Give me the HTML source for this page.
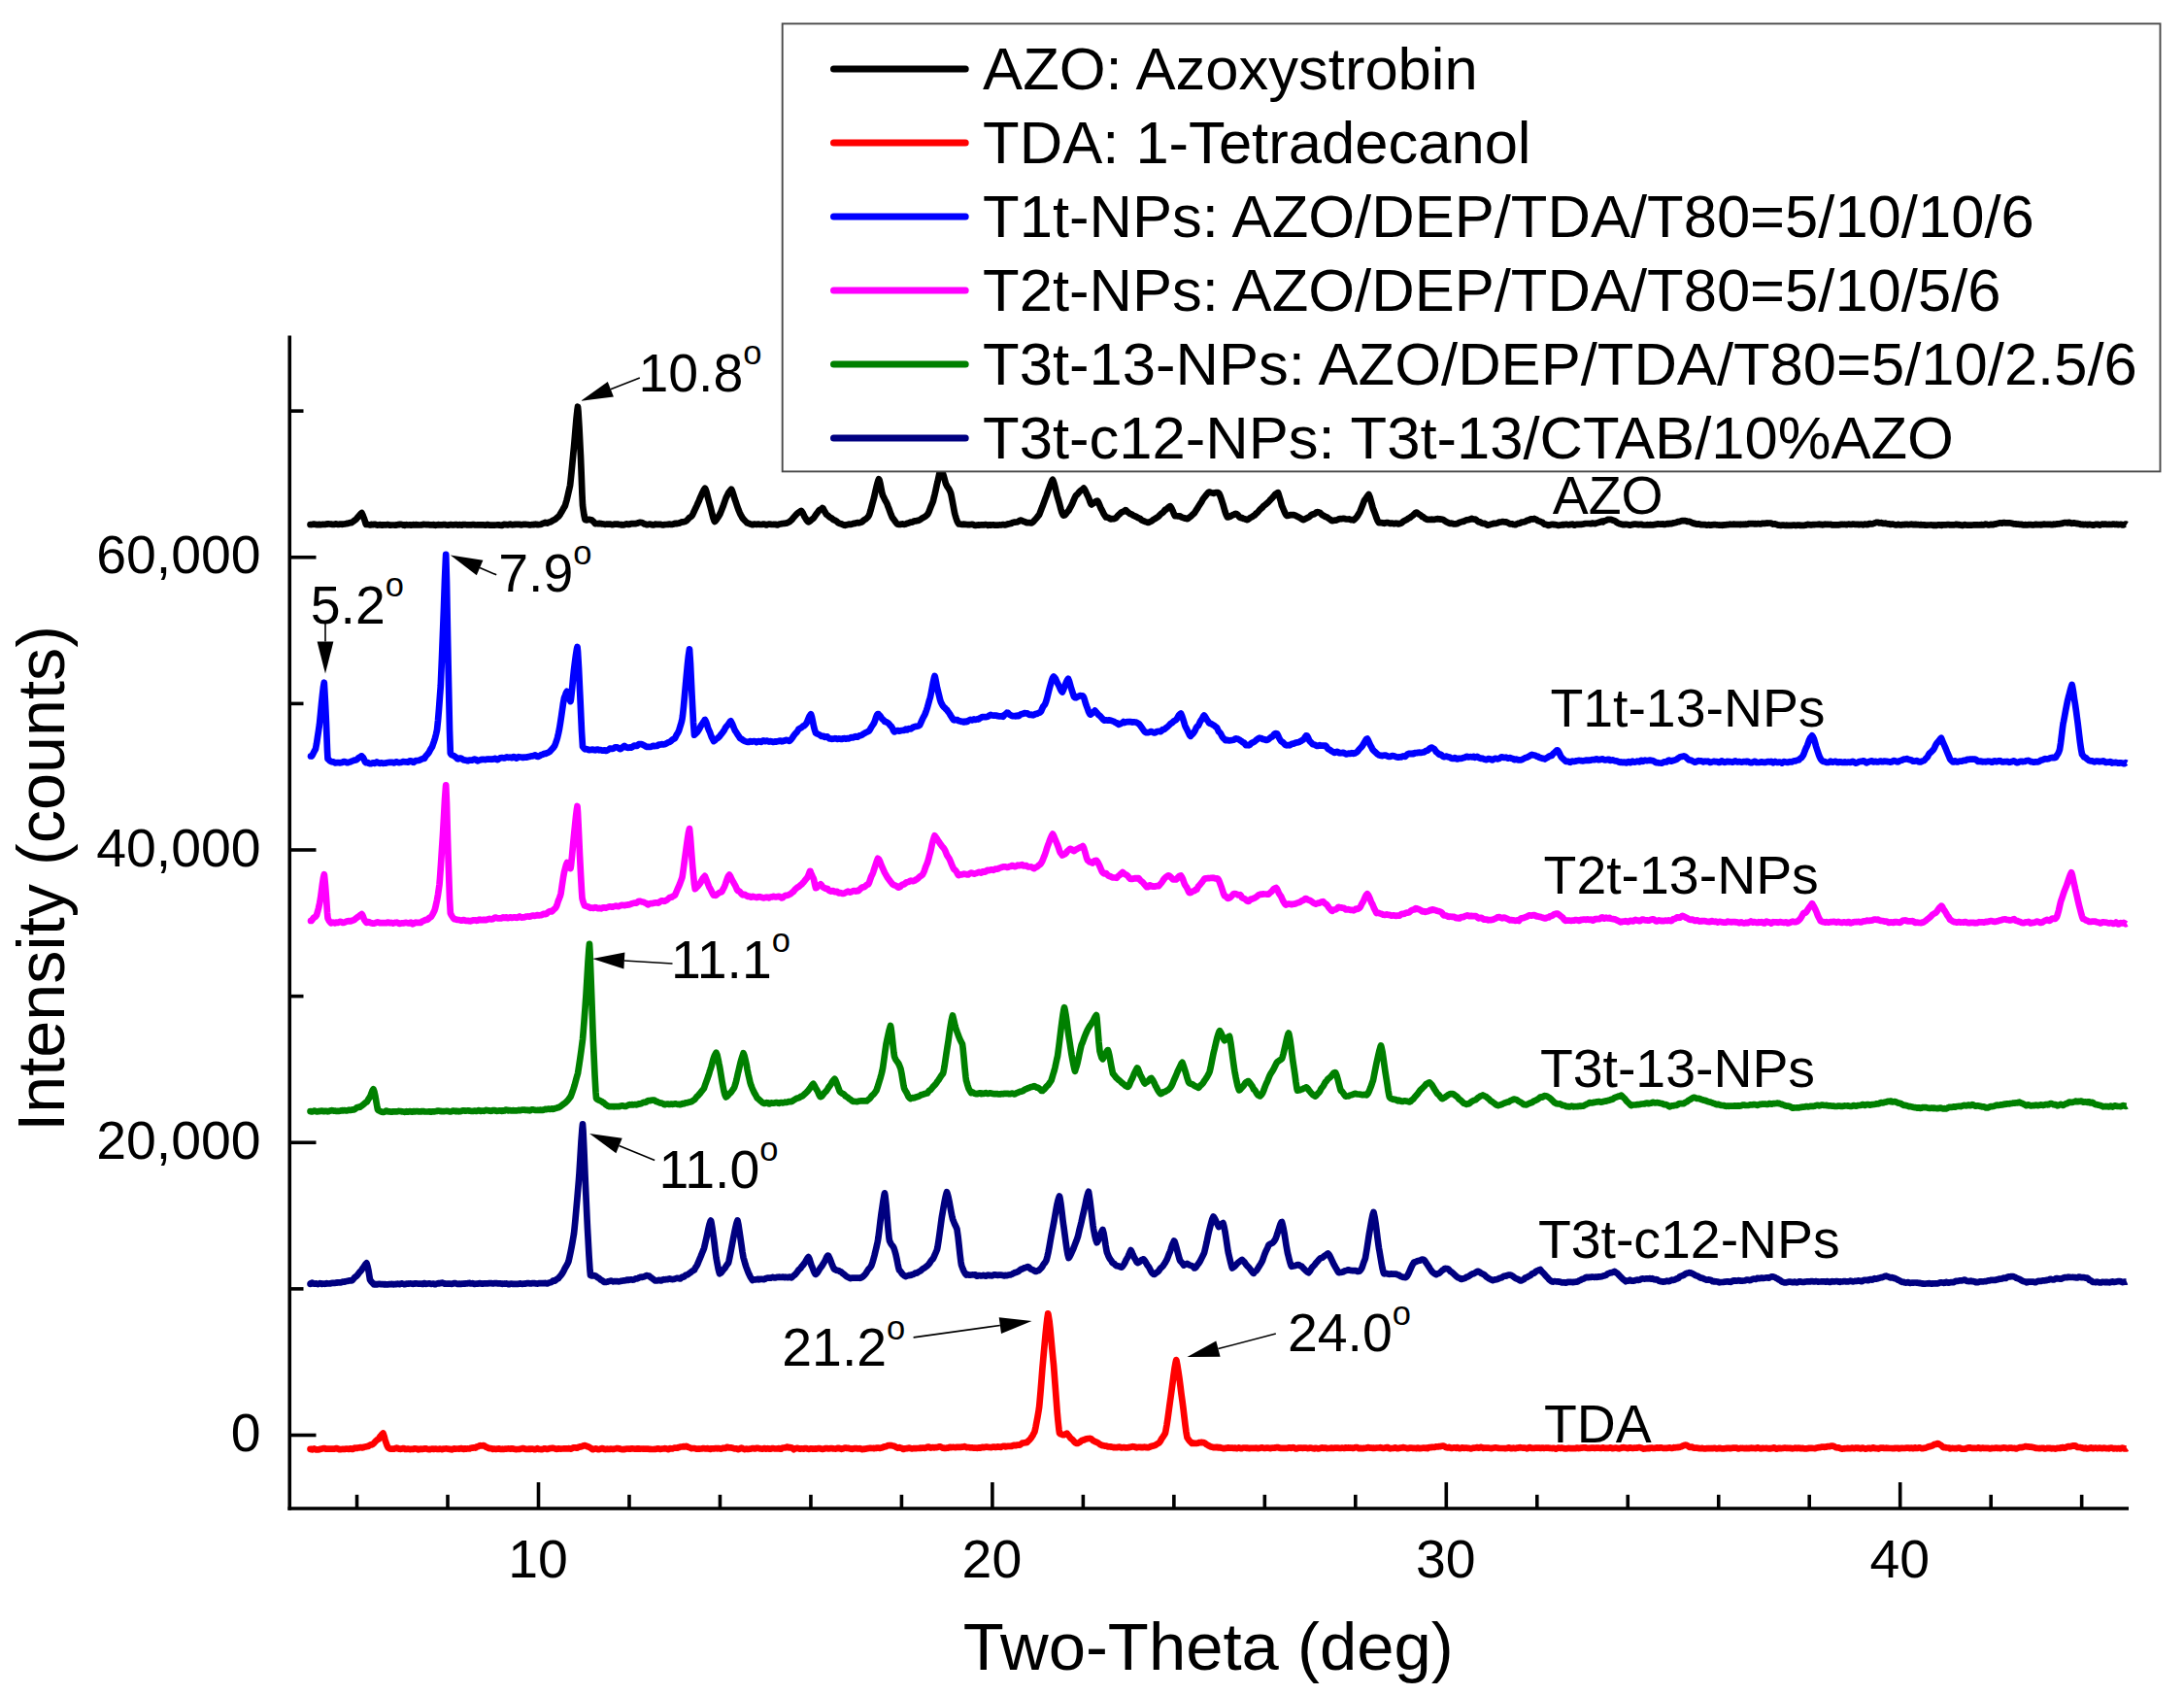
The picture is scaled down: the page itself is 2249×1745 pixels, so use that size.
<!DOCTYPE html>
<html><head><meta charset="utf-8"><title>XRD patterns</title>
<style>html,body{margin:0;padding:0;background:#fff}</style></head>
<body>
<svg width="2249" height="1745" viewBox="0 0 2249 1745" style="display:block">
<rect width="2249" height="1745" fill="#fff"/>
<g fill="none" stroke-width="6.7" stroke-linejoin="round" stroke-linecap="butt">
<path d="M319.5,540.0 L320.5,540.0 L321.5,539.9 L322.5,539.7 L323.5,539.7 L324.5,539.8 L325.5,540.0 L326.5,540.2 L327.5,540.0 L328.5,539.9 L329.5,540.1 L330.5,540.1 L331.5,540.0 L332.5,539.8 L333.5,540.0 L334.5,540.0 L335.5,539.7 L336.5,539.6 L337.5,539.4 L338.5,539.4 L339.5,539.5 L340.5,539.6 L341.5,539.7 L342.5,539.9 L343.5,540.0 L344.5,539.7 L345.5,539.4 L346.5,539.6 L347.5,539.9 L348.5,539.9 L349.5,539.7 L350.0,539.6 L350.5,539.6 L351.5,539.7 L352.5,539.8 L353.5,539.6 L354.5,539.5 L355.5,539.4 L356.5,539.1 L357.5,538.9 L358.5,538.8 L359.5,538.5 L360.5,538.1 L361.5,538.1 L362.0,538.1 L362.5,537.6 L363.5,537.0 L364.5,536.3 L365.5,535.4 L366.5,534.8 L367.5,533.7 L368.0,532.8 L368.5,532.4 L369.5,531.3 L370.5,530.0 L371.5,528.9 L372.5,528.1 L373.5,530.2 L374.5,532.9 L375.0,534.0 L375.5,535.5 L376.5,538.9 L377.0,539.9 L377.5,539.7 L378.5,539.8 L379.5,540.1 L380.5,540.4 L381.5,540.3 L382.5,539.9 L383.5,540.0 L384.5,540.1 L385.5,539.8 L386.5,539.9 L387.5,540.3 L388.5,540.6 L389.5,540.5 L390.5,540.3 L391.5,540.2 L392.5,540.4 L393.5,540.6 L394.5,540.4 L395.5,540.3 L396.5,540.4 L397.5,540.4 L398.5,540.2 L399.5,540.1 L400.0,540.2 L400.5,540.4 L401.5,540.7 L402.5,540.6 L403.5,540.5 L404.5,540.5 L405.5,540.5 L406.5,540.6 L407.5,540.6 L408.5,540.4 L409.5,540.2 L410.5,540.2 L411.5,539.9 L412.5,539.8 L413.5,540.0 L414.5,540.2 L415.5,540.6 L416.5,540.8 L417.5,540.4 L418.5,540.2 L419.5,540.4 L420.5,540.5 L421.5,540.4 L422.5,540.4 L423.5,540.6 L424.5,540.5 L425.5,540.2 L426.5,540.3 L427.5,540.3 L428.5,540.2 L429.5,540.3 L430.5,540.4 L431.5,540.5 L432.5,540.5 L433.5,540.4 L434.5,540.3 L435.5,540.1 L436.5,539.9 L437.5,540.0 L438.5,540.1 L439.5,540.1 L440.5,540.2 L441.5,540.2 L442.5,540.3 L443.5,540.4 L444.5,540.5 L445.5,540.3 L446.5,540.2 L447.5,540.6 L448.5,540.8 L449.5,540.5 L450.5,540.3 L451.5,540.2 L452.5,540.3 L453.5,540.5 L454.5,540.4 L455.5,540.3 L456.5,540.2 L457.5,540.1 L458.5,540.2 L459.5,540.5 L460.5,540.6 L461.5,540.6 L462.5,540.4 L463.5,540.2 L464.5,540.2 L465.5,540.3 L466.5,540.3 L467.5,540.3 L468.5,540.2 L469.5,540.0 L470.5,540.3 L471.5,540.6 L472.5,540.3 L473.5,540.2 L474.5,540.5 L475.5,540.6 L476.5,540.2 L477.5,540.1 L478.5,540.1 L479.5,540.1 L480.5,540.4 L481.5,540.5 L482.5,540.3 L483.5,540.3 L484.5,540.4 L485.5,540.3 L486.5,540.2 L487.5,540.0 L488.5,540.2 L489.5,540.5 L490.5,540.5 L491.5,540.4 L492.5,540.4 L493.5,540.3 L494.5,540.3 L495.5,540.4 L496.5,540.4 L497.5,540.3 L498.5,540.5 L499.5,540.7 L500.0,540.7 L500.5,540.5 L501.5,540.2 L502.5,540.1 L503.5,540.5 L504.5,540.7 L505.5,540.5 L506.5,540.6 L507.5,540.7 L508.5,540.7 L509.5,540.6 L510.5,540.5 L511.5,540.5 L512.5,540.3 L513.5,540.4 L514.5,540.6 L515.5,540.8 L516.5,541.0 L517.5,540.7 L518.5,540.1 L519.5,539.9 L520.5,540.2 L521.5,540.2 L522.5,540.3 L523.5,540.3 L524.5,539.8 L525.5,539.7 L526.5,540.1 L527.5,540.3 L528.5,540.2 L529.5,540.1 L530.5,539.9 L531.5,539.8 L532.5,539.9 L533.5,539.8 L534.5,539.8 L535.5,540.1 L536.5,540.3 L537.5,540.2 L538.5,540.0 L539.5,539.8 L540.5,539.8 L541.5,539.9 L542.5,540.0 L543.5,540.0 L544.5,540.2 L545.5,540.4 L546.5,540.4 L547.5,540.1 L548.5,540.1 L549.5,540.1 L550.5,539.9 L551.5,539.7 L552.5,539.9 L553.5,540.1 L554.5,540.1 L555.0,540.0 L555.5,540.0 L556.5,540.0 L557.5,539.6 L558.5,539.0 L559.5,538.7 L560.5,538.3 L561.5,537.9 L562.5,538.3 L563.5,538.6 L564.5,538.2 L565.0,537.7 L565.5,537.6 L566.5,537.5 L567.5,537.0 L568.5,536.3 L569.5,535.7 L570.5,535.2 L571.5,534.7 L572.5,534.0 L573.5,533.1 L574.5,532.2 L575.0,531.9 L575.5,531.4 L576.5,530.0 L577.5,528.2 L578.5,526.6 L579.5,524.8 L580.5,523.0 L581.5,521.4 L582.0,520.4 L582.5,518.5 L583.5,515.1 L584.5,511.0 L585.5,506.5 L586.5,502.2 L587.0,500.0 L587.5,495.8 L588.5,486.1 L589.5,475.7 L590.5,465.2 L591.0,460.3 L591.5,454.8 L592.5,442.9 L593.5,431.4 L594.5,422.0 L595.0,418.7 L595.5,423.9 L596.5,440.5 L597.5,460.6 L598.0,470.4 L598.5,482.8 L599.5,509.7 L600.0,520.0 L600.5,523.9 L601.5,530.6 L602.5,535.1 L603.5,535.4 L604.5,535.3 L605.5,535.0 L606.5,534.8 L607.5,535.0 L608.5,535.3 L608.8,535.3 L609.5,535.5 L610.5,536.4 L611.5,537.4 L612.5,538.6 L613.0,539.1 L613.5,539.0 L614.5,539.0 L615.5,539.1 L616.5,539.1 L617.5,538.9 L618.5,539.0 L619.5,539.3 L620.5,539.4 L621.5,539.5 L622.5,539.7 L623.5,539.9 L624.5,539.6 L625.5,539.5 L626.5,539.6 L627.5,539.6 L628.5,539.6 L629.5,540.0 L630.5,540.2 L631.5,540.0 L632.5,539.7 L633.5,539.7 L634.5,539.7 L635.5,539.6 L636.5,539.7 L637.5,540.0 L638.5,540.0 L639.5,540.3 L640.0,540.4 L640.5,540.2 L641.5,540.3 L642.5,540.3 L643.5,540.0 L644.5,539.5 L645.5,539.4 L646.5,539.7 L647.5,540.0 L648.5,539.8 L649.5,539.3 L650.5,539.1 L651.5,539.2 L652.5,539.2 L653.5,539.2 L654.5,539.1 L655.0,539.1 L655.5,538.8 L656.5,538.6 L657.5,538.2 L658.5,537.9 L659.5,537.9 L660.0,538.0 L660.5,538.0 L661.5,538.3 L662.5,538.8 L663.5,539.5 L664.0,539.5 L664.5,539.6 L665.5,540.1 L666.5,540.2 L667.5,539.9 L668.5,539.6 L669.5,539.7 L670.5,539.9 L671.5,540.3 L672.5,540.5 L673.5,540.2 L674.5,539.7 L675.5,539.7 L676.5,539.9 L677.5,539.8 L678.5,539.8 L679.5,539.8 L680.5,539.9 L681.5,540.2 L682.5,540.4 L683.5,540.3 L684.5,540.1 L685.5,540.0 L686.5,540.0 L687.5,539.9 L688.5,539.8 L689.5,539.6 L690.0,539.7 L690.5,539.9 L691.5,539.9 L692.5,539.8 L693.5,539.6 L694.5,539.1 L695.5,538.9 L696.5,539.1 L697.5,538.9 L698.5,538.7 L699.5,538.6 L700.5,538.2 L701.5,537.6 L702.5,537.4 L703.5,537.5 L704.5,537.1 L705.0,536.8 L705.5,536.8 L706.5,536.4 L707.5,535.6 L708.5,534.5 L709.5,533.3 L710.5,532.6 L711.5,532.0 L712.5,530.9 L713.0,530.2 L713.5,529.2 L714.5,527.0 L715.5,524.8 L716.5,522.7 L717.5,520.6 L718.5,518.3 L719.5,516.2 L720.0,515.1 L720.5,513.7 L721.5,511.4 L722.5,509.2 L723.5,506.9 L724.5,504.9 L725.5,503.3 L726.0,502.7 L726.5,503.6 L727.5,506.4 L728.5,510.3 L729.5,514.3 L730.5,518.0 L731.0,519.8 L731.5,521.6 L732.5,525.5 L733.5,529.7 L734.5,533.4 L735.5,536.2 L736.0,537.0 L736.5,536.6 L737.5,535.4 L738.5,534.0 L739.5,532.5 L740.5,530.8 L741.5,529.0 L742.0,527.9 L742.5,526.6 L743.5,524.1 L744.5,521.6 L745.5,518.7 L746.5,515.7 L747.5,512.9 L748.0,511.7 L748.5,510.9 L749.5,508.8 L750.5,506.8 L751.5,505.6 L752.5,504.5 L753.0,503.7 L753.5,504.3 L754.5,506.9 L755.5,510.1 L756.5,513.4 L757.0,514.8 L757.5,516.2 L758.5,519.2 L759.5,522.1 L760.5,524.9 L761.5,527.3 L762.5,529.5 L763.5,531.2 L764.5,533.1 L765.5,534.4 L766.5,535.4 L767.0,536.0 L767.5,536.5 L768.5,537.5 L769.5,538.4 L770.5,538.7 L771.5,539.0 L772.5,539.5 L773.5,539.7 L774.5,540.1 L775.5,540.1 L776.5,539.7 L777.5,539.6 L778.5,539.9 L779.5,540.0 L780.5,539.6 L781.5,539.7 L782.5,539.9 L783.5,540.0 L784.5,539.9 L785.5,539.7 L786.5,539.6 L787.5,539.8 L788.5,540.3 L789.5,540.3 L790.5,539.9 L791.5,539.6 L792.5,539.5 L793.5,539.7 L794.5,539.9 L795.5,540.0 L796.5,539.9 L797.5,539.8 L798.5,539.9 L799.5,540.1 L800.0,540.5 L800.5,540.5 L801.5,540.0 L802.5,539.6 L803.5,539.5 L804.5,539.3 L805.5,539.1 L806.5,539.0 L807.5,538.8 L808.5,538.8 L809.5,538.6 L810.5,538.4 L811.5,538.0 L812.0,537.7 L812.5,537.4 L813.5,536.7 L814.5,535.8 L815.5,534.9 L816.5,533.6 L817.5,532.4 L818.5,531.3 L819.5,530.2 L820.0,529.7 L820.5,529.2 L821.5,528.2 L822.5,527.5 L823.5,526.9 L824.5,526.2 L825.0,525.9 L825.5,526.3 L826.5,527.8 L827.5,529.9 L828.5,532.0 L829.0,532.8 L829.5,533.5 L830.5,535.2 L831.5,536.6 L832.5,537.4 L833.5,537.0 L834.5,536.2 L835.5,535.2 L836.5,534.4 L837.5,533.6 L838.0,533.1 L838.5,532.4 L839.5,530.9 L840.5,529.4 L841.5,528.1 L842.5,526.8 L843.0,525.9 L843.5,525.3 L844.5,524.7 L845.5,524.2 L846.5,523.6 L847.0,523.0 L847.5,523.3 L848.5,525.2 L849.5,527.1 L850.5,528.7 L851.0,529.7 L851.5,530.0 L852.5,530.6 L853.5,531.6 L854.5,532.4 L855.5,532.9 L856.5,533.6 L857.5,534.5 L858.5,535.2 L859.5,535.6 L860.5,536.1 L861.5,536.7 L862.5,537.5 L863.0,538.1 L863.5,538.4 L864.5,538.8 L865.5,539.2 L866.5,539.4 L867.5,539.8 L868.5,540.4 L869.5,540.7 L870.0,540.8 L870.5,540.6 L871.5,540.4 L872.5,540.2 L873.5,539.8 L874.5,539.7 L875.5,539.8 L876.5,539.8 L877.5,539.5 L878.5,539.1 L879.5,538.9 L880.5,538.8 L881.5,538.4 L882.5,538.1 L883.5,538.2 L884.5,538.4 L885.5,538.1 L886.5,537.7 L887.5,537.5 L888.5,536.7 L889.5,535.5 L890.5,534.9 L891.5,534.3 L892.5,533.5 L893.5,532.5 L894.5,531.1 L895.0,530.2 L895.5,528.8 L896.5,525.6 L897.5,521.7 L898.5,517.8 L899.5,514.3 L900.0,512.5 L900.5,510.2 L901.5,505.7 L902.5,501.4 L903.5,497.5 L904.5,494.3 L905.0,493.2 L905.5,494.2 L906.5,498.1 L907.5,503.3 L908.5,508.3 L909.0,510.1 L909.5,510.9 L910.5,513.0 L911.5,515.1 L912.5,516.8 L913.5,518.7 L914.0,520.1 L914.5,521.5 L915.5,524.0 L916.5,526.8 L917.5,529.6 L918.5,532.1 L919.0,533.1 L919.5,533.6 L920.5,534.9 L921.5,536.4 L922.5,537.7 L923.5,539.0 L924.5,539.7 L925.0,539.8 L925.5,539.8 L926.5,539.9 L927.5,539.8 L928.5,539.5 L929.5,539.4 L930.5,539.7 L931.5,539.9 L932.5,539.6 L933.5,539.0 L934.5,538.7 L935.5,538.7 L936.5,538.1 L937.5,537.7 L938.5,537.6 L939.5,537.4 L940.5,536.9 L941.5,536.3 L942.5,536.3 L943.5,536.3 L944.5,536.0 L945.0,535.9 L945.5,535.9 L946.5,535.4 L947.5,534.9 L948.5,534.3 L949.5,533.6 L950.5,532.9 L951.5,532.4 L952.5,532.0 L953.5,531.2 L954.5,530.2 L955.0,529.8 L955.5,529.1 L956.5,527.0 L957.5,524.3 L958.5,521.7 L959.5,519.4 L960.5,517.0 L961.0,515.4 L961.5,513.2 L962.5,509.3 L963.5,505.0 L964.5,500.3 L965.0,498.0 L965.5,496.1 L966.5,491.5 L967.5,486.8 L968.5,483.3 L969.0,482.5 L969.5,483.5 L970.5,486.0 L971.5,489.2 L972.5,492.7 L973.5,496.4 L974.0,498.1 L974.5,499.2 L975.5,501.0 L976.5,502.4 L977.5,504.0 L978.5,506.2 L979.0,507.4 L979.5,509.4 L980.5,514.6 L981.5,520.0 L982.5,525.3 L983.0,528.0 L983.5,529.9 L984.5,533.3 L985.5,536.3 L986.5,538.3 L987.5,539.5 L988.5,539.5 L989.5,539.7 L990.5,539.8 L991.5,539.8 L992.5,539.7 L993.5,539.8 L994.5,539.9 L995.5,540.0 L996.5,540.1 L997.5,540.1 L998.5,540.1 L999.5,540.0 L1000.5,539.9 L1001.5,539.8 L1002.5,540.3 L1003.5,540.8 L1004.5,541.0 L1005.5,540.8 L1006.5,540.5 L1007.5,540.4 L1008.5,540.6 L1009.5,540.5 L1010.5,540.3 L1011.5,540.3 L1012.5,540.3 L1013.5,540.3 L1014.5,540.2 L1015.5,540.1 L1016.5,540.4 L1017.5,540.8 L1018.5,540.6 L1019.5,540.4 L1020.5,540.6 L1021.5,540.5 L1022.5,540.3 L1023.5,540.4 L1024.5,540.7 L1025.5,540.6 L1026.5,540.7 L1027.5,540.7 L1028.5,540.5 L1029.5,540.4 L1030.5,540.5 L1031.5,540.5 L1032.0,540.2 L1032.5,540.1 L1033.5,540.2 L1034.5,540.3 L1035.5,540.4 L1036.5,540.1 L1037.5,539.6 L1038.5,539.4 L1039.5,539.2 L1040.5,538.9 L1041.5,538.8 L1042.5,538.2 L1043.5,537.8 L1044.5,537.7 L1045.0,537.6 L1045.5,537.6 L1046.5,537.5 L1047.5,537.4 L1048.5,537.0 L1049.5,536.3 L1050.5,535.7 L1051.0,535.6 L1051.5,535.7 L1052.5,536.1 L1053.5,536.7 L1054.5,536.9 L1055.5,537.2 L1056.5,537.8 L1057.0,538.1 L1057.5,538.1 L1058.5,538.1 L1059.5,538.1 L1060.5,538.2 L1061.5,538.3 L1062.5,538.3 L1063.5,537.6 L1064.5,536.6 L1065.5,535.3 L1066.5,534.3 L1067.5,533.2 L1068.5,531.9 L1069.5,530.6 L1070.0,530.2 L1070.5,529.0 L1071.5,526.3 L1072.5,523.7 L1073.5,521.3 L1074.5,518.6 L1075.5,515.9 L1076.5,513.2 L1077.0,511.9 L1077.5,510.6 L1078.5,507.7 L1079.5,504.8 L1080.5,502.2 L1081.5,499.5 L1082.5,496.6 L1083.5,494.4 L1084.0,493.9 L1084.5,495.0 L1085.5,497.8 L1086.5,501.6 L1087.5,505.9 L1088.5,509.9 L1089.0,511.7 L1089.5,513.3 L1090.5,516.7 L1091.5,520.5 L1092.5,524.4 L1093.5,527.7 L1094.5,529.9 L1095.0,530.6 L1095.5,530.5 L1096.5,530.2 L1097.5,529.3 L1098.5,527.9 L1099.5,526.7 L1100.5,525.6 L1101.0,524.8 L1101.5,523.7 L1102.5,521.9 L1103.5,520.0 L1104.5,517.8 L1105.5,515.3 L1106.5,513.0 L1107.5,511.0 L1108.0,510.0 L1108.5,509.6 L1109.5,508.9 L1110.5,507.7 L1111.5,506.3 L1112.5,505.3 L1113.5,504.7 L1114.5,504.0 L1115.5,503.1 L1116.0,502.6 L1116.5,503.3 L1117.5,505.0 L1118.5,507.1 L1119.5,509.3 L1120.0,510.3 L1120.5,511.2 L1121.5,513.7 L1122.5,516.6 L1123.5,518.9 L1124.0,519.4 L1124.5,519.0 L1125.5,518.5 L1126.5,517.9 L1127.5,516.9 L1128.5,516.1 L1129.5,515.8 L1130.0,515.7 L1130.5,516.1 L1131.5,518.0 L1132.5,520.5 L1133.5,522.9 L1134.0,523.9 L1134.5,524.7 L1135.5,526.8 L1136.5,528.9 L1137.5,530.4 L1138.5,531.9 L1139.0,532.5 L1139.5,532.5 L1140.5,532.7 L1141.5,533.0 L1142.5,533.7 L1143.5,534.3 L1144.5,534.3 L1145.5,534.0 L1146.5,534.0 L1147.5,534.1 L1148.5,533.6 L1149.5,532.8 L1150.5,531.6 L1151.5,530.5 L1152.5,529.6 L1153.5,528.7 L1154.0,528.1 L1154.5,527.6 L1155.5,527.2 L1156.5,526.7 L1157.5,526.2 L1158.5,525.7 L1159.0,525.2 L1159.5,525.3 L1160.5,526.3 L1161.5,527.3 L1162.5,528.0 L1163.5,528.8 L1164.0,529.2 L1164.5,529.2 L1165.5,529.6 L1166.5,530.3 L1167.5,530.9 L1168.5,531.2 L1169.5,531.8 L1170.0,531.9 L1170.5,532.1 L1171.5,532.9 L1172.5,533.3 L1173.5,533.6 L1174.5,534.3 L1175.5,535.3 L1176.5,535.9 L1177.5,536.2 L1178.5,536.7 L1179.5,537.1 L1180.5,537.4 L1181.5,537.7 L1182.5,538.0 L1183.5,537.5 L1184.5,537.0 L1185.5,536.6 L1186.5,536.0 L1187.5,535.1 L1188.5,534.5 L1189.5,534.0 L1190.5,533.3 L1191.5,532.7 L1192.0,532.4 L1192.5,532.1 L1193.5,531.2 L1194.5,530.0 L1195.5,529.0 L1196.5,528.3 L1197.5,527.7 L1198.5,526.6 L1199.5,525.1 L1200.0,524.7 L1200.5,524.7 L1201.5,524.0 L1202.5,522.9 L1203.5,522.0 L1204.5,521.4 L1205.0,521.2 L1205.5,521.8 L1206.5,523.5 L1207.5,525.6 L1208.5,528.1 L1209.5,530.3 L1210.0,531.1 L1210.5,531.1 L1211.5,531.1 L1212.5,531.4 L1213.5,531.4 L1214.5,531.3 L1215.5,531.5 L1216.0,531.9 L1216.5,532.3 L1217.5,532.7 L1218.5,533.0 L1219.5,533.4 L1220.5,533.6 L1221.5,533.8 L1222.5,534.2 L1223.5,533.8 L1224.5,532.9 L1225.5,532.1 L1226.5,531.3 L1227.5,530.3 L1228.5,529.4 L1229.5,528.6 L1230.0,528.1 L1230.5,527.3 L1231.5,525.7 L1232.5,524.2 L1233.5,522.6 L1234.5,520.9 L1235.5,519.4 L1236.5,517.8 L1237.5,516.3 L1238.0,515.3 L1238.5,514.3 L1239.5,512.9 L1240.5,511.7 L1241.5,510.4 L1242.5,509.1 L1243.5,507.9 L1244.5,506.9 L1245.0,506.5 L1245.5,506.6 L1246.5,507.0 L1247.5,507.3 L1248.5,507.5 L1249.5,507.8 L1250.0,507.9 L1250.5,507.5 L1251.5,507.3 L1252.5,507.1 L1253.5,507.0 L1254.5,507.3 L1255.0,507.6 L1255.5,508.3 L1256.5,510.5 L1257.5,513.3 L1258.5,516.5 L1259.0,518.0 L1259.5,519.5 L1260.5,523.1 L1261.5,526.6 L1262.5,529.5 L1263.5,531.6 L1264.0,532.4 L1264.5,532.4 L1265.5,532.2 L1266.5,531.8 L1267.5,531.5 L1268.0,531.1 L1268.5,530.5 L1269.5,530.1 L1270.5,529.9 L1271.5,529.2 L1272.5,528.8 L1273.5,529.2 L1274.5,529.9 L1275.5,531.2 L1276.5,532.6 L1277.5,533.1 L1278.0,532.8 L1278.5,532.8 L1279.5,533.5 L1280.5,534.0 L1281.5,534.1 L1282.5,534.4 L1283.5,534.9 L1284.5,535.2 L1285.0,534.9 L1285.5,534.4 L1286.5,533.8 L1287.5,533.1 L1288.5,532.4 L1289.5,531.9 L1290.5,531.2 L1291.5,530.6 L1292.0,530.6 L1292.5,529.9 L1293.5,528.6 L1294.5,527.9 L1295.5,527.0 L1296.5,525.7 L1297.5,524.6 L1298.5,523.6 L1299.5,522.8 L1300.0,522.4 L1300.5,521.6 L1301.5,520.6 L1302.5,520.0 L1303.5,519.2 L1304.5,518.3 L1305.5,517.4 L1306.5,516.5 L1307.5,515.5 L1308.0,514.7 L1308.5,514.2 L1309.5,513.3 L1310.5,512.2 L1311.5,511.0 L1312.5,509.7 L1313.5,508.7 L1314.5,508.1 L1315.5,507.3 L1316.0,507.1 L1316.5,508.5 L1317.5,511.5 L1318.5,514.7 L1319.5,518.6 L1320.0,520.6 L1320.5,521.7 L1321.5,524.0 L1322.5,526.3 L1323.5,528.5 L1324.5,530.2 L1325.0,530.9 L1325.5,531.0 L1326.5,530.8 L1327.5,530.5 L1328.5,530.2 L1329.5,530.1 L1330.5,530.0 L1331.5,530.1 L1332.5,530.2 L1333.5,530.5 L1334.5,530.9 L1335.5,531.4 L1336.5,531.9 L1337.5,532.4 L1338.5,533.1 L1339.5,533.7 L1340.5,534.3 L1341.5,534.9 L1342.5,535.1 L1343.5,534.5 L1344.5,534.0 L1345.5,533.5 L1346.5,533.0 L1347.5,532.5 L1348.5,532.0 L1349.5,531.0 L1350.0,530.4 L1350.5,530.1 L1351.5,529.6 L1352.5,529.4 L1353.5,529.2 L1354.5,528.4 L1355.5,527.5 L1356.5,527.2 L1357.5,527.3 L1358.5,527.6 L1359.5,528.1 L1360.5,529.1 L1361.5,530.1 L1362.5,530.7 L1363.5,531.1 L1364.5,531.8 L1365.0,532.1 L1365.5,532.1 L1366.5,532.6 L1367.5,533.3 L1368.5,534.0 L1369.5,534.6 L1370.5,535.5 L1371.5,536.1 L1372.5,536.1 L1373.5,535.8 L1374.5,535.7 L1375.5,535.7 L1376.5,535.5 L1377.5,534.9 L1378.5,534.4 L1379.5,534.0 L1380.5,534.0 L1381.5,534.1 L1382.5,534.0 L1383.5,533.8 L1384.5,534.0 L1385.5,534.3 L1386.5,534.5 L1387.5,534.5 L1388.5,534.5 L1389.5,534.4 L1390.5,534.9 L1391.5,535.2 L1392.5,535.1 L1393.5,535.2 L1394.0,535.5 L1394.5,535.0 L1395.5,534.1 L1396.5,533.0 L1397.5,531.7 L1398.5,530.1 L1399.5,528.3 L1400.0,527.7 L1400.5,526.6 L1401.5,524.1 L1402.5,521.6 L1403.5,519.0 L1404.5,516.3 L1405.0,515.1 L1405.5,514.5 L1406.5,513.1 L1407.5,511.6 L1408.5,510.2 L1409.5,509.1 L1410.5,511.3 L1411.5,514.7 L1412.5,518.4 L1413.5,522.2 L1414.0,523.9 L1414.5,525.0 L1415.5,527.6 L1416.5,530.4 L1417.5,533.3 L1418.5,535.9 L1419.5,537.6 L1420.0,538.1 L1420.5,537.9 L1421.5,538.0 L1422.5,538.2 L1423.5,538.3 L1424.5,538.6 L1425.5,538.8 L1426.5,538.5 L1427.5,538.1 L1428.5,538.1 L1429.5,538.1 L1430.5,538.4 L1431.5,538.9 L1432.5,538.8 L1433.5,538.6 L1434.5,539.0 L1435.5,539.2 L1436.5,538.9 L1437.5,538.7 L1438.5,538.9 L1439.5,539.1 L1440.0,539.3 L1440.5,539.3 L1441.5,539.0 L1442.5,538.7 L1443.5,538.2 L1444.5,537.3 L1445.5,536.4 L1446.5,535.9 L1447.5,535.4 L1448.5,534.9 L1449.5,534.4 L1450.0,533.9 L1450.5,533.6 L1451.5,533.2 L1452.5,532.5 L1453.5,531.6 L1454.5,531.0 L1455.5,530.2 L1456.5,529.1 L1457.5,528.1 L1458.5,527.7 L1459.0,527.7 L1459.5,528.0 L1460.5,528.8 L1461.5,529.6 L1462.5,530.0 L1463.5,530.8 L1464.5,531.9 L1465.0,532.0 L1465.5,532.0 L1466.5,533.0 L1467.5,533.8 L1468.5,534.3 L1469.5,534.9 L1470.0,534.9 L1470.5,534.8 L1471.5,534.9 L1472.5,535.0 L1473.5,534.8 L1474.5,534.7 L1475.5,534.9 L1476.5,535.0 L1477.5,534.7 L1478.5,534.5 L1479.5,534.3 L1480.5,534.2 L1481.5,534.3 L1482.5,534.4 L1483.5,534.6 L1484.5,534.7 L1485.5,534.8 L1486.5,535.3 L1487.5,536.0 L1488.5,536.7 L1489.5,537.3 L1490.5,537.7 L1491.5,538.3 L1492.5,538.8 L1493.5,538.8 L1494.5,538.7 L1495.5,538.9 L1496.0,539.2 L1496.5,539.5 L1497.5,539.4 L1498.5,539.3 L1499.5,539.3 L1500.5,539.1 L1501.5,538.7 L1502.5,538.1 L1503.5,537.7 L1504.5,537.4 L1505.5,537.1 L1506.0,536.9 L1506.5,537.0 L1507.5,536.7 L1508.5,536.0 L1509.5,535.6 L1510.5,535.3 L1511.5,535.2 L1512.5,535.0 L1513.5,534.7 L1514.5,534.3 L1515.5,533.9 L1516.0,534.0 L1516.5,534.2 L1517.5,534.5 L1518.5,534.7 L1519.5,534.7 L1520.5,535.4 L1521.5,536.5 L1522.5,537.2 L1523.5,537.5 L1524.0,537.4 L1524.5,537.5 L1525.5,538.3 L1526.5,538.9 L1527.5,538.9 L1528.5,538.8 L1529.5,539.1 L1530.5,539.9 L1531.5,540.6 L1532.5,540.6 L1533.5,540.3 L1534.5,539.9 L1535.5,539.6 L1536.5,539.5 L1537.5,539.1 L1538.5,538.9 L1539.5,539.0 L1540.5,538.9 L1541.5,538.6 L1542.5,538.3 L1543.5,537.8 L1544.5,537.5 L1545.5,537.5 L1546.5,537.3 L1547.5,537.0 L1548.5,537.2 L1549.5,537.4 L1550.5,537.4 L1551.5,537.6 L1552.5,538.0 L1553.5,538.6 L1554.5,539.2 L1555.5,539.5 L1556.5,539.3 L1557.5,539.4 L1558.5,539.9 L1559.5,540.0 L1560.0,540.1 L1560.5,540.2 L1561.5,539.7 L1562.5,539.1 L1563.5,538.8 L1564.5,538.8 L1565.5,538.5 L1566.5,537.8 L1567.5,537.5 L1568.5,537.5 L1569.5,537.3 L1570.0,537.0 L1570.5,537.0 L1571.5,536.5 L1572.5,535.8 L1573.5,535.6 L1574.5,535.5 L1575.5,534.8 L1576.5,534.3 L1577.5,534.3 L1578.5,534.6 L1579.5,534.3 L1580.0,534.0 L1580.5,534.3 L1581.5,534.6 L1582.5,535.2 L1583.5,535.9 L1584.5,536.4 L1585.5,536.7 L1586.5,537.1 L1587.5,537.7 L1588.0,537.7 L1588.5,537.9 L1589.5,539.0 L1590.5,539.7 L1591.5,539.8 L1592.5,540.0 L1593.5,540.5 L1594.5,541.0 L1595.0,541.0 L1595.5,540.5 L1596.5,540.2 L1597.5,540.1 L1598.5,539.8 L1599.5,539.9 L1600.5,540.2 L1601.5,540.2 L1602.5,540.3 L1603.5,540.5 L1604.5,540.9 L1605.5,540.8 L1606.5,540.6 L1607.5,540.5 L1608.5,540.2 L1609.5,540.2 L1610.5,540.3 L1611.5,540.0 L1612.5,539.9 L1613.5,539.9 L1614.5,540.2 L1615.5,540.4 L1616.5,540.1 L1617.5,539.9 L1618.5,539.8 L1619.5,539.6 L1620.0,539.8 L1620.5,540.4 L1621.5,540.6 L1622.5,540.2 L1623.5,539.8 L1624.5,539.9 L1625.5,539.9 L1626.5,539.9 L1627.5,539.9 L1628.5,539.8 L1629.5,539.7 L1630.5,539.5 L1631.5,539.2 L1632.5,539.0 L1633.5,539.0 L1634.5,539.0 L1635.5,539.0 L1636.5,539.0 L1637.5,539.1 L1638.5,539.1 L1639.5,538.7 L1640.0,538.6 L1640.5,538.7 L1641.5,539.0 L1642.5,539.1 L1643.5,538.7 L1644.5,538.4 L1645.5,538.1 L1646.5,537.8 L1647.5,537.6 L1648.5,537.1 L1649.5,536.7 L1650.0,537.4 L1650.5,537.4 L1651.5,536.5 L1652.5,536.2 L1653.5,535.9 L1654.5,535.5 L1655.5,534.9 L1656.5,534.8 L1657.5,534.8 L1658.5,534.8 L1659.0,534.8 L1659.5,535.0 L1660.5,535.5 L1661.5,535.8 L1662.5,536.2 L1663.5,536.6 L1664.5,537.4 L1665.0,538.0 L1665.5,538.2 L1666.5,538.7 L1667.5,539.1 L1668.5,539.3 L1669.5,539.7 L1670.0,539.8 L1670.5,539.9 L1671.5,540.2 L1672.5,540.2 L1673.5,539.9 L1674.5,539.8 L1675.5,540.0 L1676.5,540.1 L1677.5,540.5 L1678.5,540.7 L1679.5,540.4 L1680.5,540.1 L1681.5,539.9 L1682.5,539.7 L1683.5,539.6 L1684.5,539.7 L1685.5,539.8 L1686.5,539.9 L1687.5,540.1 L1688.5,540.0 L1689.5,539.8 L1690.5,539.9 L1691.5,540.3 L1692.5,540.5 L1693.5,540.5 L1694.5,540.5 L1695.5,540.4 L1696.5,540.2 L1697.5,540.4 L1698.5,540.5 L1699.5,540.1 L1700.0,540.3 L1700.5,540.5 L1701.5,540.3 L1702.5,540.3 L1703.5,540.2 L1704.5,539.9 L1705.5,539.8 L1706.5,539.6 L1707.5,539.4 L1708.5,539.5 L1709.5,539.6 L1710.5,539.7 L1711.5,539.5 L1712.5,539.4 L1713.5,539.8 L1714.5,539.9 L1715.5,539.5 L1716.5,539.2 L1717.5,539.2 L1718.5,539.3 L1719.5,539.0 L1720.0,538.8 L1720.5,539.2 L1721.5,539.2 L1722.5,538.6 L1723.5,538.4 L1724.5,538.2 L1725.5,538.0 L1726.5,537.7 L1727.5,537.2 L1728.5,537.1 L1729.5,537.1 L1730.5,536.6 L1731.5,536.3 L1732.5,536.1 L1733.5,536.1 L1734.0,536.2 L1734.5,536.1 L1735.5,536.2 L1736.5,536.4 L1737.5,536.8 L1738.5,536.8 L1739.5,536.8 L1740.5,537.3 L1741.5,537.8 L1742.5,538.3 L1743.5,538.8 L1744.5,538.7 L1745.0,538.8 L1745.5,539.3 L1746.5,539.5 L1747.5,539.7 L1748.5,539.6 L1749.5,539.4 L1750.5,539.7 L1751.5,540.1 L1752.5,540.2 L1753.5,540.1 L1754.5,540.1 L1755.5,540.1 L1756.5,540.3 L1757.5,540.7 L1758.5,540.5 L1759.5,540.2 L1760.0,540.4 L1760.5,540.7 L1761.5,540.7 L1762.5,540.4 L1763.5,540.3 L1764.5,540.2 L1765.5,540.0 L1766.5,540.1 L1767.5,540.4 L1768.5,540.4 L1769.5,540.5 L1770.5,540.7 L1771.5,540.6 L1772.5,540.6 L1773.5,540.8 L1774.5,540.6 L1775.5,540.4 L1776.5,540.4 L1777.5,540.3 L1778.5,540.1 L1779.5,540.1 L1780.5,540.0 L1781.5,539.7 L1782.5,539.9 L1783.5,540.0 L1784.5,539.8 L1785.5,539.7 L1786.5,539.8 L1787.5,540.0 L1788.5,539.9 L1789.5,539.8 L1790.0,539.9 L1790.5,539.8 L1791.5,539.9 L1792.5,540.1 L1793.5,539.8 L1794.5,539.8 L1795.5,540.0 L1796.5,539.8 L1797.5,539.7 L1798.5,539.8 L1799.5,539.7 L1800.5,539.2 L1801.5,539.1 L1802.5,539.2 L1803.5,539.1 L1804.5,539.1 L1805.5,539.2 L1806.5,539.3 L1807.5,539.2 L1808.5,539.3 L1809.5,539.3 L1810.5,539.1 L1811.5,539.3 L1812.5,539.5 L1813.5,539.2 L1814.5,538.9 L1815.0,538.8 L1815.5,538.8 L1816.5,538.9 L1817.5,538.9 L1818.5,538.5 L1819.5,538.5 L1820.0,538.7 L1820.5,538.6 L1821.5,538.5 L1822.5,538.5 L1823.5,538.6 L1824.5,539.1 L1825.5,539.6 L1826.5,539.5 L1827.5,539.4 L1828.5,539.6 L1829.5,539.9 L1830.0,540.1 L1830.5,540.4 L1831.5,540.6 L1832.5,540.7 L1833.5,540.8 L1834.5,540.8 L1835.5,540.6 L1836.5,540.5 L1837.5,540.7 L1838.5,540.9 L1839.5,540.7 L1840.0,540.6 L1840.5,540.9 L1841.5,540.9 L1842.5,540.8 L1843.5,540.8 L1844.5,540.9 L1845.5,540.9 L1846.5,540.6 L1847.5,540.6 L1848.5,540.8 L1849.5,540.9 L1850.5,540.7 L1851.5,540.6 L1852.5,540.5 L1853.5,540.8 L1854.5,540.9 L1855.5,540.8 L1856.5,541.0 L1857.5,540.9 L1858.5,540.7 L1859.5,540.6 L1860.5,540.2 L1861.5,539.9 L1862.5,540.0 L1863.5,540.2 L1864.5,540.3 L1865.5,540.3 L1866.5,540.2 L1867.5,540.0 L1868.5,540.1 L1869.5,540.0 L1870.5,540.0 L1871.5,540.0 L1872.5,539.8 L1873.5,539.7 L1874.5,539.9 L1875.5,540.1 L1876.5,540.3 L1877.5,540.2 L1878.5,539.9 L1879.5,539.7 L1880.5,539.9 L1881.5,539.8 L1882.5,539.8 L1883.5,540.0 L1884.5,540.0 L1885.5,539.8 L1886.0,540.1 L1886.5,540.3 L1887.5,540.3 L1888.5,540.3 L1889.5,540.3 L1890.5,540.4 L1891.5,540.4 L1892.5,540.3 L1893.5,540.3 L1894.5,540.2 L1895.5,539.9 L1896.5,539.8 L1897.5,539.9 L1898.5,540.0 L1899.5,539.9 L1900.5,540.0 L1901.5,540.2 L1902.5,539.9 L1903.5,539.6 L1904.5,539.8 L1905.5,540.0 L1906.5,539.9 L1907.5,539.7 L1908.5,539.6 L1909.5,539.8 L1910.5,540.0 L1911.5,539.9 L1912.5,539.8 L1913.5,539.9 L1914.5,540.1 L1915.5,540.0 L1916.5,539.8 L1917.5,540.0 L1918.5,540.3 L1919.5,540.0 L1920.0,539.7 L1920.5,539.7 L1921.5,539.8 L1922.5,540.1 L1923.5,540.0 L1924.5,539.3 L1925.5,539.0 L1926.5,539.3 L1927.5,539.4 L1928.5,539.2 L1929.5,538.9 L1930.5,538.4 L1931.5,538.1 L1932.5,537.8 L1933.5,537.8 L1934.5,538.0 L1934.7,538.2 L1935.5,538.5 L1936.5,538.3 L1937.5,538.2 L1938.5,538.7 L1939.5,539.0 L1940.5,538.8 L1941.5,538.7 L1942.5,539.1 L1943.5,539.4 L1944.5,539.3 L1945.5,539.4 L1946.5,539.8 L1947.5,539.8 L1948.5,539.6 L1949.5,539.7 L1950.0,539.8 L1950.5,540.0 L1951.5,540.2 L1952.5,540.4 L1953.5,540.2 L1954.5,539.9 L1955.5,540.1 L1956.5,540.4 L1957.5,540.4 L1958.5,540.3 L1959.5,540.0 L1960.5,540.0 L1961.5,540.2 L1962.5,539.8 L1963.5,539.8 L1964.5,540.1 L1965.5,540.1 L1966.5,540.0 L1967.5,539.8 L1968.5,539.7 L1969.5,539.9 L1970.5,540.1 L1971.5,540.1 L1972.5,539.9 L1973.5,540.1 L1974.5,540.0 L1975.5,540.1 L1976.5,540.4 L1977.5,540.2 L1978.5,540.2 L1979.5,540.5 L1980.5,540.4 L1981.5,540.4 L1982.5,540.6 L1983.5,540.7 L1984.5,540.6 L1985.5,540.5 L1986.5,540.5 L1987.5,540.5 L1988.5,540.4 L1989.5,540.5 L1990.5,540.8 L1991.5,540.7 L1992.5,540.7 L1993.5,541.0 L1994.5,540.7 L1995.5,540.4 L1996.5,540.4 L1997.5,540.4 L1998.5,540.7 L1999.5,540.8 L2000.0,540.4 L2000.5,540.3 L2001.5,540.5 L2002.5,540.4 L2003.5,540.3 L2004.5,540.3 L2005.5,540.1 L2006.5,540.1 L2007.5,540.3 L2008.5,540.4 L2009.5,540.4 L2010.5,540.3 L2011.5,540.4 L2012.5,540.4 L2013.5,540.1 L2014.5,539.9 L2015.5,540.1 L2016.5,540.3 L2017.5,540.2 L2018.5,540.4 L2019.5,540.7 L2020.5,540.8 L2021.5,540.8 L2022.5,540.3 L2023.5,540.2 L2024.5,540.5 L2025.5,540.6 L2026.5,540.6 L2027.5,540.5 L2028.5,540.6 L2029.5,540.6 L2030.5,540.6 L2031.5,540.5 L2032.5,540.4 L2033.5,540.3 L2034.5,540.4 L2035.5,540.4 L2036.5,540.4 L2037.5,540.5 L2038.5,540.4 L2039.5,540.3 L2040.5,540.2 L2041.5,540.3 L2042.5,540.5 L2043.5,540.1 L2044.5,539.7 L2045.5,539.8 L2046.5,540.1 L2047.5,540.5 L2048.5,540.4 L2049.5,540.1 L2050.0,539.9 L2050.5,540.0 L2051.5,540.2 L2052.5,540.1 L2053.5,539.7 L2054.5,539.6 L2055.5,539.4 L2056.5,539.0 L2057.5,538.9 L2058.5,538.6 L2059.5,538.3 L2060.5,538.5 L2061.5,538.6 L2062.5,538.2 L2063.5,538.0 L2064.5,538.3 L2065.5,538.3 L2066.0,538.4 L2066.5,538.4 L2067.5,538.3 L2068.5,538.3 L2069.5,538.4 L2070.5,538.5 L2071.5,538.7 L2072.5,539.0 L2073.5,539.3 L2074.5,539.4 L2075.5,539.4 L2076.5,539.6 L2077.5,539.7 L2078.5,539.7 L2079.5,539.8 L2080.0,539.9 L2080.5,539.9 L2081.5,539.9 L2082.5,540.1 L2083.5,540.5 L2084.5,540.5 L2085.5,540.2 L2086.5,540.3 L2087.5,540.5 L2088.5,540.3 L2089.5,540.0 L2090.5,540.1 L2091.5,540.2 L2092.5,540.3 L2093.5,540.4 L2094.5,540.3 L2095.5,540.1 L2096.5,539.9 L2097.5,540.1 L2098.5,540.2 L2099.5,540.1 L2100.5,540.0 L2101.5,540.3 L2102.5,540.2 L2103.5,539.9 L2104.5,539.7 L2105.5,539.7 L2106.5,539.9 L2107.5,540.0 L2108.5,539.8 L2109.5,539.8 L2110.5,539.8 L2111.5,539.9 L2112.5,540.2 L2113.5,540.2 L2114.5,539.7 L2115.0,539.7 L2115.5,539.9 L2116.5,539.8 L2117.5,539.6 L2118.5,539.4 L2119.5,539.3 L2120.5,539.3 L2121.5,539.2 L2122.5,538.9 L2123.5,538.8 L2124.5,538.4 L2125.5,538.1 L2126.5,538.2 L2127.5,538.2 L2128.5,538.1 L2129.0,538.3 L2129.5,538.3 L2130.5,537.9 L2131.5,538.1 L2132.5,538.7 L2133.5,538.8 L2134.5,538.5 L2135.5,538.4 L2136.5,538.6 L2137.5,538.8 L2138.5,538.9 L2139.5,539.1 L2140.5,539.2 L2141.5,539.4 L2142.5,539.8 L2143.5,539.8 L2144.5,539.9 L2145.0,540.2 L2145.5,540.2 L2146.5,540.0 L2147.5,539.9 L2148.5,540.0 L2149.5,540.3 L2150.5,540.2 L2151.5,539.8 L2152.5,540.0 L2153.5,540.2 L2154.5,540.4 L2155.5,540.6 L2156.5,540.4 L2157.5,540.0 L2158.5,539.8 L2159.5,539.8 L2160.5,539.9 L2161.5,540.3 L2162.5,540.6 L2163.5,540.1 L2164.5,539.5 L2165.5,539.7 L2166.5,539.8 L2167.5,539.7 L2168.5,539.7 L2169.5,539.9 L2170.5,540.0 L2171.5,539.9 L2172.5,539.9 L2173.5,540.0 L2174.5,539.9 L2175.5,539.7 L2176.5,539.6 L2177.5,539.8 L2178.5,539.9 L2179.5,539.7 L2180.5,539.9 L2181.5,540.1 L2182.5,540.0 L2183.5,539.9 L2184.5,539.9 L2185.5,540.3 L2186.5,540.4 L2187.5,540.0 L2188.5,539.6 L2189.5,539.7 L2190.0,540.0" stroke="#000"/>
<circle cx="319.5" cy="540.0" r="3.35" fill="#000" stroke="none"/>
<path d="M320.0,778.5 L321.0,778.3 L322.0,776.8 L323.0,774.8 L324.0,772.8 L325.0,771.0 L326.0,765.7 L327.0,759.0 L328.0,752.5 L329.0,745.5 L330.0,735.5 L331.0,725.0 L332.0,715.5 L333.0,707.0 L333.8,702.7 L334.0,706.0 L335.0,723.7 L336.0,745.2 L337.0,772.2 L337.5,781.3 L338.0,781.5 L339.0,782.7 L340.0,783.4 L341.0,784.1 L342.0,784.4 L343.0,784.3 L344.0,784.6 L345.0,785.3 L346.0,785.4 L347.0,785.1 L348.0,785.0 L349.0,785.2 L350.0,785.3 L351.0,785.2 L352.0,785.2 L353.0,784.6 L354.0,784.1 L355.0,784.1 L356.0,784.4 L357.0,785.1 L358.0,785.2 L359.0,784.7 L360.0,784.5 L361.0,784.2 L362.0,783.7 L363.0,783.4 L364.0,783.1 L365.0,782.6 L366.0,782.6 L367.0,782.3 L368.0,781.6 L369.0,780.4 L370.0,779.8 L371.0,779.3 L372.0,778.4 L372.5,778.4 L373.0,779.0 L374.0,780.1 L375.0,782.1 L376.0,784.5 L377.0,785.2 L378.0,784.8 L379.0,785.2 L380.0,785.9 L381.0,786.2 L382.0,786.2 L383.0,785.7 L384.0,785.3 L385.0,785.4 L386.0,785.8 L387.0,785.1 L388.0,784.4 L389.0,784.9 L390.0,785.6 L391.0,785.9 L392.0,785.5 L393.0,785.3 L394.0,785.7 L395.0,785.9 L396.0,785.6 L397.0,785.6 L398.0,785.4 L399.0,785.1 L400.0,785.0 L401.0,784.9 L402.0,784.9 L403.0,785.0 L404.0,784.8 L405.0,785.2 L406.0,785.4 L407.0,784.8 L408.0,784.4 L409.0,784.6 L410.0,785.0 L411.0,785.1 L412.0,785.0 L413.0,784.9 L414.0,784.6 L415.0,784.2 L416.0,784.1 L417.0,784.4 L418.0,784.5 L419.0,784.4 L420.0,784.7 L421.0,784.2 L422.0,783.3 L423.0,783.3 L424.0,783.7 L425.0,784.6 L426.0,784.8 L427.0,783.9 L428.0,783.2 L429.0,783.1 L430.0,783.0 L431.0,783.0 L432.0,782.6 L433.0,782.0 L434.0,781.7 L435.0,781.1 L436.0,780.8 L437.0,780.8 L437.5,780.3 L438.0,779.1 L439.0,777.8 L440.0,776.7 L441.0,775.6 L442.0,774.1 L443.0,772.0 L444.0,770.4 L445.0,768.9 L446.0,766.0 L447.0,763.1 L448.0,759.9 L449.0,756.0 L450.0,751.5 L451.0,742.1 L452.0,730.1 L453.0,716.4 L453.8,706.1 L454.0,701.0 L455.0,677.3 L456.0,651.7 L456.5,639.1 L457.0,625.9 L458.0,597.1 L459.0,574.2 L459.2,570.8 L460.0,599.0 L461.0,654.3 L461.5,679.8 L462.0,703.3 L463.0,751.2 L463.8,775.3 L464.0,775.9 L465.0,777.1 L466.0,777.6 L467.0,777.9 L468.0,778.5 L469.0,779.2 L470.0,780.2 L471.0,781.2 L472.0,781.3 L473.0,780.8 L474.0,780.5 L475.0,780.7 L476.0,781.4 L477.0,782.2 L478.0,782.5 L479.0,782.6 L480.0,782.8 L481.0,783.1 L482.0,783.3 L483.0,782.8 L484.0,782.5 L485.0,782.6 L486.0,782.7 L487.0,782.3 L488.0,781.8 L489.0,781.6 L490.0,781.9 L491.0,782.9 L492.0,783.3 L493.0,782.7 L494.0,782.5 L495.0,782.3 L496.0,781.8 L497.0,781.8 L498.0,781.8 L499.0,782.0 L500.0,782.1 L501.0,781.5 L502.0,781.6 L503.0,781.7 L504.0,781.5 L505.0,781.6 L506.0,781.8 L507.0,781.6 L508.0,781.6 L509.0,781.1 L510.0,780.8 L511.0,781.6 L512.0,782.2 L513.0,781.8 L514.0,781.1 L515.0,780.4 L516.0,780.2 L517.0,780.1 L518.0,780.3 L519.0,780.5 L520.0,780.2 L521.0,779.7 L522.0,779.4 L523.0,779.7 L524.0,779.9 L525.0,779.6 L526.0,779.9 L527.0,780.2 L528.0,779.5 L529.0,779.0 L530.0,779.4 L531.0,780.3 L532.0,780.7 L533.0,779.9 L534.0,779.2 L535.0,779.4 L536.0,779.5 L537.0,779.5 L538.0,779.9 L539.0,780.0 L540.0,779.6 L541.0,779.5 L542.0,779.7 L543.0,779.5 L544.0,779.0 L545.0,779.0 L546.0,778.7 L547.0,778.4 L548.0,778.5 L549.0,778.3 L550.0,777.8 L551.0,777.4 L552.0,777.8 L553.0,778.8 L554.0,779.0 L555.0,778.5 L556.0,778.0 L557.0,777.3 L558.0,777.0 L559.0,776.8 L560.0,776.1 L561.0,775.9 L562.0,775.9 L562.5,775.7 L563.0,775.3 L564.0,775.0 L565.0,774.5 L566.0,773.9 L567.0,772.8 L568.0,771.7 L569.0,770.7 L570.0,769.5 L571.0,768.1 L572.0,765.7 L573.0,762.9 L574.0,759.6 L575.0,755.3 L576.0,750.5 L577.0,744.4 L578.0,737.7 L579.0,730.7 L580.0,723.8 L581.0,718.4 L582.0,715.9 L583.0,713.2 L583.8,711.8 L584.0,712.8 L585.0,715.4 L586.0,718.4 L587.0,721.2 L587.5,722.1 L588.0,719.5 L589.0,710.5 L590.0,699.4 L591.0,689.6 L592.0,681.8 L593.0,674.2 L594.0,668.1 L594.5,665.9 L595.0,670.7 L596.0,687.7 L597.0,709.2 L597.5,719.4 L598.0,730.3 L599.0,752.9 L600.0,768.7 L601.0,769.9 L602.0,771.0 L602.5,771.3 L603.0,771.2 L604.0,771.1 L605.0,771.4 L606.0,771.9 L607.0,772.1 L608.0,772.0 L609.0,771.8 L610.0,771.7 L611.0,771.8 L612.0,772.1 L613.0,772.3 L614.0,772.0 L615.0,771.5 L616.0,771.8 L617.0,772.3 L618.0,772.1 L619.0,772.0 L620.0,772.6 L621.0,772.7 L622.0,772.3 L623.0,772.4 L624.0,772.9 L625.0,772.7 L626.0,772.1 L627.0,771.5 L628.0,770.7 L629.0,770.6 L630.0,771.0 L631.0,771.0 L632.0,770.4 L633.0,769.6 L634.0,769.4 L635.0,769.3 L636.0,769.5 L637.0,770.1 L638.0,770.9 L639.0,771.1 L640.0,770.4 L641.0,769.4 L642.0,768.5 L643.0,767.9 L644.0,768.5 L645.0,769.4 L646.0,769.7 L647.0,769.8 L648.0,769.5 L649.0,769.4 L650.0,769.6 L651.0,769.2 L652.0,768.3 L653.0,767.5 L654.0,767.5 L655.0,768.0 L656.0,768.0 L657.0,767.0 L658.0,766.1 L659.0,766.0 L660.0,766.0 L661.0,766.2 L662.0,766.7 L663.0,767.2 L664.0,767.7 L665.0,768.4 L666.0,768.8 L667.0,768.8 L667.5,768.8 L668.0,768.9 L669.0,769.0 L670.0,768.9 L671.0,768.6 L672.0,768.1 L673.0,767.9 L674.0,768.1 L675.0,768.0 L676.0,768.0 L677.0,767.7 L678.0,766.8 L679.0,766.6 L680.0,766.6 L681.0,766.3 L682.0,766.2 L683.0,766.5 L684.0,766.3 L685.0,766.0 L686.0,765.5 L687.0,765.0 L688.0,764.4 L689.0,764.0 L690.0,763.7 L691.0,762.9 L692.0,761.9 L693.0,761.1 L694.0,760.7 L695.0,760.1 L696.0,758.0 L697.0,756.0 L698.0,754.6 L699.0,752.6 L700.0,749.3 L701.0,746.1 L702.0,742.5 L702.5,740.1 L703.0,736.5 L704.0,727.1 L705.0,716.1 L706.0,705.0 L707.0,694.4 L708.0,683.9 L709.0,674.7 L710.0,668.3 L711.0,683.2 L712.0,704.5 L712.5,714.8 L713.0,724.7 L714.0,744.0 L715.0,756.7 L716.0,755.7 L717.0,754.8 L718.0,753.7 L719.0,752.3 L720.0,750.7 L721.0,748.7 L722.0,746.9 L723.0,745.3 L724.0,743.8 L725.0,742.4 L725.8,741.1 L726.0,741.0 L727.0,743.0 L728.0,745.7 L729.0,749.1 L730.0,751.7 L731.0,753.8 L732.0,756.7 L733.0,759.3 L734.0,761.2 L735.0,763.0 L736.0,762.4 L737.0,761.1 L738.0,760.6 L739.0,760.0 L740.0,759.1 L741.0,758.1 L742.0,756.7 L743.0,755.5 L744.0,754.2 L745.0,752.8 L746.0,751.3 L747.0,749.3 L748.0,747.9 L749.0,746.9 L750.0,745.7 L751.0,744.1 L752.0,742.6 L752.5,742.3 L753.0,743.2 L754.0,745.1 L755.0,747.5 L756.0,750.1 L757.0,752.2 L758.0,753.6 L759.0,755.3 L760.0,756.9 L761.0,758.3 L762.0,759.9 L762.5,760.4 L763.0,760.5 L764.0,761.0 L765.0,761.9 L766.0,762.6 L767.0,763.1 L768.0,763.4 L769.0,763.7 L770.0,763.9 L771.0,764.0 L772.0,763.3 L773.0,763.0 L774.0,763.6 L775.0,763.5 L776.0,763.0 L777.0,763.0 L778.0,763.5 L779.0,764.1 L780.0,763.7 L781.0,763.0 L782.0,763.2 L783.0,763.7 L784.0,763.8 L785.0,762.9 L786.0,762.3 L787.0,762.9 L788.0,763.1 L789.0,762.7 L790.0,762.5 L791.0,763.3 L792.0,763.6 L793.0,763.0 L794.0,763.2 L795.0,763.6 L796.0,764.0 L797.0,763.7 L798.0,763.3 L799.0,763.6 L800.0,763.4 L801.0,763.1 L802.0,763.1 L803.0,762.6 L804.0,762.6 L805.0,763.3 L806.0,763.1 L807.0,762.7 L808.0,762.6 L809.0,762.1 L810.0,761.9 L811.0,762.3 L812.0,762.5 L812.5,762.9 L813.0,762.8 L814.0,761.8 L815.0,760.8 L816.0,759.5 L817.0,757.9 L818.0,756.5 L819.0,755.2 L820.0,754.3 L821.0,753.1 L822.0,751.4 L822.5,750.5 L823.0,750.3 L824.0,749.8 L825.0,749.3 L826.0,748.4 L827.0,747.5 L828.0,747.2 L829.0,746.3 L830.0,745.1 L831.0,743.5 L832.0,741.0 L833.0,738.6 L834.0,736.6 L835.0,735.2 L836.0,738.1 L837.0,742.9 L838.0,747.8 L839.0,751.7 L840.0,754.5 L841.0,755.2 L842.0,755.6 L843.0,756.0 L844.0,756.6 L845.0,757.3 L846.0,758.0 L847.0,757.8 L848.0,757.9 L849.0,758.8 L850.0,759.0 L851.0,758.4 L852.0,758.4 L853.0,759.5 L854.0,760.3 L855.0,760.4 L856.0,760.7 L857.0,760.8 L858.0,760.6 L859.0,760.5 L860.0,760.2 L861.0,760.4 L862.0,761.0 L863.0,760.8 L864.0,760.4 L865.0,760.7 L866.0,760.8 L867.0,760.7 L867.5,760.9 L868.0,760.6 L869.0,760.0 L870.0,760.3 L871.0,760.7 L872.0,760.2 L873.0,760.2 L874.0,760.4 L875.0,760.0 L876.0,759.3 L877.0,759.1 L878.0,759.4 L879.0,759.2 L880.0,758.4 L881.0,758.1 L882.0,758.6 L883.0,758.7 L884.0,758.0 L885.0,757.4 L886.0,757.2 L887.0,757.0 L888.0,756.4 L889.0,755.5 L890.0,755.1 L891.0,754.6 L892.0,753.9 L893.0,753.6 L894.0,753.1 L895.0,752.4 L896.0,750.9 L897.0,749.0 L898.0,747.5 L899.0,746.0 L900.0,744.4 L901.0,742.0 L902.0,738.8 L903.0,736.2 L904.0,735.0 L904.5,735.1 L905.0,735.9 L906.0,736.7 L907.0,737.9 L908.0,739.6 L909.0,740.6 L910.0,741.4 L911.0,742.8 L912.0,743.2 L913.0,743.4 L914.0,744.1 L915.0,744.8 L916.0,745.9 L917.0,747.2 L918.0,748.1 L919.0,749.8 L920.0,752.1 L921.0,753.4 L922.0,752.9 L923.0,752.6 L924.0,752.2 L925.0,752.2 L926.0,752.6 L927.0,752.5 L928.0,752.1 L929.0,752.0 L930.0,751.9 L931.0,751.8 L932.0,751.2 L932.5,750.8 L933.0,751.3 L934.0,751.5 L935.0,750.6 L936.0,750.2 L937.0,750.5 L938.0,750.4 L939.0,749.6 L940.0,748.8 L941.0,748.6 L942.0,748.1 L943.0,747.8 L944.0,747.9 L945.0,747.6 L946.0,747.3 L947.0,746.6 L948.0,744.7 L949.0,742.4 L950.0,740.2 L951.0,738.1 L952.0,736.3 L952.5,735.4 L953.0,734.0 L954.0,731.3 L955.0,728.2 L956.0,724.6 L957.0,720.8 L957.5,719.3 L958.0,717.6 L959.0,712.7 L960.0,707.3 L961.0,701.9 L962.0,697.5 L962.5,695.9 L963.0,697.4 L964.0,702.5 L965.0,707.8 L966.0,711.9 L967.0,715.9 L968.0,720.1 L969.0,723.2 L970.0,725.0 L971.0,726.8 L972.0,727.9 L973.0,728.8 L974.0,729.9 L975.0,730.8 L976.0,732.2 L977.0,733.5 L978.0,735.0 L979.0,736.7 L980.0,738.3 L981.0,739.9 L982.0,741.1 L982.5,741.4 L983.0,741.2 L984.0,741.2 L985.0,741.1 L986.0,741.2 L987.0,742.1 L988.0,742.4 L989.0,742.4 L990.0,742.8 L991.0,742.8 L992.0,742.9 L992.5,743.3 L993.0,742.9 L994.0,742.6 L995.0,743.1 L996.0,743.0 L997.0,742.1 L998.0,741.4 L999.0,740.9 L1000.0,741.0 L1001.0,741.4 L1002.0,741.0 L1003.0,740.4 L1004.0,740.7 L1005.0,741.0 L1006.0,740.4 L1007.0,740.1 L1007.5,740.5 L1008.0,740.3 L1009.0,739.6 L1010.0,738.9 L1011.0,738.2 L1012.0,738.0 L1013.0,738.1 L1014.0,738.1 L1015.0,738.2 L1016.0,738.0 L1017.0,737.7 L1018.0,737.2 L1019.0,736.4 L1020.0,735.9 L1021.0,736.3 L1022.0,736.5 L1023.0,736.6 L1024.0,736.7 L1025.0,736.5 L1026.0,736.6 L1027.0,737.1 L1028.0,737.2 L1029.0,737.3 L1030.0,737.4 L1031.0,737.3 L1032.0,737.1 L1032.5,737.7 L1033.0,737.8 L1034.0,736.5 L1035.0,735.5 L1036.0,734.8 L1037.0,733.7 L1038.0,733.9 L1039.0,735.1 L1040.0,735.9 L1041.0,736.3 L1042.0,737.0 L1043.0,737.2 L1044.0,737.1 L1045.0,737.2 L1046.0,737.3 L1047.0,736.8 L1047.5,736.6 L1048.0,737.1 L1049.0,737.1 L1050.0,736.3 L1051.0,735.4 L1052.0,735.1 L1053.0,735.0 L1054.0,734.5 L1055.0,734.1 L1056.0,734.3 L1057.0,734.5 L1058.0,734.4 L1059.0,735.2 L1060.0,736.0 L1061.0,735.9 L1062.0,735.7 L1063.0,736.1 L1064.0,736.3 L1065.0,735.8 L1066.0,735.0 L1067.0,734.9 L1068.0,734.9 L1069.0,734.1 L1070.0,733.8 L1071.0,733.5 L1072.0,732.5 L1073.0,730.0 L1074.0,727.8 L1075.0,726.4 L1076.0,725.3 L1077.0,722.8 L1078.0,719.5 L1079.0,715.5 L1080.0,711.4 L1081.0,707.7 L1082.0,704.2 L1083.0,700.5 L1084.0,697.9 L1085.0,696.5 L1086.0,697.6 L1087.0,698.9 L1088.0,701.1 L1089.0,703.3 L1090.0,705.1 L1091.0,707.2 L1092.0,709.6 L1093.0,711.5 L1094.0,712.4 L1095.0,710.3 L1096.0,707.5 L1097.0,704.8 L1098.0,702.3 L1099.0,700.2 L1100.0,698.8 L1101.0,701.1 L1102.0,704.7 L1103.0,708.3 L1104.0,711.4 L1105.0,714.5 L1106.0,717.3 L1107.0,718.1 L1108.0,718.3 L1109.0,717.7 L1110.0,717.2 L1111.0,716.7 L1112.0,716.2 L1113.0,716.2 L1114.0,716.4 L1115.0,716.3 L1116.0,717.8 L1117.0,720.8 L1118.0,724.3 L1119.0,727.1 L1120.0,729.7 L1121.0,732.8 L1122.0,734.7 L1122.5,735.3 L1123.0,735.6 L1124.0,735.0 L1125.0,734.0 L1126.0,733.1 L1127.0,732.2 L1127.5,731.6 L1128.0,732.1 L1129.0,733.3 L1130.0,734.4 L1131.0,735.7 L1132.0,736.6 L1133.0,737.3 L1134.0,738.4 L1135.0,739.6 L1136.0,740.7 L1137.0,741.6 L1137.5,741.6 L1138.0,741.4 L1139.0,741.3 L1140.0,741.6 L1141.0,741.6 L1142.0,741.4 L1143.0,741.6 L1144.0,741.8 L1145.0,742.1 L1146.0,742.5 L1147.0,742.7 L1148.0,743.4 L1149.0,744.1 L1150.0,744.3 L1151.0,745.2 L1152.0,745.8 L1152.5,745.2 L1153.0,745.2 L1154.0,745.1 L1155.0,744.5 L1156.0,743.9 L1157.0,743.0 L1157.5,743.3 L1158.0,744.0 L1159.0,743.6 L1160.0,743.3 L1161.0,743.1 L1162.0,743.1 L1163.0,743.2 L1164.0,743.0 L1165.0,743.3 L1166.0,743.6 L1167.0,743.3 L1168.0,743.4 L1169.0,743.5 L1170.0,743.6 L1171.0,744.2 L1172.0,744.8 L1173.0,745.3 L1174.0,746.6 L1175.0,748.0 L1176.0,749.4 L1177.0,750.9 L1178.0,752.3 L1179.0,753.4 L1180.0,754.1 L1181.0,754.2 L1182.0,754.2 L1183.0,754.0 L1184.0,753.6 L1185.0,753.2 L1186.0,753.2 L1187.0,753.7 L1188.0,754.2 L1189.0,754.5 L1190.0,754.1 L1191.0,753.3 L1192.0,753.0 L1193.0,752.9 L1194.0,753.0 L1195.0,753.2 L1196.0,752.5 L1197.0,751.3 L1198.0,750.8 L1199.0,750.8 L1200.0,750.0 L1201.0,749.1 L1202.0,748.5 L1203.0,747.5 L1204.0,746.5 L1205.0,745.4 L1206.0,744.6 L1207.0,744.2 L1208.0,743.2 L1209.0,742.2 L1210.0,741.7 L1211.0,741.1 L1212.0,739.9 L1213.0,738.0 L1214.0,736.3 L1215.0,735.2 L1216.0,734.5 L1217.0,736.6 L1218.0,739.5 L1219.0,742.7 L1220.0,746.2 L1221.0,748.7 L1222.0,750.5 L1223.0,752.5 L1224.0,754.7 L1225.0,756.8 L1226.0,757.8 L1227.0,756.6 L1228.0,755.8 L1229.0,754.7 L1230.0,753.2 L1231.0,751.2 L1232.0,748.9 L1233.0,747.7 L1234.0,747.0 L1235.0,745.0 L1236.0,742.7 L1237.0,741.3 L1238.0,739.7 L1239.0,737.7 L1240.0,736.5 L1241.0,737.8 L1242.0,739.6 L1243.0,741.2 L1244.0,742.5 L1245.0,744.1 L1246.0,744.9 L1247.0,744.9 L1248.0,745.6 L1249.0,746.2 L1250.0,746.7 L1251.0,747.5 L1252.0,748.4 L1252.5,748.6 L1253.0,749.0 L1254.0,751.1 L1255.0,753.2 L1256.0,754.1 L1257.0,755.2 L1258.0,757.2 L1259.0,759.1 L1260.0,760.2 L1261.0,761.1 L1262.0,762.2 L1262.5,762.2 L1263.0,761.8 L1264.0,761.9 L1265.0,762.2 L1266.0,762.5 L1267.0,762.3 L1268.0,762.1 L1269.0,762.0 L1270.0,761.8 L1271.0,761.4 L1272.0,760.5 L1273.0,760.4 L1274.0,760.7 L1275.0,760.9 L1276.0,761.4 L1277.0,762.2 L1278.0,762.7 L1279.0,763.7 L1280.0,764.3 L1281.0,764.5 L1282.0,765.9 L1283.0,767.2 L1284.0,767.1 L1285.0,767.1 L1286.0,767.3 L1287.0,766.8 L1288.0,765.6 L1289.0,764.8 L1290.0,764.4 L1291.0,763.9 L1292.0,763.3 L1293.0,762.5 L1294.0,761.6 L1295.0,760.8 L1296.0,760.2 L1297.0,759.7 L1297.5,759.8 L1298.0,759.8 L1299.0,760.2 L1300.0,761.0 L1301.0,761.1 L1302.0,761.1 L1303.0,761.8 L1304.0,762.0 L1305.0,761.7 L1306.0,761.2 L1307.0,760.5 L1308.0,759.7 L1309.0,758.8 L1310.0,758.5 L1311.0,757.6 L1312.0,755.9 L1313.0,755.2 L1314.0,755.0 L1315.0,755.4 L1316.0,757.0 L1317.0,759.4 L1318.0,761.2 L1319.0,762.8 L1320.0,763.6 L1321.0,764.2 L1322.0,765.2 L1323.0,766.3 L1324.0,767.1 L1325.0,767.4 L1326.0,767.1 L1327.0,767.1 L1328.0,767.3 L1329.0,766.8 L1330.0,765.9 L1331.0,765.6 L1332.0,765.7 L1333.0,765.3 L1334.0,764.8 L1335.0,764.5 L1336.0,764.3 L1337.0,764.2 L1338.0,763.8 L1339.0,763.2 L1340.0,762.8 L1341.0,762.1 L1342.0,761.6 L1343.0,760.4 L1344.0,758.8 L1345.0,757.4 L1346.0,757.6 L1347.0,759.4 L1348.0,761.8 L1349.0,763.3 L1350.0,764.2 L1351.0,765.3 L1352.0,766.3 L1353.0,766.5 L1354.0,766.7 L1355.0,767.5 L1356.0,767.9 L1357.0,768.0 L1358.0,767.6 L1359.0,767.2 L1360.0,767.6 L1361.0,767.7 L1362.0,767.6 L1362.5,767.7 L1363.0,767.8 L1364.0,767.6 L1365.0,767.6 L1366.0,768.6 L1367.0,770.3 L1368.0,771.3 L1369.0,771.8 L1370.0,772.3 L1371.0,773.1 L1372.0,773.7 L1372.5,773.8 L1373.0,774.1 L1374.0,774.9 L1375.0,774.7 L1376.0,774.0 L1377.0,773.9 L1378.0,774.3 L1379.0,775.1 L1380.0,775.3 L1381.0,775.1 L1382.0,775.1 L1383.0,774.9 L1384.0,775.1 L1385.0,775.8 L1386.0,776.3 L1387.0,776.4 L1388.0,775.8 L1389.0,775.7 L1390.0,776.0 L1391.0,775.7 L1392.0,775.2 L1393.0,775.4 L1394.0,775.9 L1395.0,775.6 L1396.0,775.0 L1397.0,774.5 L1398.0,773.6 L1399.0,772.3 L1400.0,771.0 L1401.0,770.0 L1402.0,769.1 L1403.0,767.7 L1404.0,766.0 L1405.0,764.4 L1406.0,762.6 L1407.0,761.0 L1408.0,760.5 L1409.0,762.4 L1410.0,764.6 L1411.0,766.8 L1412.0,768.6 L1413.0,770.6 L1414.0,772.2 L1415.0,773.2 L1416.0,773.9 L1417.0,775.0 L1418.0,776.1 L1419.0,776.7 L1420.0,777.3 L1421.0,777.7 L1422.0,777.8 L1423.0,778.1 L1424.0,777.9 L1425.0,777.6 L1426.0,777.6 L1427.0,777.7 L1428.0,778.1 L1429.0,778.6 L1430.0,779.0 L1431.0,779.0 L1432.0,778.7 L1433.0,778.2 L1434.0,778.0 L1435.0,778.2 L1436.0,778.5 L1437.0,778.9 L1438.0,779.3 L1439.0,779.6 L1440.0,779.6 L1441.0,779.4 L1442.0,779.3 L1442.5,779.2 L1443.0,779.4 L1444.0,779.0 L1445.0,778.4 L1446.0,778.7 L1447.0,778.8 L1448.0,777.8 L1449.0,776.8 L1450.0,776.1 L1451.0,775.8 L1452.0,776.1 L1453.0,775.9 L1454.0,775.7 L1455.0,776.2 L1456.0,776.0 L1457.0,775.1 L1458.0,775.0 L1459.0,775.1 L1460.0,774.9 L1461.0,774.7 L1462.0,774.7 L1463.0,774.9 L1464.0,774.7 L1465.0,774.5 L1466.0,774.4 L1467.0,773.9 L1468.0,773.2 L1469.0,772.8 L1470.0,772.6 L1471.0,771.8 L1472.0,770.7 L1473.0,770.0 L1474.0,769.6 L1474.5,769.6 L1475.0,770.1 L1476.0,770.6 L1477.0,771.0 L1478.0,772.5 L1479.0,774.1 L1480.0,774.8 L1481.0,775.7 L1482.0,776.8 L1482.5,776.8 L1483.0,776.4 L1484.0,776.9 L1485.0,777.9 L1486.0,778.8 L1487.0,779.2 L1488.0,778.9 L1489.0,778.6 L1490.0,778.8 L1491.0,779.2 L1492.0,779.4 L1493.0,779.5 L1494.0,780.3 L1495.0,780.9 L1496.0,780.9 L1497.0,780.9 L1497.5,780.5 L1498.0,780.1 L1499.0,780.6 L1500.0,781.3 L1501.0,781.3 L1502.0,780.9 L1503.0,780.8 L1504.0,780.8 L1505.0,780.9 L1506.0,780.6 L1507.0,780.1 L1508.0,780.0 L1509.0,779.5 L1510.0,778.9 L1511.0,778.9 L1512.0,779.3 L1513.0,779.4 L1514.0,779.1 L1515.0,779.3 L1516.0,779.5 L1517.0,779.0 L1517.5,778.9 L1518.0,779.6 L1519.0,780.0 L1520.0,779.4 L1521.0,778.9 L1522.0,779.3 L1523.0,780.1 L1524.0,780.7 L1525.0,780.8 L1526.0,780.7 L1527.0,780.9 L1528.0,781.4 L1529.0,781.8 L1530.0,782.1 L1531.0,782.1 L1532.0,781.6 L1532.5,781.2 L1533.0,781.2 L1534.0,781.3 L1535.0,781.5 L1536.0,782.2 L1537.0,782.4 L1538.0,781.6 L1539.0,781.0 L1540.0,780.8 L1541.0,781.0 L1542.0,781.4 L1543.0,781.2 L1544.0,780.8 L1545.0,780.0 L1546.0,779.4 L1547.0,779.4 L1548.0,779.7 L1549.0,780.0 L1550.0,780.0 L1551.0,779.7 L1552.0,780.2 L1553.0,780.7 L1554.0,780.3 L1555.0,780.2 L1556.0,780.6 L1557.0,780.8 L1558.0,781.2 L1559.0,782.0 L1560.0,782.2 L1561.0,781.6 L1562.0,781.8 L1563.0,782.3 L1564.0,782.3 L1565.0,782.4 L1566.0,782.3 L1567.0,782.2 L1568.0,781.6 L1569.0,781.0 L1570.0,780.6 L1571.0,780.1 L1572.0,779.8 L1573.0,779.5 L1574.0,778.9 L1575.0,778.3 L1576.0,777.7 L1577.0,777.1 L1577.5,776.8 L1578.0,777.1 L1579.0,777.5 L1580.0,777.5 L1581.0,777.7 L1582.0,778.5 L1583.0,778.8 L1584.0,778.9 L1585.0,779.8 L1586.0,780.1 L1587.0,780.3 L1588.0,780.8 L1589.0,780.8 L1590.0,781.0 L1591.0,781.5 L1592.0,780.7 L1593.0,780.1 L1594.0,779.7 L1595.0,778.7 L1596.0,778.2 L1597.0,778.2 L1598.0,777.8 L1599.0,776.3 L1600.0,775.3 L1601.0,774.7 L1602.0,773.6 L1603.0,772.6 L1604.0,772.4 L1605.0,773.9 L1606.0,775.8 L1607.0,778.0 L1608.0,779.7 L1609.0,780.7 L1610.0,781.6 L1611.0,782.4 L1612.0,783.5 L1612.5,784.0 L1613.0,783.9 L1614.0,783.8 L1615.0,783.9 L1616.0,784.6 L1617.0,784.8 L1618.0,784.0 L1619.0,783.7 L1620.0,783.8 L1621.0,784.0 L1622.0,783.8 L1623.0,783.4 L1624.0,783.2 L1625.0,783.0 L1626.0,782.9 L1627.0,783.0 L1627.5,783.0 L1628.0,783.1 L1629.0,783.3 L1630.0,783.3 L1631.0,783.2 L1632.0,783.0 L1633.0,782.7 L1634.0,782.7 L1635.0,782.8 L1636.0,782.7 L1637.0,782.8 L1638.0,782.6 L1639.0,782.0 L1640.0,782.0 L1641.0,782.2 L1642.0,782.2 L1643.0,781.7 L1644.0,781.3 L1645.0,781.8 L1646.0,782.3 L1647.0,782.1 L1648.0,781.9 L1649.0,781.7 L1650.0,781.3 L1651.0,781.8 L1652.0,782.3 L1653.0,782.3 L1654.0,782.3 L1655.0,782.1 L1656.0,781.9 L1657.0,781.9 L1657.5,782.4 L1658.0,782.9 L1659.0,782.7 L1660.0,782.5 L1661.0,782.4 L1662.0,782.9 L1663.0,783.5 L1664.0,783.3 L1665.0,783.3 L1666.0,783.9 L1667.0,784.6 L1668.0,784.9 L1669.0,784.4 L1670.0,784.8 L1671.0,785.1 L1672.0,784.5 L1673.0,784.5 L1674.0,785.2 L1675.0,785.3 L1676.0,784.4 L1677.0,784.1 L1678.0,784.9 L1679.0,785.2 L1680.0,784.2 L1681.0,783.7 L1682.0,784.3 L1683.0,784.6 L1684.0,784.5 L1685.0,784.1 L1686.0,783.7 L1687.0,783.9 L1688.0,784.5 L1689.0,784.1 L1690.0,782.9 L1691.0,783.1 L1692.0,783.8 L1693.0,783.3 L1694.0,782.7 L1695.0,783.0 L1696.0,783.1 L1697.0,783.0 L1698.0,782.8 L1699.0,782.7 L1700.0,782.8 L1701.0,783.1 L1702.0,783.1 L1703.0,783.5 L1704.0,784.2 L1705.0,784.9 L1706.0,785.1 L1707.0,785.1 L1707.5,785.3 L1708.0,785.4 L1709.0,785.5 L1710.0,785.5 L1711.0,785.7 L1712.0,785.4 L1713.0,784.6 L1714.0,784.3 L1715.0,784.5 L1716.0,784.4 L1717.0,783.7 L1718.0,782.8 L1719.0,782.7 L1720.0,783.4 L1721.0,783.7 L1722.0,783.3 L1722.5,782.9 L1723.0,782.9 L1724.0,782.7 L1725.0,782.4 L1726.0,782.1 L1727.0,781.4 L1728.0,780.6 L1729.0,780.0 L1730.0,779.4 L1731.0,779.0 L1732.0,778.9 L1733.0,778.7 L1734.0,778.4 L1735.0,778.7 L1736.0,779.3 L1737.0,780.3 L1738.0,781.3 L1739.0,782.2 L1740.0,782.5 L1741.0,782.5 L1742.0,783.0 L1743.0,783.5 L1744.0,783.9 L1745.0,784.6 L1746.0,784.7 L1747.0,784.1 L1748.0,783.4 L1749.0,783.1 L1750.0,783.5 L1751.0,783.5 L1752.0,783.3 L1753.0,783.9 L1754.0,784.3 L1755.0,783.9 L1756.0,783.7 L1757.0,783.9 L1758.0,784.0 L1759.0,783.7 L1760.0,784.2 L1761.0,784.9 L1762.0,784.7 L1763.0,784.4 L1764.0,784.1 L1765.0,783.8 L1766.0,784.1 L1767.0,784.2 L1768.0,784.1 L1769.0,784.5 L1770.0,785.0 L1771.0,784.7 L1772.0,783.8 L1773.0,783.4 L1774.0,783.8 L1775.0,784.6 L1776.0,784.9 L1777.0,784.6 L1778.0,784.0 L1779.0,783.8 L1780.0,784.2 L1781.0,784.3 L1782.0,784.1 L1783.0,784.4 L1784.0,784.7 L1785.0,784.4 L1786.0,783.7 L1787.0,783.4 L1788.0,784.0 L1789.0,784.4 L1790.0,784.3 L1791.0,784.1 L1792.0,784.3 L1793.0,784.6 L1794.0,784.6 L1795.0,784.3 L1796.0,784.0 L1797.0,784.1 L1798.0,784.3 L1799.0,783.9 L1800.0,783.8 L1801.0,784.4 L1802.0,784.9 L1803.0,785.1 L1804.0,785.1 L1805.0,784.7 L1806.0,784.1 L1807.0,783.8 L1808.0,784.3 L1809.0,785.0 L1810.0,785.0 L1811.0,785.0 L1812.0,784.9 L1813.0,784.6 L1814.0,784.4 L1815.0,784.6 L1816.0,784.9 L1817.0,784.9 L1818.0,784.8 L1819.0,784.5 L1820.0,784.2 L1821.0,784.1 L1822.0,784.3 L1823.0,784.3 L1824.0,783.9 L1825.0,784.5 L1826.0,785.3 L1827.0,784.6 L1828.0,784.0 L1829.0,784.5 L1830.0,784.9 L1831.0,784.8 L1832.0,784.7 L1833.0,784.6 L1834.0,785.0 L1835.0,785.6 L1836.0,785.0 L1837.0,784.2 L1838.0,784.3 L1839.0,784.6 L1840.0,784.9 L1841.0,784.9 L1842.0,784.4 L1843.0,784.1 L1844.0,784.4 L1845.0,784.4 L1846.0,783.9 L1847.0,783.5 L1848.0,783.3 L1849.0,783.3 L1850.0,782.9 L1851.0,782.5 L1852.0,782.5 L1852.5,782.3 L1853.0,781.6 L1854.0,780.7 L1855.0,780.1 L1856.0,778.9 L1857.0,777.2 L1858.0,774.7 L1859.0,772.0 L1860.0,769.7 L1861.0,767.6 L1862.0,764.8 L1863.0,762.0 L1864.0,759.9 L1865.0,758.6 L1866.0,757.4 L1867.0,758.8 L1868.0,761.0 L1869.0,764.4 L1870.0,768.2 L1871.0,771.2 L1872.0,774.3 L1873.0,777.3 L1874.0,779.7 L1875.0,781.5 L1876.0,782.9 L1877.0,783.7 L1877.5,783.9 L1878.0,784.0 L1879.0,784.1 L1880.0,784.6 L1881.0,785.0 L1882.0,785.0 L1883.0,784.9 L1884.0,784.3 L1885.0,783.7 L1886.0,784.3 L1887.0,784.6 L1888.0,784.4 L1889.0,784.1 L1890.0,783.8 L1891.0,784.1 L1892.0,784.9 L1893.0,785.0 L1894.0,784.3 L1895.0,784.3 L1896.0,784.7 L1897.0,784.8 L1898.0,785.0 L1899.0,784.7 L1900.0,784.3 L1901.0,784.9 L1902.0,785.0 L1903.0,784.5 L1904.0,784.7 L1905.0,784.8 L1906.0,784.8 L1907.0,784.2 L1908.0,783.8 L1909.0,784.4 L1910.0,785.2 L1911.0,785.6 L1912.0,785.5 L1913.0,784.9 L1914.0,784.3 L1915.0,784.0 L1916.0,783.9 L1917.0,783.9 L1918.0,783.5 L1919.0,783.3 L1920.0,783.8 L1921.0,784.7 L1922.0,785.3 L1923.0,784.9 L1924.0,784.3 L1925.0,784.1 L1926.0,783.7 L1927.0,783.4 L1928.0,783.6 L1929.0,784.4 L1930.0,784.4 L1931.0,783.8 L1932.0,784.0 L1933.0,784.5 L1934.0,784.5 L1935.0,784.1 L1936.0,783.7 L1937.0,783.7 L1938.0,784.1 L1939.0,784.2 L1940.0,783.7 L1941.0,783.6 L1942.0,784.0 L1943.0,783.9 L1944.0,784.1 L1945.0,784.2 L1946.0,784.4 L1947.0,784.6 L1948.0,784.3 L1949.0,783.7 L1950.0,783.1 L1951.0,783.0 L1952.0,783.6 L1953.0,784.1 L1954.0,784.3 L1955.0,784.2 L1956.0,783.4 L1957.0,783.0 L1958.0,782.8 L1959.0,782.4 L1960.0,781.8 L1961.0,781.6 L1962.0,781.6 L1963.0,781.3 L1963.6,781.1 L1964.0,781.2 L1965.0,781.7 L1966.0,782.0 L1967.0,782.3 L1968.0,782.3 L1969.0,783.0 L1970.0,783.7 L1971.0,783.6 L1972.0,783.6 L1973.0,783.3 L1974.0,783.2 L1975.0,784.0 L1976.0,784.3 L1977.0,784.2 L1978.0,784.3 L1978.6,784.1 L1979.0,783.8 L1980.0,783.4 L1981.0,783.1 L1982.0,782.5 L1983.0,781.0 L1984.0,780.2 L1985.0,779.1 L1986.0,776.9 L1987.0,775.5 L1988.0,774.8 L1989.0,773.7 L1990.0,772.8 L1991.0,771.7 L1992.0,769.9 L1993.0,767.6 L1994.0,765.7 L1995.0,764.6 L1996.0,763.3 L1997.0,762.1 L1998.0,760.7 L1999.0,759.8 L2000.0,762.1 L2001.0,764.8 L2002.0,766.9 L2003.0,769.1 L2004.0,771.5 L2005.0,774.0 L2006.0,776.3 L2007.0,778.7 L2008.0,781.1 L2008.5,782.2 L2009.0,782.5 L2010.0,783.4 L2011.0,784.4 L2012.0,784.3 L2013.0,783.3 L2014.0,783.6 L2015.0,784.3 L2016.0,784.4 L2017.0,784.0 L2018.0,783.6 L2019.0,783.6 L2020.0,783.7 L2021.0,783.3 L2022.0,782.9 L2023.0,782.9 L2024.0,783.0 L2025.0,782.3 L2026.0,781.8 L2027.0,781.9 L2028.0,781.7 L2029.0,781.5 L2030.0,781.6 L2031.0,781.7 L2032.0,781.7 L2033.0,781.5 L2034.0,781.5 L2035.0,782.1 L2036.0,783.2 L2037.0,783.9 L2038.0,784.0 L2039.0,783.6 L2040.0,783.5 L2041.0,784.2 L2042.0,784.3 L2043.0,784.1 L2044.0,784.2 L2045.0,784.3 L2046.0,784.0 L2047.0,783.7 L2048.0,784.0 L2049.0,783.9 L2050.0,784.0 L2051.0,784.7 L2052.0,784.6 L2053.0,783.7 L2054.0,783.3 L2055.0,783.8 L2056.0,784.2 L2057.0,783.8 L2058.0,783.4 L2059.0,783.2 L2060.0,783.4 L2061.0,784.0 L2062.0,784.5 L2063.0,784.4 L2064.0,784.0 L2065.0,784.1 L2066.0,784.2 L2067.0,783.9 L2068.0,784.2 L2069.0,784.8 L2070.0,784.6 L2071.0,784.3 L2072.0,784.0 L2073.0,783.6 L2074.0,783.4 L2075.0,783.9 L2076.0,784.8 L2077.0,785.2 L2078.0,785.0 L2079.0,784.5 L2080.0,784.0 L2081.0,783.8 L2082.0,783.9 L2083.0,784.1 L2084.0,784.0 L2085.0,784.0 L2086.0,783.5 L2087.0,783.0 L2088.0,783.0 L2089.0,782.9 L2090.0,783.4 L2091.0,784.1 L2092.0,784.2 L2093.0,784.3 L2094.0,784.7 L2095.0,784.6 L2096.0,784.3 L2097.0,784.5 L2098.0,784.4 L2099.0,784.2 L2100.0,783.9 L2101.0,783.1 L2102.0,782.6 L2103.0,782.5 L2104.0,782.1 L2105.0,781.4 L2106.0,781.1 L2107.0,781.4 L2108.0,781.5 L2109.0,781.3 L2110.0,781.0 L2111.0,780.4 L2112.0,780.1 L2113.0,780.1 L2114.0,779.9 L2115.0,779.9 L2116.0,780.2 L2117.0,779.6 L2118.0,777.8 L2119.0,776.4 L2120.0,774.5 L2121.0,771.6 L2122.0,765.2 L2123.0,757.1 L2124.0,748.9 L2124.6,744.6 L2125.0,742.9 L2126.0,737.6 L2127.0,732.1 L2128.0,727.0 L2129.0,721.9 L2130.0,717.7 L2131.0,714.0 L2132.0,710.2 L2133.0,706.6 L2133.6,705.0 L2134.0,706.4 L2135.0,712.0 L2136.0,719.1 L2137.0,725.4 L2138.0,732.3 L2139.0,739.9 L2139.6,744.4 L2140.0,747.6 L2141.0,756.2 L2142.0,764.4 L2143.0,771.4 L2144.0,776.5 L2145.0,777.9 L2146.0,779.3 L2147.0,779.7 L2148.0,780.2 L2149.0,781.4 L2150.0,782.0 L2151.0,782.8 L2152.0,783.2 L2153.0,783.3 L2154.0,783.4 L2155.0,783.6 L2156.0,784.2 L2157.0,784.3 L2158.0,783.7 L2159.0,783.5 L2160.0,783.5 L2161.0,784.0 L2162.0,784.2 L2163.0,783.9 L2164.0,783.9 L2165.0,783.7 L2166.0,783.3 L2167.0,783.9 L2168.0,784.8 L2169.0,784.9 L2170.0,784.5 L2171.0,784.6 L2172.0,784.5 L2173.0,784.1 L2174.0,784.8 L2175.0,785.6 L2176.0,785.1 L2177.0,785.0 L2178.0,785.1 L2179.0,784.9 L2180.0,785.2 L2181.0,785.6 L2182.0,785.6 L2183.0,785.4 L2184.0,785.4 L2185.0,785.5 L2186.0,785.8 L2187.0,786.2 L2188.0,786.1 L2189.0,785.2 L2190.0,785.7" stroke="#0000ff"/>
<circle cx="320.0" cy="778.5" r="3.35" fill="#0000ff" stroke="none"/>
<path d="M320.0,948.0 L321.0,947.7 L322.0,946.2 L323.0,944.8 L324.0,944.3 L325.0,943.7 L326.0,942.2 L327.0,938.8 L328.0,935.0 L329.0,930.4 L330.0,925.2 L331.0,917.8 L332.0,910.0 L333.0,903.6 L333.8,900.2 L334.0,901.0 L335.0,911.3 L336.0,924.6 L337.0,939.5 L337.5,945.0 L338.0,946.3 L339.0,948.2 L340.0,949.4 L341.0,950.4 L342.0,950.1 L343.0,949.6 L344.0,950.0 L345.0,950.4 L346.0,949.6 L347.0,949.5 L348.0,949.9 L349.0,949.5 L350.0,948.9 L351.0,948.8 L352.0,949.4 L353.0,949.9 L354.0,949.8 L355.0,949.5 L356.0,949.0 L357.0,948.5 L358.0,948.3 L359.0,948.2 L360.0,948.2 L361.0,948.5 L362.0,948.1 L363.0,947.6 L364.0,947.5 L365.0,946.9 L366.0,945.9 L367.0,945.1 L368.0,944.3 L369.0,943.8 L370.0,943.1 L371.0,942.1 L372.0,941.4 L372.5,941.0 L373.0,941.5 L374.0,943.9 L375.0,946.6 L376.0,948.1 L377.0,949.3 L377.5,949.9 L378.0,949.8 L379.0,949.2 L380.0,949.1 L381.0,949.7 L382.0,950.2 L383.0,950.4 L384.0,950.6 L385.0,950.7 L386.0,950.4 L387.0,949.9 L388.0,949.5 L389.0,949.4 L390.0,949.7 L391.0,950.1 L392.0,950.1 L393.0,950.0 L394.0,950.1 L395.0,950.2 L396.0,950.2 L397.0,950.2 L398.0,950.1 L399.0,949.7 L400.0,949.6 L401.0,950.1 L402.0,950.2 L403.0,949.9 L404.0,950.2 L405.0,950.6 L406.0,950.1 L407.0,949.8 L408.0,949.8 L409.0,949.7 L410.0,950.2 L411.0,950.8 L412.0,950.8 L413.0,950.5 L414.0,950.3 L415.0,950.3 L416.0,950.3 L417.0,950.0 L418.0,949.8 L419.0,950.1 L420.0,950.4 L421.0,950.4 L422.0,949.9 L423.0,949.6 L424.0,950.5 L425.0,951.3 L426.0,950.8 L427.0,950.0 L428.0,949.7 L429.0,949.8 L430.0,949.8 L431.0,949.8 L432.0,949.8 L433.0,949.9 L434.0,949.4 L435.0,948.4 L436.0,948.1 L437.0,947.7 L438.0,947.1 L439.0,946.9 L440.0,947.0 L441.0,946.2 L442.0,944.9 L443.0,944.5 L444.0,943.8 L445.0,942.1 L446.0,940.3 L447.0,938.2 L447.5,937.2 L448.0,935.6 L449.0,931.4 L450.0,926.6 L451.0,921.1 L452.0,914.2 L452.5,910.6 L453.0,904.5 L454.0,890.0 L455.0,874.5 L456.0,859.5 L457.0,842.0 L458.0,823.7 L459.0,810.0 L459.2,808.3 L460.0,827.0 L461.0,863.3 L461.5,880.1 L462.0,895.2 L463.0,924.9 L463.8,939.8 L464.0,940.5 L465.0,942.5 L466.0,944.0 L467.0,945.5 L468.0,946.2 L469.0,946.3 L470.0,946.7 L471.0,946.9 L472.0,947.0 L473.0,947.1 L474.0,947.4 L475.0,947.7 L476.0,947.6 L477.0,947.1 L478.0,947.1 L479.0,947.7 L480.0,947.9 L481.0,947.9 L482.0,947.9 L483.0,948.1 L484.0,948.3 L485.0,948.2 L486.0,947.8 L487.0,947.4 L487.5,947.5 L488.0,947.5 L489.0,947.4 L490.0,947.4 L491.0,947.8 L492.0,947.6 L493.0,946.9 L494.0,946.7 L495.0,947.1 L496.0,947.2 L497.0,947.1 L498.0,946.9 L499.0,946.9 L500.0,947.1 L501.0,947.1 L502.0,946.6 L503.0,946.2 L504.0,945.9 L505.0,946.3 L506.0,946.5 L507.0,946.3 L508.0,945.9 L509.0,945.0 L510.0,944.5 L511.0,944.8 L512.0,945.2 L513.0,945.4 L514.0,945.4 L515.0,945.4 L516.0,945.4 L517.0,944.9 L518.0,944.3 L519.0,944.7 L520.0,945.0 L521.0,944.3 L522.0,944.5 L523.0,945.2 L524.0,944.9 L525.0,944.3 L526.0,944.4 L527.0,944.9 L528.0,944.7 L529.0,944.3 L530.0,944.4 L531.0,944.6 L532.0,944.8 L533.0,944.7 L534.0,943.9 L535.0,943.4 L536.0,944.1 L537.0,944.7 L538.0,944.4 L539.0,944.4 L540.0,944.4 L541.0,943.8 L542.0,943.6 L543.0,943.5 L544.0,943.4 L545.0,943.7 L546.0,943.7 L547.0,943.1 L548.0,942.5 L549.0,942.5 L550.0,942.8 L551.0,942.9 L552.0,942.6 L553.0,942.2 L554.0,942.2 L555.0,942.5 L556.0,942.3 L557.0,942.1 L558.0,941.9 L559.0,941.1 L560.0,940.8 L561.0,941.1 L562.0,941.2 L563.0,940.6 L564.0,939.4 L565.0,938.7 L566.0,938.2 L567.0,938.3 L568.0,938.4 L569.0,937.7 L570.0,936.6 L571.0,935.7 L572.0,934.8 L572.5,934.1 L573.0,933.1 L574.0,930.3 L575.0,927.1 L576.0,924.7 L577.0,922.0 L577.5,920.1 L578.0,917.0 L579.0,910.1 L580.0,903.4 L581.0,897.8 L582.0,894.2 L583.0,890.4 L584.0,888.1 L585.0,889.5 L586.0,891.0 L587.0,892.7 L587.5,894.1 L588.0,891.1 L589.0,881.5 L590.0,870.6 L591.0,860.2 L592.0,850.5 L593.0,840.9 L594.0,832.8 L594.5,830.0 L595.0,836.5 L596.0,857.5 L597.0,879.9 L598.0,899.4 L599.0,917.5 L599.5,924.5 L600.0,926.7 L601.0,930.0 L602.0,932.3 L602.5,932.7 L603.0,932.5 L604.0,933.0 L605.0,933.4 L606.0,933.6 L607.0,934.3 L608.0,934.8 L609.0,934.5 L610.0,934.6 L611.0,935.0 L612.0,934.6 L613.0,934.2 L614.0,934.4 L615.0,935.0 L616.0,935.2 L617.0,934.9 L618.0,935.1 L619.0,935.4 L620.0,935.0 L621.0,934.3 L622.0,934.3 L623.0,934.6 L624.0,934.6 L625.0,934.2 L626.0,933.9 L627.0,933.5 L628.0,933.3 L629.0,933.5 L630.0,933.7 L631.0,933.6 L632.0,933.2 L633.0,933.0 L634.0,932.7 L635.0,932.8 L636.0,933.1 L637.0,933.1 L637.5,932.9 L638.0,932.6 L639.0,932.3 L640.0,931.9 L641.0,931.8 L642.0,932.0 L643.0,932.1 L644.0,931.9 L645.0,931.7 L646.0,931.6 L647.0,931.4 L648.0,931.3 L649.0,931.0 L650.0,930.5 L651.0,930.2 L652.0,929.9 L653.0,929.6 L654.0,929.6 L655.0,929.7 L656.0,929.2 L657.0,928.3 L658.0,927.8 L659.0,927.8 L660.0,928.1 L661.0,928.5 L662.0,928.5 L663.0,928.9 L664.0,929.5 L665.0,929.7 L666.0,930.3 L667.0,931.2 L667.5,931.4 L668.0,931.0 L669.0,930.4 L670.0,930.0 L671.0,930.1 L672.0,930.1 L673.0,929.8 L674.0,929.5 L675.0,929.4 L676.0,929.3 L677.0,929.5 L678.0,929.6 L679.0,928.9 L680.0,927.9 L681.0,927.4 L682.0,927.3 L683.0,927.5 L684.0,927.8 L685.0,927.6 L686.0,926.9 L687.0,926.3 L688.0,925.5 L689.0,924.5 L690.0,923.8 L691.0,923.8 L692.0,923.5 L693.0,922.6 L694.0,922.3 L695.0,921.6 L696.0,919.3 L697.0,917.0 L698.0,914.7 L699.0,912.5 L700.0,910.2 L701.0,907.4 L702.0,904.6 L702.5,903.1 L703.0,900.0 L704.0,892.9 L705.0,885.3 L706.0,877.9 L707.0,870.7 L708.0,863.6 L709.0,857.2 L710.0,853.1 L711.0,862.9 L712.0,876.4 L713.0,889.5 L714.0,900.5 L715.0,910.3 L715.8,915.1 L716.0,914.9 L717.0,914.0 L718.0,913.0 L719.0,911.8 L720.0,910.6 L721.0,909.2 L722.0,907.5 L723.0,905.5 L724.0,903.9 L725.0,902.8 L725.8,901.9 L726.0,902.2 L727.0,904.7 L728.0,907.3 L729.0,909.8 L730.0,912.4 L731.0,914.4 L732.0,916.2 L733.0,918.3 L734.0,920.3 L735.0,921.7 L736.0,921.7 L737.0,921.8 L738.0,921.2 L739.0,920.2 L740.0,919.5 L741.0,918.9 L742.0,918.5 L743.0,918.2 L743.8,917.3 L744.0,916.4 L745.0,914.7 L746.0,912.7 L747.0,910.1 L748.0,907.2 L749.0,904.2 L750.0,902.0 L751.0,900.6 L752.0,902.0 L753.0,904.1 L754.0,906.2 L755.0,907.9 L756.0,909.7 L757.0,911.4 L758.0,913.5 L759.0,915.9 L760.0,917.2 L761.0,917.4 L762.0,918.2 L763.0,919.5 L764.0,920.7 L765.0,921.3 L766.0,921.1 L767.0,920.9 L768.0,921.5 L769.0,922.4 L770.0,922.8 L771.0,922.7 L772.0,922.9 L773.0,923.6 L774.0,923.6 L775.0,922.9 L776.0,923.0 L777.0,923.5 L778.0,923.5 L779.0,923.9 L780.0,924.0 L781.0,923.4 L782.0,923.2 L783.0,923.4 L784.0,923.7 L785.0,924.1 L786.0,924.4 L787.0,924.2 L788.0,923.9 L789.0,924.0 L790.0,923.7 L791.0,923.9 L792.0,924.3 L793.0,923.7 L794.0,923.4 L795.0,923.4 L796.0,922.9 L797.0,922.9 L798.0,923.5 L799.0,923.4 L800.0,923.2 L801.0,923.1 L802.0,922.9 L803.0,923.0 L804.0,923.8 L805.0,924.5 L806.0,924.1 L807.0,923.1 L808.0,922.3 L809.0,921.9 L810.0,921.8 L811.0,921.7 L812.0,921.3 L813.0,920.8 L814.0,920.3 L815.0,919.5 L816.0,918.6 L817.0,917.9 L818.0,916.6 L819.0,915.4 L820.0,914.6 L821.0,913.7 L822.0,913.1 L822.5,912.9 L823.0,912.4 L824.0,911.5 L825.0,910.8 L826.0,909.9 L827.0,908.7 L827.5,908.3 L828.0,907.6 L829.0,906.2 L830.0,905.1 L831.0,903.9 L832.0,902.2 L833.0,899.6 L834.0,896.9 L834.5,896.9 L835.0,898.5 L836.0,900.8 L837.0,903.3 L837.5,904.0 L838.0,905.3 L839.0,910.1 L840.0,914.2 L841.0,913.9 L842.0,912.7 L843.0,911.9 L844.0,911.1 L845.0,910.3 L846.0,911.2 L847.0,912.9 L848.0,913.7 L849.0,914.1 L850.0,914.8 L851.0,915.0 L852.0,914.9 L852.5,915.2 L853.0,916.0 L854.0,916.9 L855.0,917.5 L856.0,917.6 L857.0,917.1 L858.0,917.2 L859.0,918.0 L860.0,918.2 L861.0,917.8 L862.0,917.9 L863.0,918.9 L864.0,919.4 L865.0,919.1 L866.0,919.3 L867.0,919.7 L867.5,919.9 L868.0,919.9 L869.0,919.9 L870.0,919.3 L871.0,918.8 L872.0,918.2 L873.0,917.7 L874.0,918.1 L875.0,918.7 L876.0,918.4 L877.0,917.9 L878.0,917.5 L879.0,917.0 L880.0,917.1 L881.0,917.6 L882.0,917.3 L882.5,917.0 L883.0,917.3 L884.0,917.1 L885.0,916.1 L886.0,915.2 L887.0,914.0 L888.0,913.4 L889.0,913.5 L890.0,913.1 L891.0,912.3 L892.0,911.3 L893.0,910.7 L894.0,910.5 L895.0,908.8 L896.0,905.7 L897.0,902.8 L898.0,900.8 L899.0,898.5 L900.0,895.4 L901.0,892.3 L902.0,889.4 L903.0,886.3 L904.0,883.8 L905.0,884.6 L906.0,886.5 L907.0,889.1 L908.0,891.7 L909.0,893.9 L910.0,896.1 L911.0,898.4 L912.0,900.1 L913.0,901.9 L914.0,903.7 L915.0,904.8 L916.0,906.3 L917.0,907.6 L918.0,908.8 L919.0,910.1 L920.0,910.9 L921.0,911.3 L922.0,911.6 L923.0,912.0 L924.0,912.9 L925.0,913.7 L926.0,913.5 L927.0,912.9 L928.0,911.6 L929.0,910.8 L930.0,910.6 L931.0,910.5 L932.0,909.7 L933.0,908.6 L934.0,908.2 L935.0,908.0 L936.0,907.7 L937.0,907.0 L938.0,906.7 L939.0,907.0 L940.0,907.1 L941.0,906.9 L942.0,906.6 L942.5,906.1 L943.0,905.7 L944.0,905.3 L945.0,904.6 L946.0,903.6 L947.0,902.7 L948.0,901.9 L949.0,901.3 L950.0,900.4 L951.0,898.5 L952.0,896.1 L953.0,892.9 L954.0,890.5 L955.0,888.2 L956.0,884.8 L957.0,880.9 L958.0,877.4 L959.0,872.9 L960.0,868.3 L961.0,864.7 L962.0,861.5 L962.5,860.3 L963.0,861.0 L964.0,862.3 L965.0,863.9 L966.0,865.5 L967.0,866.8 L968.0,868.3 L969.0,869.8 L970.0,871.1 L971.0,872.3 L972.0,873.4 L973.0,875.1 L974.0,877.6 L975.0,880.1 L976.0,881.7 L977.0,883.1 L977.5,884.0 L978.0,885.0 L979.0,887.4 L980.0,889.9 L981.0,892.3 L982.0,894.4 L982.5,895.0 L983.0,895.4 L984.0,896.2 L985.0,897.5 L986.0,899.6 L987.0,901.1 L988.0,901.0 L989.0,900.4 L990.0,900.3 L991.0,900.3 L992.0,899.8 L993.0,899.7 L994.0,899.9 L995.0,900.0 L996.0,900.5 L997.0,900.4 L998.0,899.7 L999.0,899.1 L1000.0,898.7 L1001.0,898.8 L1002.0,899.3 L1003.0,899.6 L1004.0,899.4 L1005.0,899.0 L1006.0,898.7 L1007.0,898.3 L1008.0,897.9 L1009.0,898.1 L1010.0,898.7 L1011.0,898.3 L1012.0,897.4 L1013.0,897.2 L1014.0,897.7 L1015.0,897.3 L1016.0,896.1 L1017.0,895.8 L1018.0,896.1 L1019.0,896.0 L1020.0,895.5 L1021.0,895.3 L1022.0,895.5 L1023.0,895.8 L1024.0,895.3 L1025.0,894.6 L1026.0,894.5 L1027.0,894.7 L1028.0,894.3 L1029.0,893.7 L1030.0,893.4 L1031.0,893.0 L1032.0,892.7 L1033.0,892.4 L1034.0,892.3 L1035.0,892.3 L1036.0,892.5 L1037.0,892.9 L1038.0,892.9 L1039.0,892.3 L1040.0,892.0 L1041.0,891.9 L1042.0,891.1 L1043.0,891.0 L1044.0,891.8 L1045.0,892.2 L1046.0,892.0 L1047.0,891.3 L1048.0,890.7 L1049.0,890.9 L1050.0,891.1 L1051.0,890.8 L1052.0,890.4 L1052.5,890.1 L1053.0,890.5 L1054.0,891.4 L1055.0,891.5 L1056.0,891.1 L1057.0,891.2 L1058.0,891.9 L1059.0,892.4 L1060.0,892.5 L1061.0,892.5 L1062.0,892.4 L1063.0,892.9 L1064.0,893.9 L1065.0,894.2 L1066.0,893.2 L1067.0,892.7 L1068.0,892.5 L1069.0,891.5 L1070.0,890.6 L1071.0,890.1 L1072.0,888.7 L1073.0,887.0 L1074.0,884.8 L1075.0,882.1 L1076.0,879.8 L1077.0,876.8 L1078.0,873.4 L1079.0,870.5 L1080.0,867.9 L1081.0,865.0 L1082.0,862.6 L1083.0,860.3 L1084.0,858.6 L1085.0,860.2 L1086.0,862.7 L1087.0,865.2 L1088.0,867.5 L1089.0,869.8 L1090.0,872.6 L1091.0,875.8 L1092.0,878.0 L1093.0,879.3 L1094.0,880.6 L1095.0,880.1 L1096.0,879.5 L1097.0,879.1 L1098.0,878.0 L1099.0,876.3 L1100.0,875.5 L1101.0,874.7 L1102.0,873.8 L1103.0,874.1 L1104.0,874.8 L1105.0,875.7 L1106.0,876.1 L1107.0,875.3 L1108.0,874.7 L1109.0,874.1 L1110.0,873.5 L1111.0,873.1 L1112.0,872.6 L1113.0,872.2 L1114.0,871.7 L1115.0,871.0 L1116.0,872.8 L1117.0,876.1 L1118.0,879.7 L1119.0,883.3 L1120.0,885.6 L1121.0,886.4 L1122.0,887.4 L1123.0,887.4 L1124.0,888.0 L1125.0,888.5 L1126.0,887.6 L1127.0,886.3 L1128.0,886.0 L1129.0,885.8 L1130.0,886.9 L1131.0,888.7 L1132.0,890.8 L1133.0,893.0 L1134.0,895.5 L1135.0,897.7 L1136.0,898.7 L1137.0,899.5 L1138.0,899.3 L1139.0,899.1 L1140.0,900.2 L1141.0,901.3 L1142.0,901.9 L1143.0,902.1 L1144.0,902.6 L1145.0,903.2 L1146.0,903.4 L1147.0,903.5 L1148.0,903.5 L1149.0,903.6 L1150.0,903.8 L1151.0,902.5 L1152.0,901.5 L1153.0,900.9 L1154.0,899.8 L1155.0,898.9 L1156.0,898.0 L1157.0,898.7 L1158.0,899.8 L1159.0,900.3 L1160.0,900.7 L1161.0,901.4 L1162.0,902.6 L1163.0,904.0 L1164.0,904.8 L1165.0,905.0 L1166.0,904.8 L1167.0,904.7 L1168.0,904.3 L1169.0,904.2 L1170.0,904.3 L1171.0,904.2 L1172.0,904.3 L1172.5,904.1 L1173.0,904.6 L1174.0,906.0 L1175.0,907.0 L1176.0,907.7 L1177.0,908.6 L1178.0,909.8 L1179.0,911.0 L1180.0,912.3 L1181.0,913.2 L1182.0,913.2 L1182.5,913.0 L1183.0,912.4 L1184.0,911.3 L1185.0,911.6 L1186.0,912.5 L1187.0,912.6 L1188.0,912.4 L1189.0,912.7 L1190.0,912.5 L1191.0,912.1 L1192.0,912.2 L1193.0,912.2 L1194.0,911.3 L1195.0,910.0 L1196.0,909.0 L1197.0,907.5 L1198.0,905.9 L1199.0,904.6 L1200.0,903.5 L1201.0,902.7 L1202.0,902.0 L1202.5,901.7 L1203.0,901.4 L1204.0,901.5 L1205.0,902.3 L1206.0,903.3 L1207.0,904.4 L1208.0,905.5 L1209.0,905.4 L1210.0,905.5 L1211.0,905.4 L1212.0,904.7 L1213.0,903.3 L1214.0,902.3 L1215.0,901.8 L1216.0,901.5 L1217.0,902.9 L1218.0,905.0 L1219.0,907.8 L1220.0,910.5 L1221.0,912.1 L1222.0,913.5 L1223.0,915.7 L1224.0,918.0 L1224.5,918.8 L1225.0,919.1 L1226.0,919.0 L1227.0,918.5 L1228.0,917.7 L1229.0,917.4 L1230.0,917.1 L1231.0,916.1 L1232.0,915.6 L1232.5,915.7 L1233.0,914.5 L1234.0,912.6 L1235.0,911.5 L1236.0,910.3 L1237.0,909.1 L1238.0,908.0 L1239.0,906.5 L1240.0,905.0 L1241.0,904.3 L1242.0,904.4 L1243.0,904.2 L1244.0,904.2 L1245.0,904.2 L1246.0,904.0 L1247.0,903.9 L1248.0,903.9 L1249.0,903.7 L1250.0,903.9 L1251.0,904.5 L1252.0,904.5 L1253.0,904.4 L1254.0,904.5 L1255.0,906.1 L1256.0,908.6 L1257.0,911.2 L1258.0,913.9 L1259.0,917.1 L1260.0,920.2 L1261.0,922.4 L1262.0,922.6 L1263.0,923.5 L1264.0,924.8 L1265.0,925.0 L1266.0,924.4 L1267.0,923.7 L1268.0,922.8 L1269.0,921.7 L1270.0,920.6 L1271.0,920.1 L1272.0,920.0 L1272.5,920.2 L1273.0,920.4 L1274.0,920.7 L1275.0,921.4 L1276.0,921.4 L1277.0,921.2 L1278.0,922.2 L1279.0,924.1 L1280.0,924.8 L1281.0,925.0 L1282.0,925.5 L1283.0,926.4 L1284.0,927.4 L1285.0,928.0 L1286.0,927.8 L1287.0,926.7 L1288.0,925.7 L1289.0,925.7 L1290.0,925.3 L1291.0,924.8 L1292.0,924.5 L1293.0,923.8 L1294.0,923.2 L1295.0,922.3 L1296.0,921.4 L1297.0,921.0 L1298.0,920.7 L1299.0,920.8 L1300.0,920.6 L1301.0,920.4 L1302.0,920.5 L1303.0,920.5 L1304.0,920.5 L1305.0,920.7 L1306.0,920.7 L1307.0,920.0 L1308.0,919.0 L1309.0,918.2 L1310.0,917.3 L1311.0,915.9 L1312.0,914.9 L1313.0,914.4 L1314.0,914.0 L1315.0,915.1 L1316.0,917.2 L1317.0,919.7 L1318.0,921.2 L1319.0,922.5 L1320.0,924.7 L1321.0,927.0 L1322.0,928.7 L1323.0,930.4 L1324.0,931.5 L1325.0,931.2 L1326.0,930.8 L1327.0,930.6 L1328.0,930.7 L1329.0,930.9 L1330.0,931.1 L1331.0,930.9 L1332.0,930.7 L1333.0,930.7 L1334.0,930.4 L1335.0,929.9 L1336.0,929.5 L1337.0,929.3 L1338.0,928.9 L1339.0,928.4 L1340.0,927.7 L1341.0,927.1 L1342.0,926.9 L1343.0,926.2 L1344.0,925.3 L1345.0,925.0 L1346.0,925.7 L1347.0,926.5 L1348.0,926.7 L1349.0,927.0 L1350.0,927.7 L1351.0,928.3 L1352.0,929.1 L1353.0,929.9 L1354.0,930.2 L1355.0,930.6 L1356.0,930.2 L1357.0,929.7 L1358.0,929.8 L1359.0,929.6 L1360.0,928.9 L1361.0,928.3 L1362.0,928.3 L1362.5,928.2 L1363.0,928.6 L1364.0,929.8 L1365.0,930.5 L1366.0,931.0 L1367.0,932.3 L1368.0,933.9 L1369.0,935.2 L1370.0,936.3 L1371.0,937.4 L1372.0,937.8 L1372.5,937.2 L1373.0,936.8 L1374.0,936.5 L1375.0,936.4 L1376.0,936.2 L1377.0,935.2 L1378.0,934.1 L1379.0,933.9 L1380.0,934.4 L1381.0,934.4 L1382.0,934.6 L1383.0,934.8 L1384.0,934.9 L1385.0,935.7 L1386.0,936.4 L1387.0,936.4 L1388.0,936.2 L1389.0,936.3 L1390.0,936.7 L1391.0,936.9 L1392.0,936.8 L1393.0,937.0 L1394.0,937.3 L1395.0,936.8 L1396.0,935.8 L1397.0,935.6 L1398.0,935.8 L1399.0,935.5 L1400.0,934.7 L1401.0,933.4 L1402.0,931.2 L1403.0,929.4 L1404.0,927.8 L1405.0,925.4 L1406.0,923.0 L1407.0,921.3 L1408.0,920.2 L1409.0,921.5 L1410.0,923.5 L1411.0,925.9 L1412.0,928.6 L1412.5,929.9 L1413.0,930.3 L1414.0,932.6 L1415.0,935.2 L1416.0,937.0 L1417.0,939.1 L1417.5,939.9 L1418.0,939.6 L1419.0,939.6 L1420.0,939.9 L1421.0,940.4 L1422.0,940.7 L1423.0,941.1 L1424.0,941.6 L1425.0,941.8 L1426.0,942.0 L1427.0,941.8 L1428.0,941.4 L1429.0,941.8 L1430.0,942.0 L1431.0,941.9 L1432.0,942.5 L1433.0,942.7 L1434.0,942.5 L1435.0,942.3 L1436.0,942.6 L1437.0,942.8 L1438.0,942.8 L1439.0,942.5 L1440.0,942.5 L1441.0,942.7 L1442.0,942.0 L1443.0,941.0 L1444.0,940.9 L1445.0,941.0 L1446.0,940.8 L1447.0,940.2 L1448.0,939.7 L1449.0,939.5 L1450.0,939.6 L1451.0,939.3 L1452.0,938.5 L1453.0,937.6 L1454.0,936.9 L1455.0,936.6 L1456.0,936.5 L1457.0,936.2 L1457.5,935.4 L1458.0,935.2 L1459.0,935.4 L1460.0,935.7 L1461.0,936.2 L1462.0,936.6 L1463.0,937.0 L1464.0,937.9 L1465.0,938.4 L1466.0,938.2 L1467.0,938.5 L1467.5,938.9 L1468.0,938.7 L1469.0,938.4 L1470.0,938.4 L1471.0,938.1 L1472.0,937.3 L1473.0,936.9 L1474.0,937.1 L1474.5,936.9 L1475.0,936.3 L1476.0,936.5 L1477.0,936.9 L1478.0,937.0 L1479.0,937.4 L1480.0,937.8 L1481.0,938.0 L1482.0,938.3 L1483.0,938.6 L1484.0,939.0 L1485.0,939.9 L1486.0,941.5 L1487.0,942.4 L1488.0,942.5 L1489.0,942.6 L1490.0,943.1 L1491.0,943.6 L1492.0,943.8 L1493.0,943.7 L1494.0,943.6 L1495.0,943.9 L1496.0,943.9 L1497.0,943.8 L1498.0,944.1 L1499.0,945.0 L1500.0,945.2 L1501.0,944.9 L1502.0,945.4 L1503.0,945.4 L1504.0,944.5 L1505.0,944.0 L1506.0,944.1 L1507.0,944.1 L1508.0,943.5 L1509.0,943.0 L1510.0,942.8 L1511.0,942.4 L1512.0,942.8 L1513.0,943.2 L1514.0,943.0 L1515.0,942.9 L1516.0,943.1 L1517.0,943.2 L1518.0,943.1 L1519.0,943.0 L1520.0,943.3 L1521.0,944.0 L1522.0,944.9 L1523.0,945.4 L1524.0,945.1 L1525.0,944.8 L1526.0,945.0 L1527.0,945.8 L1528.0,946.6 L1529.0,946.7 L1530.0,946.5 L1531.0,946.6 L1532.0,947.2 L1532.5,947.3 L1533.0,947.0 L1534.0,947.1 L1535.0,947.2 L1536.0,946.9 L1537.0,946.9 L1538.0,946.6 L1539.0,945.9 L1540.0,945.6 L1541.0,945.0 L1542.0,944.4 L1543.0,944.2 L1544.0,944.2 L1545.0,944.6 L1546.0,945.0 L1547.0,945.3 L1548.0,945.0 L1549.0,944.5 L1550.0,944.9 L1551.0,945.4 L1552.0,945.8 L1553.0,946.3 L1554.0,946.9 L1555.0,947.3 L1556.0,947.0 L1557.0,947.3 L1558.0,947.4 L1559.0,947.3 L1560.0,947.9 L1561.0,947.9 L1562.0,947.3 L1563.0,947.6 L1564.0,948.0 L1565.0,946.8 L1566.0,945.5 L1567.0,945.3 L1568.0,945.2 L1569.0,945.0 L1570.0,944.5 L1571.0,944.1 L1572.0,943.9 L1573.0,943.3 L1574.0,942.6 L1575.0,942.3 L1576.0,942.5 L1577.0,942.7 L1578.0,942.4 L1579.0,942.0 L1580.0,942.1 L1581.0,942.8 L1582.0,943.3 L1583.0,943.2 L1584.0,943.5 L1585.0,943.8 L1586.0,943.8 L1587.0,944.3 L1588.0,944.6 L1589.0,944.8 L1590.0,945.3 L1591.0,945.5 L1592.0,945.2 L1593.0,944.5 L1594.0,944.5 L1595.0,944.4 L1596.0,943.4 L1597.0,943.0 L1598.0,942.9 L1599.0,942.3 L1600.0,941.6 L1601.0,941.1 L1602.0,940.8 L1603.0,940.6 L1604.0,940.7 L1605.0,941.3 L1606.0,942.2 L1607.0,943.0 L1608.0,943.7 L1609.0,944.4 L1610.0,945.7 L1611.0,947.1 L1612.0,947.8 L1613.0,947.7 L1614.0,947.7 L1615.0,947.7 L1616.0,947.5 L1617.0,947.7 L1618.0,947.9 L1619.0,947.5 L1620.0,947.6 L1621.0,947.6 L1622.0,947.2 L1623.0,947.1 L1624.0,947.3 L1625.0,947.4 L1626.0,947.8 L1627.0,947.7 L1628.0,946.9 L1629.0,946.8 L1630.0,946.8 L1631.0,946.5 L1632.0,946.6 L1633.0,947.0 L1634.0,946.8 L1635.0,946.4 L1636.0,946.7 L1637.0,947.0 L1638.0,946.6 L1639.0,946.8 L1640.0,947.6 L1641.0,947.4 L1642.0,946.2 L1643.0,946.0 L1644.0,946.3 L1645.0,946.1 L1646.0,946.0 L1647.0,946.1 L1648.0,945.7 L1649.0,944.7 L1650.0,944.3 L1651.0,945.0 L1652.0,945.6 L1653.0,945.2 L1654.0,944.7 L1655.0,945.2 L1656.0,945.4 L1657.0,945.0 L1657.5,944.9 L1658.0,945.4 L1659.0,945.8 L1660.0,946.0 L1661.0,946.1 L1662.0,946.3 L1663.0,946.4 L1664.0,946.8 L1665.0,947.4 L1666.0,947.8 L1667.0,948.3 L1668.0,948.9 L1669.0,949.3 L1670.0,949.1 L1671.0,948.7 L1672.0,948.7 L1673.0,948.6 L1674.0,948.2 L1675.0,948.5 L1676.0,949.1 L1677.0,948.9 L1678.0,948.1 L1679.0,947.8 L1680.0,948.0 L1681.0,948.3 L1682.0,948.3 L1683.0,947.4 L1684.0,946.9 L1685.0,947.3 L1686.0,947.6 L1687.0,947.7 L1688.0,948.1 L1689.0,948.2 L1690.0,947.4 L1691.0,946.6 L1692.0,946.5 L1693.0,947.0 L1694.0,947.3 L1695.0,947.3 L1696.0,947.4 L1697.0,947.6 L1698.0,947.7 L1699.0,947.3 L1700.0,946.8 L1701.0,946.6 L1702.0,946.3 L1703.0,946.5 L1704.0,947.4 L1705.0,948.2 L1706.0,948.4 L1707.0,947.9 L1708.0,947.4 L1709.0,947.5 L1710.0,948.0 L1711.0,948.1 L1712.0,947.9 L1713.0,948.2 L1714.0,948.0 L1715.0,947.6 L1716.0,947.8 L1717.0,947.9 L1718.0,947.4 L1719.0,947.5 L1720.0,948.0 L1721.0,948.1 L1722.0,947.4 L1723.0,946.3 L1724.0,946.0 L1725.0,946.0 L1726.0,945.2 L1727.0,944.4 L1728.0,944.3 L1729.0,944.8 L1730.0,944.6 L1731.0,943.8 L1732.0,943.2 L1732.5,942.8 L1733.0,943.0 L1734.0,943.5 L1735.0,944.0 L1736.0,944.7 L1737.0,944.9 L1738.0,945.4 L1739.0,946.3 L1740.0,946.7 L1741.0,946.8 L1742.0,946.7 L1743.0,946.7 L1744.0,947.3 L1745.0,947.8 L1746.0,947.9 L1747.0,947.4 L1748.0,947.3 L1749.0,948.1 L1750.0,948.6 L1751.0,948.3 L1752.0,948.2 L1753.0,948.3 L1754.0,948.1 L1755.0,948.0 L1756.0,948.2 L1757.0,948.6 L1758.0,948.9 L1759.0,948.8 L1760.0,949.1 L1761.0,949.0 L1762.0,948.3 L1763.0,948.2 L1764.0,948.6 L1765.0,948.8 L1766.0,948.8 L1767.0,948.6 L1768.0,949.2 L1769.0,949.6 L1770.0,949.1 L1771.0,948.8 L1772.0,949.0 L1773.0,949.2 L1774.0,949.5 L1775.0,949.6 L1776.0,949.6 L1777.0,949.7 L1778.0,949.5 L1779.0,948.7 L1780.0,948.8 L1781.0,949.2 L1782.0,949.2 L1783.0,949.3 L1784.0,949.2 L1785.0,949.2 L1786.0,949.1 L1787.0,949.2 L1788.0,949.5 L1789.0,949.4 L1790.0,949.7 L1791.0,950.2 L1792.0,949.7 L1793.0,949.3 L1794.0,949.8 L1795.0,950.2 L1796.0,950.4 L1797.0,950.2 L1798.0,949.7 L1799.0,949.9 L1800.0,950.1 L1801.0,949.7 L1802.0,949.1 L1803.0,948.4 L1804.0,949.1 L1805.0,949.7 L1806.0,949.1 L1807.0,949.0 L1808.0,949.6 L1809.0,950.0 L1810.0,949.9 L1811.0,949.2 L1812.0,949.4 L1813.0,949.6 L1814.0,949.2 L1815.0,949.6 L1816.0,950.4 L1817.0,950.4 L1818.0,949.5 L1819.0,948.6 L1820.0,949.1 L1821.0,949.6 L1822.0,949.4 L1823.0,950.0 L1824.0,950.6 L1825.0,949.8 L1826.0,949.2 L1827.0,949.4 L1828.0,949.4 L1829.0,949.3 L1830.0,949.6 L1831.0,949.8 L1832.0,949.5 L1833.0,949.1 L1834.0,949.3 L1835.0,949.6 L1836.0,949.6 L1837.0,950.0 L1838.0,949.8 L1839.0,949.3 L1840.0,949.8 L1841.0,950.5 L1842.0,950.3 L1843.0,949.8 L1844.0,949.5 L1845.0,948.9 L1846.0,948.6 L1847.0,949.0 L1848.0,949.2 L1849.0,949.1 L1850.0,948.9 L1851.0,948.6 L1852.0,947.7 L1853.0,946.8 L1854.0,945.6 L1855.0,944.0 L1856.0,942.3 L1857.0,940.4 L1858.0,939.6 L1859.0,939.7 L1860.0,939.0 L1861.0,937.4 L1862.0,935.8 L1863.0,934.2 L1864.0,933.1 L1865.0,931.7 L1866.0,930.2 L1866.2,930.4 L1867.0,931.8 L1868.0,933.5 L1869.0,935.5 L1870.0,937.7 L1871.0,940.0 L1872.0,942.8 L1873.0,944.9 L1874.0,946.6 L1874.6,948.1 L1875.0,948.3 L1876.0,948.6 L1877.0,949.2 L1878.0,949.1 L1879.0,949.4 L1880.0,949.6 L1881.0,949.1 L1882.0,949.4 L1883.0,949.7 L1884.0,949.3 L1885.0,949.2 L1886.0,949.2 L1887.0,949.0 L1888.0,948.9 L1889.0,948.9 L1890.0,949.3 L1891.0,949.6 L1892.0,949.2 L1893.0,948.9 L1894.0,949.3 L1895.0,949.6 L1896.0,949.9 L1897.0,949.9 L1898.0,949.5 L1899.0,949.3 L1900.0,949.6 L1901.0,949.9 L1902.0,949.8 L1903.0,949.1 L1904.0,949.1 L1905.0,950.1 L1906.0,950.3 L1907.0,949.8 L1908.0,949.6 L1909.0,949.2 L1910.0,949.0 L1911.0,949.2 L1912.0,949.2 L1913.0,949.0 L1914.0,948.8 L1915.0,949.2 L1916.0,949.5 L1917.0,949.2 L1918.0,948.7 L1919.0,948.3 L1920.0,948.4 L1921.0,948.4 L1922.0,947.8 L1923.0,947.6 L1924.0,947.9 L1925.0,947.8 L1926.0,947.7 L1927.0,947.6 L1928.0,947.5 L1929.0,947.0 L1930.0,946.5 L1931.0,946.6 L1932.0,946.8 L1933.0,946.8 L1933.6,946.6 L1934.0,946.7 L1935.0,947.3 L1936.0,947.7 L1937.0,947.9 L1938.0,948.0 L1939.0,948.1 L1940.0,948.4 L1941.0,948.6 L1942.0,948.7 L1943.0,948.7 L1944.0,949.3 L1945.0,950.0 L1946.0,949.7 L1947.0,949.3 L1948.0,949.5 L1949.0,949.8 L1950.0,949.8 L1950.5,949.3 L1951.0,949.1 L1952.0,949.3 L1953.0,949.2 L1954.0,949.3 L1955.0,949.6 L1956.0,949.8 L1957.0,949.7 L1958.0,948.9 L1959.0,948.0 L1960.0,947.5 L1961.0,947.6 L1961.7,947.5 L1962.0,947.3 L1963.0,947.7 L1964.0,948.3 L1965.0,948.5 L1966.0,948.4 L1967.0,948.4 L1968.0,948.4 L1969.0,948.2 L1970.0,948.3 L1971.0,949.1 L1972.0,949.9 L1973.0,949.8 L1974.0,949.5 L1975.0,949.7 L1976.0,950.0 L1977.0,950.0 L1978.0,950.1 L1978.6,950.0 L1979.0,949.7 L1980.0,949.7 L1981.0,949.2 L1982.0,948.5 L1983.0,947.9 L1984.0,947.0 L1985.0,946.2 L1986.0,945.5 L1987.0,944.7 L1988.0,943.8 L1989.0,942.7 L1990.0,941.6 L1991.0,941.0 L1992.0,940.4 L1993.0,940.0 L1994.0,939.1 L1995.0,937.6 L1996.0,936.1 L1997.0,934.7 L1998.0,933.8 L1999.0,933.1 L1999.2,932.6 L2000.0,933.4 L2001.0,935.3 L2002.0,937.1 L2003.0,938.4 L2004.0,940.1 L2005.0,942.1 L2006.0,943.3 L2007.0,944.7 L2008.0,946.7 L2008.5,947.2 L2009.0,947.2 L2010.0,948.0 L2011.0,948.6 L2012.0,949.1 L2013.0,949.2 L2014.0,949.3 L2015.0,949.7 L2016.0,949.5 L2017.0,949.0 L2018.0,949.2 L2019.0,949.6 L2020.0,949.5 L2021.0,949.5 L2022.0,949.7 L2023.0,949.3 L2024.0,949.0 L2025.0,949.5 L2026.0,950.0 L2027.0,950.1 L2028.0,950.1 L2029.0,949.9 L2030.0,949.9 L2031.0,949.9 L2032.0,949.8 L2033.0,950.1 L2034.0,950.3 L2035.0,950.1 L2036.0,950.1 L2037.0,949.7 L2038.0,949.2 L2039.0,949.4 L2040.0,949.5 L2041.0,949.3 L2042.0,949.4 L2043.0,949.7 L2044.0,949.3 L2045.0,948.9 L2046.0,949.1 L2047.0,949.0 L2048.0,948.5 L2049.0,948.3 L2050.0,948.2 L2051.0,948.1 L2052.0,948.4 L2053.0,948.8 L2054.0,949.0 L2055.0,948.7 L2056.0,948.4 L2057.0,948.3 L2058.0,948.0 L2059.0,947.5 L2060.0,947.4 L2061.0,947.2 L2062.0,946.8 L2063.0,946.5 L2064.0,946.4 L2064.7,946.3 L2065.0,946.3 L2066.0,946.7 L2067.0,947.0 L2068.0,947.0 L2069.0,947.3 L2070.0,947.4 L2071.0,947.2 L2072.0,947.0 L2073.0,946.5 L2074.0,946.2 L2075.0,947.0 L2076.0,947.8 L2077.0,947.8 L2078.0,948.3 L2079.0,948.9 L2080.0,948.9 L2081.0,949.5 L2082.0,950.0 L2083.0,950.1 L2084.0,950.2 L2085.0,949.8 L2086.0,949.3 L2087.0,949.5 L2088.0,949.3 L2089.0,948.9 L2090.0,949.5 L2091.0,950.4 L2092.0,950.2 L2092.8,949.8 L2093.0,949.8 L2094.0,949.8 L2095.0,949.7 L2096.0,949.3 L2097.0,948.8 L2098.0,948.6 L2099.0,948.9 L2100.0,949.5 L2101.0,950.0 L2102.0,949.9 L2103.0,949.6 L2104.0,949.0 L2105.0,948.2 L2106.0,947.7 L2107.0,947.3 L2108.0,946.9 L2109.0,947.3 L2110.0,947.9 L2111.0,947.7 L2111.5,947.4 L2112.0,946.7 L2113.0,945.8 L2114.0,945.6 L2115.0,945.7 L2116.0,945.9 L2117.0,945.4 L2118.0,944.0 L2119.0,940.9 L2120.0,937.3 L2121.0,932.8 L2122.0,928.5 L2122.8,925.9 L2123.0,925.6 L2124.0,922.6 L2125.0,919.5 L2126.0,916.7 L2127.0,914.2 L2128.0,911.9 L2129.0,908.9 L2130.0,905.8 L2131.0,902.9 L2132.0,900.2 L2133.0,898.2 L2134.0,901.1 L2135.0,905.9 L2136.0,910.4 L2136.5,912.5 L2137.0,915.0 L2138.0,919.2 L2139.0,923.6 L2139.6,926.3 L2140.0,928.1 L2141.0,932.2 L2142.0,936.0 L2143.0,939.8 L2144.0,943.4 L2145.0,945.9 L2146.0,946.0 L2147.0,946.7 L2148.0,947.5 L2149.0,947.7 L2150.0,948.1 L2151.0,948.8 L2152.0,948.9 L2153.0,948.9 L2154.0,948.7 L2155.0,948.6 L2156.0,948.6 L2157.0,948.5 L2158.0,948.8 L2159.0,949.3 L2160.0,949.5 L2161.0,949.6 L2162.0,950.0 L2163.0,950.5 L2164.0,950.1 L2165.0,949.3 L2166.0,949.3 L2167.0,949.5 L2168.0,949.6 L2169.0,949.6 L2170.0,949.9 L2171.0,950.5 L2172.0,950.4 L2173.0,950.0 L2174.0,950.0 L2175.0,950.4 L2176.0,950.8 L2177.0,950.9 L2178.0,950.3 L2179.0,949.5 L2180.0,950.2 L2181.0,951.3 L2182.0,951.4 L2183.0,950.6 L2184.0,950.1 L2185.0,950.4 L2186.0,950.2 L2187.0,949.9 L2188.0,950.4 L2189.0,951.3 L2190.0,950.8" stroke="#ff00ff"/>
<circle cx="320.0" cy="948.0" r="3.35" fill="#ff00ff" stroke="none"/>
<path d="M319.5,1144.0 L320.5,1144.2 L321.5,1144.4 L322.5,1144.0 L323.5,1143.6 L324.5,1143.8 L325.5,1144.2 L326.5,1144.4 L327.5,1144.2 L328.5,1144.1 L329.5,1143.9 L330.5,1143.7 L331.5,1143.5 L332.5,1144.0 L333.5,1144.2 L334.5,1143.9 L335.5,1143.8 L336.5,1144.1 L337.5,1144.3 L338.5,1144.1 L339.5,1143.7 L340.5,1143.4 L341.5,1143.2 L342.5,1143.3 L343.5,1143.6 L344.5,1143.6 L345.5,1143.7 L346.5,1143.9 L347.5,1143.8 L348.5,1143.8 L349.5,1143.8 L350.0,1143.7 L350.5,1143.6 L351.5,1143.3 L352.5,1143.2 L353.5,1143.3 L354.5,1143.2 L355.5,1143.2 L356.5,1143.4 L357.5,1143.3 L358.5,1143.0 L359.5,1142.7 L360.5,1142.9 L361.5,1142.8 L362.5,1142.6 L363.5,1142.4 L364.5,1142.3 L365.5,1141.9 L366.5,1141.1 L367.5,1140.2 L368.5,1139.9 L369.5,1140.0 L370.5,1139.8 L371.0,1139.4 L371.5,1138.9 L372.5,1138.4 L373.5,1137.6 L374.5,1136.8 L375.5,1135.9 L376.5,1135.1 L377.5,1134.6 L378.0,1134.2 L378.5,1133.1 L379.5,1131.4 L380.5,1130.0 L381.5,1128.3 L382.5,1125.5 L383.5,1122.9 L384.5,1121.3 L385.5,1124.2 L386.5,1128.8 L387.0,1131.5 L387.5,1134.5 L388.5,1140.3 L389.0,1142.4 L389.5,1142.9 L390.5,1143.6 L391.5,1143.9 L392.5,1144.4 L393.5,1144.8 L394.5,1145.0 L395.5,1145.0 L396.5,1144.4 L397.5,1143.6 L398.5,1143.8 L399.5,1144.3 L400.5,1144.3 L401.5,1144.3 L402.5,1144.7 L403.5,1144.7 L404.5,1144.4 L405.5,1144.4 L406.5,1144.3 L407.5,1144.3 L408.5,1144.4 L409.5,1144.2 L410.5,1143.9 L411.5,1144.0 L412.5,1144.1 L413.5,1144.3 L414.5,1144.4 L415.5,1144.5 L416.5,1144.8 L417.5,1144.7 L418.5,1144.2 L419.5,1144.4 L420.5,1144.6 L421.5,1144.3 L422.5,1144.0 L423.5,1144.4 L424.5,1144.6 L425.5,1144.2 L426.5,1144.2 L427.5,1144.3 L428.5,1144.2 L429.5,1144.1 L430.5,1144.2 L431.5,1144.5 L432.5,1144.4 L433.5,1144.2 L434.5,1144.3 L435.5,1144.1 L436.5,1144.2 L437.5,1144.5 L438.5,1144.5 L439.5,1144.5 L440.5,1144.5 L441.5,1144.4 L442.5,1144.4 L443.5,1144.6 L444.5,1144.6 L445.5,1144.3 L446.5,1144.4 L447.5,1144.4 L448.5,1144.1 L449.5,1144.0 L450.0,1143.9 L450.5,1143.5 L451.5,1143.6 L452.5,1143.8 L453.5,1143.9 L454.5,1144.1 L455.5,1144.1 L456.5,1144.0 L457.5,1144.1 L458.5,1144.0 L459.5,1143.9 L460.5,1143.8 L461.5,1144.0 L462.5,1144.3 L463.5,1144.5 L464.5,1144.4 L465.5,1144.1 L466.5,1143.6 L467.5,1143.5 L468.5,1143.9 L469.5,1144.1 L470.5,1143.9 L471.5,1144.1 L472.5,1144.3 L473.5,1144.1 L474.5,1144.1 L475.5,1143.8 L476.5,1143.3 L477.5,1143.3 L478.5,1143.6 L479.5,1143.7 L480.5,1143.5 L481.5,1143.4 L482.5,1143.4 L483.5,1143.6 L484.5,1143.8 L485.5,1144.0 L486.5,1144.0 L487.5,1143.8 L488.5,1143.7 L489.5,1143.7 L490.5,1143.9 L491.5,1143.7 L492.5,1143.1 L493.5,1143.3 L494.5,1143.8 L495.5,1143.8 L496.5,1143.5 L497.5,1143.6 L498.5,1143.8 L499.5,1143.3 L500.5,1142.9 L501.5,1143.0 L502.5,1143.2 L503.5,1143.4 L504.5,1143.6 L505.5,1143.8 L506.5,1143.6 L507.5,1143.2 L508.5,1143.1 L509.5,1143.1 L510.5,1143.6 L511.5,1143.8 L512.5,1143.7 L513.5,1143.5 L514.5,1143.3 L515.5,1143.6 L516.5,1143.8 L517.5,1143.4 L518.5,1143.6 L519.5,1143.5 L520.5,1142.8 L521.5,1142.5 L522.5,1142.9 L523.5,1143.3 L524.5,1143.2 L525.5,1143.2 L526.5,1143.4 L527.5,1143.3 L528.5,1143.2 L529.5,1143.3 L530.5,1143.3 L531.5,1143.3 L532.5,1143.4 L533.5,1143.1 L534.5,1142.9 L535.5,1143.2 L536.5,1143.0 L537.5,1142.6 L538.5,1142.6 L539.5,1142.6 L540.5,1142.7 L541.5,1143.0 L542.5,1142.9 L543.5,1142.9 L544.5,1143.1 L545.5,1143.3 L546.5,1143.0 L547.5,1142.4 L548.5,1142.3 L549.5,1142.5 L550.5,1142.7 L551.5,1142.9 L552.5,1143.0 L553.5,1142.9 L554.5,1142.8 L555.5,1142.8 L556.5,1142.7 L557.5,1142.8 L558.5,1143.0 L559.5,1142.8 L560.5,1142.3 L561.5,1141.9 L562.5,1142.1 L563.5,1142.0 L564.5,1141.6 L565.5,1141.7 L566.5,1141.9 L567.5,1141.5 L568.5,1141.4 L569.5,1141.8 L570.5,1141.6 L571.5,1141.1 L572.5,1141.0 L573.5,1140.6 L574.5,1140.2 L575.5,1140.1 L576.5,1139.4 L577.5,1138.7 L578.5,1138.0 L579.5,1137.3 L580.5,1136.4 L581.5,1135.8 L582.5,1135.1 L583.5,1134.0 L584.5,1132.9 L585.5,1131.8 L586.5,1130.4 L587.5,1129.1 L588.5,1126.7 L589.5,1123.9 L590.5,1121.0 L591.5,1117.8 L592.5,1114.2 L593.5,1110.4 L594.5,1106.8 L595.0,1105.1 L595.5,1102.0 L596.5,1095.5 L597.5,1088.7 L598.5,1081.6 L599.5,1074.0 L600.0,1070.1 L600.5,1064.3 L601.5,1051.8 L602.5,1038.3 L603.5,1024.3 L604.5,1007.7 L605.5,990.6 L606.5,976.5 L607.0,971.9 L607.5,980.3 L608.5,1006.5 L609.0,1019.8 L609.5,1033.6 L610.5,1061.7 L611.0,1074.4 L611.5,1085.1 L612.5,1106.8 L613.5,1124.5 L614.0,1130.5 L614.5,1131.2 L615.5,1131.9 L616.5,1132.4 L617.5,1132.9 L618.5,1133.5 L619.5,1133.9 L620.5,1134.7 L621.0,1135.2 L621.5,1135.2 L622.5,1136.0 L623.5,1137.1 L624.5,1137.7 L625.5,1138.2 L626.5,1138.9 L627.5,1139.2 L628.5,1139.1 L629.5,1139.2 L630.5,1139.2 L631.5,1139.2 L632.5,1139.3 L633.5,1139.1 L634.5,1139.1 L635.5,1139.1 L636.5,1139.1 L637.5,1139.1 L638.5,1138.9 L639.5,1138.5 L640.5,1138.3 L641.5,1138.4 L642.5,1138.7 L643.5,1138.9 L644.5,1138.8 L645.5,1138.4 L646.5,1138.0 L647.5,1137.5 L648.5,1137.2 L649.5,1137.4 L650.0,1137.5 L650.5,1137.2 L651.5,1137.2 L652.5,1137.4 L653.5,1137.1 L654.5,1137.0 L655.5,1137.4 L656.5,1137.1 L657.5,1136.6 L658.5,1136.4 L659.5,1136.3 L660.5,1136.1 L661.5,1135.4 L662.5,1134.9 L663.5,1134.9 L664.5,1134.8 L665.5,1134.5 L666.5,1133.6 L667.5,1133.2 L668.5,1133.2 L669.5,1133.1 L670.5,1132.8 L671.5,1132.7 L672.5,1132.5 L673.5,1132.6 L674.5,1133.1 L675.5,1133.9 L676.0,1134.0 L676.5,1134.1 L677.5,1134.6 L678.5,1135.0 L679.5,1135.4 L680.0,1135.5 L680.5,1135.6 L681.5,1135.8 L682.5,1136.1 L683.5,1136.8 L684.5,1137.2 L685.5,1136.9 L686.5,1136.5 L687.5,1136.5 L688.5,1136.8 L689.5,1136.9 L690.5,1136.7 L691.5,1136.7 L692.5,1136.8 L693.5,1136.7 L694.5,1136.5 L695.5,1136.3 L696.5,1136.6 L697.5,1136.9 L698.5,1136.8 L699.5,1136.9 L700.0,1137.1 L700.5,1137.2 L701.5,1136.8 L702.5,1136.2 L703.5,1136.3 L704.5,1136.2 L705.5,1135.5 L706.5,1135.3 L707.5,1135.4 L708.5,1135.0 L709.5,1134.7 L710.5,1134.6 L711.5,1134.3 L712.5,1133.9 L713.5,1133.1 L714.5,1132.5 L715.5,1131.8 L716.5,1130.5 L717.5,1129.0 L718.5,1128.3 L719.5,1127.2 L720.5,1126.0 L721.5,1124.8 L722.5,1123.4 L723.5,1122.3 L724.5,1121.0 L725.0,1120.3 L725.5,1118.8 L726.5,1115.8 L727.5,1113.1 L728.5,1110.3 L729.5,1107.4 L730.5,1104.2 L731.0,1102.4 L731.5,1101.1 L732.5,1097.9 L733.5,1094.1 L734.5,1090.4 L735.5,1087.5 L736.5,1085.4 L737.5,1083.7 L738.5,1086.1 L739.5,1090.4 L740.5,1095.5 L741.0,1097.7 L741.5,1100.6 L742.5,1106.9 L743.5,1113.0 L743.8,1114.7 L744.5,1118.4 L745.5,1123.3 L746.5,1127.2 L747.5,1129.4 L748.5,1128.8 L749.5,1128.0 L750.5,1126.7 L751.5,1125.7 L752.5,1124.9 L753.5,1123.5 L754.5,1122.0 L755.5,1120.6 L756.0,1119.8 L756.5,1118.4 L757.5,1115.3 L758.5,1111.4 L759.5,1106.8 L760.0,1104.6 L760.5,1102.6 L761.5,1098.2 L762.5,1093.9 L763.5,1090.5 L764.5,1087.2 L765.5,1084.2 L766.5,1086.7 L767.5,1090.8 L768.5,1095.2 L769.0,1097.7 L769.5,1100.8 L770.5,1105.7 L771.5,1110.1 L772.5,1114.5 L773.5,1117.6 L774.5,1120.1 L775.5,1122.3 L776.5,1124.5 L777.5,1126.3 L778.5,1128.0 L779.5,1130.1 L780.0,1130.8 L780.5,1130.9 L781.5,1131.8 L782.5,1132.8 L783.5,1133.7 L784.5,1134.5 L785.5,1135.3 L786.5,1135.8 L787.5,1135.9 L788.5,1135.5 L789.5,1135.2 L790.5,1135.4 L791.5,1136.3 L792.5,1136.5 L793.5,1135.7 L794.5,1135.3 L795.5,1135.7 L796.5,1135.7 L797.5,1135.5 L798.5,1135.2 L799.5,1135.0 L800.5,1135.2 L801.5,1135.7 L802.5,1135.8 L803.5,1135.3 L804.5,1135.1 L805.5,1135.3 L806.5,1135.4 L807.5,1135.1 L808.5,1134.7 L809.5,1134.9 L810.5,1134.9 L811.5,1134.3 L812.5,1134.1 L813.5,1134.2 L814.5,1134.2 L815.5,1133.8 L816.5,1133.2 L817.5,1132.5 L818.5,1131.9 L819.5,1131.3 L820.5,1130.8 L821.5,1130.5 L822.5,1130.2 L823.5,1129.8 L824.5,1129.1 L825.0,1128.7 L825.5,1128.7 L826.5,1128.2 L827.5,1127.3 L828.5,1126.3 L829.5,1125.6 L830.0,1125.0 L830.5,1124.5 L831.5,1123.6 L832.5,1122.4 L833.5,1121.0 L834.5,1119.6 L835.5,1118.1 L836.5,1116.7 L837.5,1115.8 L838.5,1117.3 L839.5,1119.3 L840.5,1121.2 L841.0,1122.0 L841.5,1122.6 L842.5,1124.7 L843.5,1127.1 L844.5,1128.9 L845.0,1129.1 L845.5,1129.0 L846.5,1128.3 L847.5,1126.9 L848.5,1125.6 L849.5,1124.5 L850.5,1123.6 L851.5,1122.3 L852.5,1120.7 L853.5,1119.0 L854.5,1117.8 L855.5,1116.4 L856.5,1114.6 L857.5,1113.0 L858.5,1111.8 L859.5,1110.7 L860.5,1112.5 L861.5,1115.0 L862.5,1117.6 L863.5,1120.3 L864.5,1123.0 L865.0,1124.0 L865.5,1124.4 L866.5,1125.2 L867.5,1125.8 L868.5,1126.2 L869.5,1126.9 L870.0,1127.7 L870.5,1128.3 L871.5,1128.9 L872.5,1129.4 L873.5,1130.3 L874.5,1131.2 L875.5,1131.7 L876.5,1132.5 L877.5,1133.4 L878.5,1133.8 L879.5,1133.9 L880.0,1134.0 L880.5,1134.0 L881.5,1134.0 L882.5,1134.2 L883.5,1134.0 L884.5,1133.6 L885.5,1133.5 L886.5,1133.4 L887.5,1133.3 L888.5,1133.4 L889.5,1133.4 L890.5,1133.3 L891.5,1133.4 L892.5,1133.5 L893.5,1132.6 L894.5,1131.8 L895.5,1131.1 L896.5,1129.9 L897.5,1128.4 L898.5,1127.4 L899.5,1126.6 L900.5,1125.5 L901.5,1124.0 L902.5,1122.6 L903.5,1119.7 L904.5,1116.5 L905.5,1113.3 L906.5,1110.0 L907.5,1106.4 L908.5,1102.4 L909.0,1099.9 L909.5,1096.5 L910.5,1089.4 L911.5,1081.9 L912.5,1074.9 L913.5,1070.3 L914.5,1065.7 L915.5,1061.2 L916.5,1057.5 L917.0,1056.0 L917.5,1058.3 L918.5,1066.0 L919.5,1075.6 L920.5,1084.3 L921.0,1087.4 L921.5,1088.9 L922.5,1091.0 L923.5,1092.5 L924.5,1093.8 L925.5,1095.4 L926.5,1097.8 L927.5,1100.4 L928.5,1105.4 L929.5,1111.6 L930.5,1117.7 L931.0,1120.2 L931.5,1121.3 L932.5,1123.1 L933.5,1124.8 L934.5,1126.9 L935.5,1129.0 L936.5,1130.2 L937.5,1131.1 L938.5,1130.5 L939.5,1130.1 L940.5,1130.3 L941.5,1130.2 L942.5,1129.7 L943.5,1129.4 L944.5,1129.2 L945.5,1128.8 L946.5,1128.5 L947.5,1127.9 L948.5,1127.1 L949.5,1127.0 L950.5,1126.7 L951.5,1126.3 L952.5,1126.0 L953.5,1125.7 L954.5,1125.4 L955.0,1125.4 L955.5,1124.6 L956.5,1123.2 L957.5,1122.4 L958.5,1121.8 L959.5,1120.5 L960.5,1119.2 L961.5,1118.2 L962.5,1117.2 L963.5,1116.0 L964.5,1114.7 L965.0,1113.8 L965.5,1113.1 L966.5,1111.9 L967.5,1110.3 L968.5,1108.7 L969.5,1107.2 L970.5,1105.8 L971.0,1105.4 L971.5,1103.6 L972.5,1098.2 L973.5,1091.6 L974.5,1084.7 L975.5,1078.2 L976.0,1075.1 L976.5,1071.9 L977.5,1064.7 L978.5,1057.7 L979.5,1051.8 L980.5,1047.2 L981.0,1045.5 L981.5,1047.3 L982.5,1051.6 L983.5,1055.9 L984.0,1057.7 L984.5,1059.2 L985.5,1062.1 L986.5,1064.8 L987.5,1067.5 L988.5,1069.9 L989.5,1071.9 L990.5,1073.9 L991.0,1075.0 L991.5,1078.6 L992.5,1088.3 L993.5,1099.2 L994.5,1108.9 L995.0,1112.5 L995.5,1114.0 L996.5,1117.5 L997.5,1120.6 L998.5,1122.5 L999.5,1124.1 L1000.0,1125.1 L1000.5,1124.8 L1001.5,1124.4 L1002.5,1125.0 L1003.5,1125.7 L1004.5,1125.9 L1005.5,1126.1 L1006.5,1126.1 L1007.5,1125.7 L1008.5,1125.3 L1009.5,1125.4 L1010.0,1126.0 L1010.5,1126.1 L1011.5,1125.7 L1012.5,1125.8 L1013.5,1125.8 L1014.5,1125.3 L1015.5,1125.2 L1016.5,1125.7 L1017.5,1126.0 L1018.5,1125.6 L1019.5,1125.3 L1020.5,1125.5 L1021.5,1125.7 L1022.5,1126.0 L1023.5,1126.1 L1024.5,1126.1 L1025.5,1126.1 L1026.5,1126.0 L1027.5,1126.3 L1028.5,1126.5 L1029.5,1126.4 L1030.5,1126.3 L1031.5,1126.1 L1032.5,1126.2 L1033.5,1126.1 L1034.5,1125.8 L1035.5,1125.8 L1036.5,1125.8 L1037.5,1125.8 L1038.5,1126.1 L1039.5,1126.2 L1040.5,1126.1 L1041.5,1125.8 L1042.5,1125.6 L1043.5,1126.0 L1044.5,1126.4 L1045.0,1126.4 L1045.5,1126.1 L1046.5,1125.4 L1047.5,1125.0 L1048.5,1124.7 L1049.5,1124.1 L1050.5,1123.8 L1051.5,1123.7 L1052.5,1123.4 L1053.5,1122.9 L1054.5,1122.2 L1055.5,1121.6 L1056.5,1121.2 L1057.5,1120.8 L1058.5,1120.3 L1059.5,1120.0 L1060.5,1119.5 L1061.5,1119.1 L1062.5,1119.0 L1063.5,1118.8 L1064.5,1118.3 L1065.0,1118.2 L1065.5,1118.3 L1066.5,1118.9 L1067.5,1119.6 L1068.5,1119.7 L1069.5,1120.1 L1070.5,1120.9 L1071.5,1121.8 L1072.5,1122.9 L1073.5,1123.0 L1074.5,1122.1 L1075.5,1121.2 L1076.5,1120.1 L1077.5,1118.7 L1078.5,1117.8 L1079.5,1116.9 L1080.5,1115.4 L1081.5,1114.0 L1082.5,1112.5 L1083.5,1109.2 L1084.5,1105.9 L1085.5,1102.7 L1086.5,1098.7 L1087.5,1094.1 L1088.5,1089.6 L1089.0,1087.4 L1089.5,1084.1 L1090.5,1076.4 L1091.5,1068.1 L1092.5,1059.9 L1093.5,1052.2 L1094.5,1044.9 L1095.5,1039.1 L1096.0,1037.2 L1096.5,1039.1 L1097.5,1044.5 L1098.5,1051.5 L1099.5,1059.3 L1100.5,1066.5 L1101.0,1069.6 L1101.5,1072.7 L1102.5,1079.5 L1103.5,1086.0 L1104.5,1091.5 L1105.5,1096.6 L1106.5,1101.1 L1107.0,1102.7 L1107.5,1101.1 L1108.5,1098.0 L1109.5,1094.5 L1110.5,1090.1 L1111.5,1085.2 L1112.5,1080.5 L1113.5,1076.3 L1114.0,1074.8 L1114.5,1073.9 L1115.5,1071.2 L1116.5,1068.3 L1117.5,1065.8 L1118.5,1063.4 L1119.5,1061.1 L1120.0,1060.1 L1120.5,1059.2 L1121.5,1057.4 L1122.5,1055.8 L1123.5,1054.4 L1124.5,1052.7 L1125.0,1052.0 L1125.5,1051.4 L1126.5,1049.3 L1127.5,1047.2 L1128.5,1045.8 L1129.0,1045.0 L1129.5,1048.3 L1130.5,1059.8 L1131.5,1072.5 L1132.5,1082.2 L1133.5,1085.8 L1134.5,1089.0 L1135.5,1090.3 L1136.5,1088.5 L1137.5,1086.9 L1138.5,1085.1 L1139.5,1082.8 L1140.5,1081.2 L1141.0,1081.2 L1141.5,1082.9 L1142.5,1087.1 L1143.5,1092.5 L1144.5,1098.0 L1145.5,1102.9 L1146.0,1105.2 L1146.5,1105.8 L1147.5,1106.8 L1148.5,1108.3 L1149.5,1109.6 L1150.5,1110.4 L1151.0,1111.0 L1151.5,1111.5 L1152.5,1112.2 L1153.5,1113.0 L1154.5,1114.0 L1155.5,1114.9 L1156.5,1115.7 L1157.5,1116.5 L1158.5,1117.3 L1159.5,1118.1 L1160.5,1118.6 L1161.0,1118.8 L1161.5,1118.8 L1162.5,1117.8 L1163.5,1115.6 L1164.5,1113.0 L1165.5,1111.1 L1166.0,1110.2 L1166.5,1108.9 L1167.5,1106.4 L1168.5,1104.2 L1169.5,1102.2 L1170.5,1100.3 L1171.0,1099.4 L1171.5,1099.8 L1172.5,1101.9 L1173.5,1104.8 L1174.5,1107.3 L1175.0,1107.9 L1175.5,1108.8 L1176.5,1111.0 L1177.5,1113.1 L1178.5,1115.0 L1179.0,1115.5 L1179.5,1114.8 L1180.5,1114.2 L1181.5,1113.7 L1182.5,1112.8 L1183.5,1111.5 L1184.5,1110.4 L1185.5,1109.9 L1186.5,1111.2 L1187.5,1112.7 L1188.5,1114.7 L1189.5,1117.0 L1190.0,1118.1 L1190.5,1118.8 L1191.5,1120.9 L1192.5,1122.8 L1193.5,1124.1 L1194.5,1125.4 L1195.0,1126.1 L1195.5,1126.1 L1196.5,1125.6 L1197.5,1124.6 L1198.5,1124.1 L1199.5,1124.1 L1200.5,1123.5 L1201.5,1122.8 L1202.5,1122.3 L1203.5,1121.5 L1204.5,1120.4 L1205.0,1120.0 L1205.5,1119.2 L1206.5,1117.6 L1207.5,1115.5 L1208.5,1112.9 L1209.5,1110.6 L1210.5,1108.3 L1211.5,1106.0 L1212.0,1104.8 L1212.5,1103.5 L1213.5,1101.3 L1214.5,1099.4 L1215.5,1097.3 L1216.5,1095.0 L1217.5,1093.8 L1218.5,1096.6 L1219.5,1099.6 L1220.5,1102.7 L1221.5,1106.1 L1222.5,1109.7 L1223.5,1112.7 L1224.0,1114.0 L1224.5,1114.7 L1225.5,1115.4 L1226.5,1115.8 L1227.5,1116.2 L1228.5,1116.6 L1229.5,1117.4 L1230.5,1118.1 L1231.5,1118.6 L1232.5,1119.0 L1233.5,1119.4 L1234.0,1119.8 L1234.5,1119.6 L1235.5,1118.4 L1236.5,1117.2 L1237.5,1116.5 L1238.5,1115.5 L1239.5,1113.9 L1240.5,1112.3 L1241.5,1110.9 L1242.5,1109.4 L1243.5,1107.6 L1244.5,1105.7 L1245.0,1104.9 L1245.5,1103.6 L1246.5,1099.6 L1247.5,1094.8 L1248.5,1089.7 L1249.5,1084.6 L1250.0,1082.5 L1250.5,1080.6 L1251.5,1076.3 L1252.5,1071.9 L1253.5,1067.9 L1254.5,1064.6 L1255.5,1062.0 L1256.0,1061.2 L1256.5,1062.0 L1257.5,1063.7 L1258.5,1066.0 L1259.5,1068.4 L1260.5,1070.4 L1261.0,1071.2 L1261.5,1070.8 L1262.5,1069.8 L1263.5,1068.6 L1264.5,1067.7 L1265.5,1067.0 L1266.0,1066.8 L1266.5,1068.7 L1267.5,1074.6 L1268.5,1082.0 L1269.5,1089.6 L1270.5,1096.7 L1271.0,1100.2 L1271.5,1103.3 L1272.5,1108.7 L1273.5,1113.5 L1274.5,1117.9 L1275.5,1121.1 L1276.0,1122.4 L1276.5,1122.2 L1277.5,1121.3 L1278.5,1120.0 L1279.5,1118.8 L1280.5,1117.8 L1281.5,1116.3 L1282.5,1114.7 L1283.5,1114.0 L1284.5,1113.5 L1285.0,1113.0 L1285.5,1113.1 L1286.5,1114.1 L1287.5,1115.6 L1288.5,1116.9 L1289.5,1118.3 L1290.5,1120.4 L1291.0,1121.5 L1291.5,1121.6 L1292.5,1122.7 L1293.5,1124.5 L1294.5,1126.2 L1295.5,1127.5 L1296.5,1127.9 L1297.5,1128.4 L1298.5,1127.5 L1299.5,1126.3 L1300.5,1124.5 L1301.5,1122.1 L1302.5,1119.2 L1303.5,1116.6 L1304.5,1114.5 L1305.5,1112.3 L1306.5,1109.8 L1307.5,1107.3 L1308.5,1105.4 L1309.5,1103.9 L1310.5,1102.4 L1311.5,1100.6 L1312.5,1098.5 L1313.5,1096.5 L1314.5,1094.5 L1315.0,1093.6 L1315.5,1093.2 L1316.5,1092.4 L1317.5,1091.7 L1318.5,1091.1 L1319.5,1090.3 L1320.0,1089.9 L1320.5,1088.7 L1321.5,1085.1 L1322.5,1080.9 L1323.5,1076.5 L1324.5,1071.9 L1325.5,1067.7 L1326.5,1064.5 L1327.0,1063.6 L1327.5,1065.3 L1328.5,1070.6 L1329.5,1077.8 L1330.5,1085.8 L1331.5,1093.3 L1332.5,1099.8 L1333.5,1106.6 L1334.5,1114.3 L1335.5,1120.7 L1336.0,1122.7 L1336.5,1122.4 L1337.5,1122.3 L1338.5,1122.2 L1339.5,1121.7 L1340.5,1121.5 L1341.5,1121.1 L1342.5,1120.4 L1343.5,1120.1 L1344.5,1119.8 L1345.0,1119.4 L1345.5,1119.5 L1346.5,1120.4 L1347.5,1121.9 L1348.5,1123.2 L1349.5,1124.4 L1350.5,1125.5 L1351.5,1126.7 L1352.5,1127.6 L1353.5,1128.1 L1354.0,1128.4 L1354.5,1128.6 L1355.5,1127.7 L1356.5,1126.4 L1357.5,1125.3 L1358.5,1124.3 L1359.5,1122.8 L1360.5,1120.8 L1361.5,1119.5 L1362.5,1118.2 L1363.5,1116.5 L1364.5,1114.7 L1365.0,1113.7 L1365.5,1113.5 L1366.5,1112.2 L1367.5,1110.7 L1368.5,1110.0 L1369.5,1109.3 L1370.5,1108.2 L1371.5,1107.1 L1372.5,1105.7 L1373.5,1104.6 L1374.5,1104.0 L1375.0,1104.0 L1375.5,1104.9 L1376.5,1107.3 L1377.5,1110.7 L1378.5,1114.6 L1379.5,1118.5 L1380.5,1122.1 L1381.0,1123.2 L1381.5,1123.2 L1382.5,1124.4 L1383.5,1125.8 L1384.5,1127.2 L1385.5,1128.5 L1386.0,1128.7 L1386.5,1128.5 L1387.5,1128.5 L1388.5,1128.4 L1389.5,1127.9 L1390.5,1127.5 L1391.5,1127.3 L1392.5,1127.0 L1393.5,1126.6 L1394.5,1126.2 L1395.0,1125.9 L1395.5,1125.9 L1396.5,1126.1 L1397.5,1126.5 L1398.5,1126.5 L1399.5,1126.5 L1400.5,1126.7 L1401.5,1126.8 L1402.5,1127.1 L1403.5,1127.2 L1404.5,1126.9 L1405.5,1126.9 L1406.5,1127.2 L1407.5,1127.3 L1408.5,1126.0 L1409.5,1124.2 L1410.5,1121.8 L1411.5,1119.3 L1412.5,1116.5 L1413.5,1113.5 L1414.0,1112.2 L1414.5,1109.7 L1415.5,1104.4 L1416.5,1099.3 L1417.5,1094.4 L1418.0,1092.1 L1418.5,1089.9 L1419.5,1085.6 L1420.5,1081.3 L1421.5,1077.8 L1422.0,1076.5 L1422.5,1077.9 L1423.5,1082.6 L1424.5,1089.2 L1425.5,1096.5 L1426.5,1103.5 L1427.5,1109.7 L1428.5,1116.0 L1429.5,1122.8 L1430.5,1128.2 L1431.0,1129.7 L1431.5,1130.2 L1432.5,1130.9 L1433.5,1131.3 L1434.5,1131.8 L1435.5,1132.0 L1436.5,1131.8 L1437.5,1132.2 L1438.5,1132.8 L1439.5,1133.4 L1440.0,1133.2 L1440.5,1132.7 L1441.5,1133.0 L1442.5,1133.6 L1443.5,1134.0 L1444.5,1133.9 L1445.5,1133.5 L1446.5,1133.3 L1447.5,1133.5 L1448.5,1133.7 L1449.5,1133.8 L1450.5,1134.2 L1451.5,1134.4 L1452.5,1134.0 L1453.5,1132.8 L1454.5,1132.1 L1455.5,1131.3 L1456.5,1129.9 L1457.5,1128.7 L1458.5,1127.6 L1459.5,1126.5 L1460.5,1125.1 L1461.5,1123.7 L1462.5,1122.4 L1463.5,1121.4 L1464.5,1120.5 L1465.5,1119.5 L1466.5,1118.5 L1467.5,1117.4 L1468.5,1116.2 L1469.5,1115.6 L1470.5,1115.0 L1471.5,1114.5 L1472.0,1114.3 L1472.5,1114.8 L1473.5,1115.9 L1474.5,1116.9 L1475.5,1118.5 L1476.5,1120.3 L1477.5,1121.9 L1478.5,1123.4 L1479.5,1125.0 L1480.0,1125.8 L1480.5,1126.2 L1481.5,1127.1 L1482.5,1128.2 L1483.5,1129.6 L1484.5,1130.7 L1485.5,1131.2 L1486.0,1130.8 L1486.5,1130.4 L1487.5,1130.0 L1488.5,1129.3 L1489.5,1128.6 L1490.5,1127.8 L1491.5,1127.1 L1492.5,1126.5 L1493.5,1126.2 L1494.5,1126.1 L1495.5,1126.1 L1496.5,1126.3 L1497.5,1127.0 L1498.5,1127.7 L1499.5,1128.4 L1500.5,1129.2 L1501.5,1130.3 L1502.5,1131.6 L1503.5,1132.3 L1504.5,1133.0 L1505.5,1133.9 L1506.5,1135.0 L1507.5,1135.9 L1508.5,1136.0 L1509.5,1136.4 L1510.0,1136.8 L1510.5,1136.5 L1511.5,1136.4 L1512.5,1136.3 L1513.5,1135.7 L1514.5,1134.8 L1515.5,1134.1 L1516.5,1133.4 L1517.5,1132.9 L1518.5,1132.6 L1519.5,1132.3 L1520.5,1131.5 L1521.5,1130.4 L1522.5,1129.7 L1523.5,1129.2 L1524.5,1128.4 L1525.5,1128.1 L1526.5,1127.8 L1527.0,1127.5 L1527.5,1127.8 L1528.5,1128.3 L1529.5,1128.6 L1530.5,1129.2 L1531.5,1130.1 L1532.5,1130.9 L1533.5,1131.7 L1534.5,1132.8 L1535.5,1133.6 L1536.5,1134.2 L1537.5,1135.0 L1538.5,1135.6 L1539.5,1136.4 L1540.5,1137.3 L1541.5,1137.8 L1542.5,1138.1 L1543.5,1137.9 L1544.5,1137.6 L1545.5,1137.3 L1546.5,1136.9 L1547.5,1136.4 L1548.5,1136.0 L1549.5,1135.5 L1550.5,1135.2 L1551.5,1134.8 L1552.5,1134.6 L1553.5,1134.5 L1554.5,1133.8 L1555.5,1133.1 L1556.5,1132.7 L1557.5,1132.3 L1558.5,1131.8 L1559.5,1131.6 L1560.0,1131.9 L1560.5,1132.0 L1561.5,1132.1 L1562.5,1132.7 L1563.5,1133.6 L1564.5,1134.0 L1565.5,1134.6 L1566.5,1135.3 L1567.5,1135.8 L1568.5,1136.7 L1569.5,1137.2 L1570.5,1137.0 L1571.0,1137.3 L1571.5,1137.5 L1572.5,1137.1 L1573.5,1136.6 L1574.5,1136.0 L1575.5,1135.6 L1576.5,1135.4 L1577.5,1135.1 L1578.5,1134.3 L1579.5,1133.6 L1580.5,1133.2 L1581.5,1132.8 L1582.5,1132.3 L1583.5,1131.7 L1584.5,1131.0 L1585.5,1130.0 L1586.5,1129.3 L1587.5,1129.7 L1588.5,1129.5 L1589.5,1128.6 L1590.5,1128.2 L1591.5,1128.3 L1592.5,1128.3 L1593.5,1128.9 L1594.5,1129.5 L1595.5,1130.1 L1596.5,1130.9 L1597.5,1131.8 L1598.5,1132.8 L1599.5,1133.9 L1600.5,1134.9 L1601.5,1135.6 L1602.5,1136.1 L1603.5,1136.3 L1604.5,1136.5 L1605.5,1136.5 L1606.5,1136.4 L1607.5,1136.9 L1608.5,1137.7 L1609.5,1138.0 L1610.5,1138.0 L1611.5,1138.2 L1612.5,1138.9 L1613.5,1139.1 L1614.5,1139.0 L1615.0,1139.1 L1615.5,1139.3 L1616.5,1139.4 L1617.5,1139.0 L1618.5,1138.6 L1619.5,1138.9 L1620.5,1139.3 L1621.5,1139.2 L1622.5,1139.0 L1623.5,1139.1 L1624.5,1139.1 L1625.5,1138.9 L1626.5,1138.5 L1627.0,1138.6 L1627.5,1138.9 L1628.5,1138.7 L1629.5,1138.7 L1630.5,1138.6 L1631.5,1138.0 L1632.5,1137.4 L1633.5,1136.9 L1634.5,1136.5 L1635.5,1136.1 L1636.5,1135.3 L1637.5,1135.1 L1638.5,1135.4 L1639.5,1135.4 L1640.0,1135.2 L1640.5,1135.1 L1641.5,1134.9 L1642.5,1134.9 L1643.5,1134.6 L1644.5,1134.3 L1645.5,1134.3 L1646.5,1134.1 L1647.5,1134.3 L1648.5,1134.7 L1649.5,1134.5 L1650.5,1134.2 L1651.5,1133.9 L1652.5,1133.7 L1653.5,1133.6 L1654.5,1133.4 L1655.5,1133.0 L1656.5,1132.8 L1657.5,1132.7 L1658.5,1132.1 L1659.5,1131.9 L1660.5,1131.7 L1661.5,1131.0 L1662.5,1130.2 L1663.5,1129.8 L1664.5,1129.5 L1665.5,1129.1 L1666.5,1128.7 L1667.5,1128.6 L1668.5,1128.5 L1669.0,1127.8 L1669.5,1127.6 L1670.5,1128.6 L1671.5,1129.7 L1672.5,1130.5 L1673.5,1131.6 L1674.5,1133.0 L1675.5,1134.2 L1676.5,1135.0 L1677.5,1135.9 L1678.5,1137.0 L1679.5,1137.9 L1680.0,1138.2 L1680.5,1137.8 L1681.5,1137.5 L1682.5,1137.5 L1683.5,1137.5 L1684.5,1137.4 L1685.5,1137.2 L1686.5,1137.2 L1687.5,1137.1 L1688.5,1137.0 L1689.5,1136.7 L1690.5,1136.5 L1691.5,1136.5 L1692.5,1136.4 L1693.5,1136.3 L1694.5,1135.9 L1695.5,1135.5 L1696.5,1135.8 L1697.5,1136.2 L1698.5,1136.0 L1699.5,1135.8 L1700.5,1135.6 L1701.5,1135.1 L1702.5,1134.9 L1703.5,1135.3 L1704.5,1135.5 L1705.5,1135.3 L1706.0,1135.2 L1706.5,1135.2 L1707.5,1135.3 L1708.5,1135.5 L1709.5,1135.8 L1710.5,1136.0 L1711.5,1136.1 L1712.5,1136.6 L1713.5,1137.2 L1714.5,1137.2 L1715.5,1137.2 L1716.5,1137.6 L1717.5,1138.1 L1718.5,1139.0 L1719.5,1139.4 L1720.0,1139.1 L1720.5,1138.7 L1721.5,1138.4 L1722.5,1138.4 L1723.5,1138.3 L1724.5,1138.0 L1725.5,1137.9 L1726.5,1137.9 L1727.5,1137.5 L1728.5,1136.6 L1729.5,1136.1 L1730.5,1136.2 L1731.5,1136.1 L1732.5,1136.2 L1733.5,1136.2 L1734.5,1135.7 L1735.5,1134.9 L1736.5,1134.5 L1737.5,1134.0 L1738.5,1133.1 L1739.5,1132.4 L1740.5,1132.0 L1741.5,1131.3 L1742.5,1130.5 L1743.5,1130.1 L1744.5,1129.9 L1745.0,1129.9 L1745.5,1130.1 L1746.5,1130.4 L1747.5,1130.9 L1748.5,1131.0 L1749.5,1130.9 L1750.5,1131.2 L1751.5,1131.7 L1752.5,1132.1 L1753.5,1132.4 L1754.5,1132.6 L1755.5,1132.9 L1756.5,1133.1 L1757.5,1133.6 L1758.5,1134.0 L1759.5,1134.3 L1760.5,1134.5 L1761.5,1134.8 L1762.5,1135.1 L1763.5,1135.4 L1764.5,1135.9 L1765.0,1136.2 L1765.5,1136.2 L1766.5,1136.6 L1767.5,1137.2 L1768.5,1137.1 L1769.5,1136.9 L1770.5,1137.3 L1771.5,1137.7 L1772.5,1137.9 L1773.5,1138.0 L1774.5,1138.1 L1775.5,1138.2 L1776.5,1138.6 L1777.5,1138.8 L1778.5,1138.7 L1779.5,1138.7 L1780.0,1138.8 L1780.5,1138.6 L1781.5,1138.6 L1782.5,1138.7 L1783.5,1138.6 L1784.5,1138.7 L1785.5,1138.6 L1786.5,1138.4 L1787.5,1138.6 L1788.5,1138.6 L1789.5,1138.4 L1790.5,1138.4 L1791.5,1138.6 L1792.5,1138.5 L1793.5,1138.1 L1794.5,1137.7 L1795.5,1137.6 L1796.5,1137.7 L1797.5,1138.0 L1798.5,1138.0 L1799.5,1138.0 L1800.5,1138.0 L1801.5,1137.6 L1802.5,1137.3 L1803.5,1137.5 L1804.5,1137.5 L1805.5,1137.1 L1806.5,1137.1 L1807.5,1137.3 L1808.5,1137.5 L1809.5,1137.8 L1810.5,1137.7 L1811.5,1137.1 L1812.5,1136.8 L1813.5,1136.8 L1814.5,1136.7 L1815.5,1136.7 L1816.5,1136.6 L1817.5,1136.5 L1818.5,1136.8 L1819.5,1137.0 L1820.5,1136.9 L1821.5,1136.3 L1822.5,1136.0 L1823.5,1136.4 L1824.5,1136.6 L1825.5,1136.2 L1826.5,1136.0 L1827.5,1136.1 L1828.5,1136.0 L1829.5,1136.0 L1830.0,1135.7 L1830.5,1135.7 L1831.5,1135.9 L1832.5,1136.1 L1833.5,1136.5 L1834.5,1136.9 L1835.5,1137.1 L1836.5,1137.5 L1837.5,1137.9 L1838.5,1138.3 L1839.5,1138.6 L1840.5,1138.7 L1841.5,1138.7 L1842.5,1138.9 L1843.5,1139.2 L1844.5,1139.9 L1845.5,1140.6 L1846.5,1140.6 L1847.5,1140.4 L1848.5,1140.5 L1849.5,1140.5 L1850.5,1140.3 L1851.5,1140.4 L1852.5,1140.4 L1853.5,1140.0 L1854.5,1139.9 L1855.5,1139.8 L1856.5,1139.6 L1857.5,1139.6 L1858.5,1139.5 L1859.5,1139.2 L1860.5,1139.1 L1861.5,1139.3 L1862.5,1139.4 L1863.5,1139.1 L1864.5,1138.8 L1865.5,1138.8 L1866.5,1138.8 L1867.5,1138.8 L1868.5,1138.7 L1869.5,1138.2 L1870.5,1138.0 L1871.5,1137.8 L1872.5,1138.0 L1873.5,1138.4 L1874.5,1138.1 L1875.5,1137.5 L1876.5,1137.6 L1877.5,1137.8 L1878.5,1138.0 L1879.5,1138.0 L1880.5,1137.9 L1881.5,1138.1 L1882.5,1138.3 L1883.5,1138.3 L1884.5,1138.3 L1885.5,1138.5 L1886.5,1138.6 L1887.5,1138.6 L1888.5,1138.7 L1889.5,1138.9 L1890.5,1139.0 L1891.5,1138.9 L1892.5,1138.7 L1893.5,1138.6 L1894.5,1138.7 L1895.5,1138.8 L1896.5,1138.8 L1897.5,1138.8 L1898.5,1138.7 L1899.5,1138.4 L1900.5,1138.5 L1901.5,1138.5 L1902.5,1138.4 L1903.5,1138.6 L1904.5,1138.8 L1905.5,1139.0 L1906.5,1139.0 L1907.5,1138.6 L1908.5,1138.2 L1909.5,1138.2 L1910.5,1138.5 L1911.5,1138.7 L1912.5,1138.3 L1913.5,1138.0 L1914.5,1138.0 L1915.5,1138.0 L1916.5,1137.8 L1917.5,1137.3 L1918.5,1137.0 L1919.5,1137.4 L1920.5,1137.9 L1921.5,1137.5 L1922.5,1137.0 L1923.5,1137.0 L1924.5,1137.2 L1925.5,1137.6 L1926.5,1137.4 L1927.5,1137.0 L1928.5,1137.1 L1929.5,1137.0 L1930.0,1137.0 L1930.5,1136.9 L1931.5,1136.6 L1932.5,1136.4 L1933.5,1136.3 L1934.5,1136.3 L1935.5,1136.0 L1936.5,1135.2 L1937.5,1135.0 L1938.5,1135.5 L1939.5,1135.3 L1940.5,1134.8 L1941.5,1134.7 L1942.5,1134.5 L1943.5,1134.0 L1944.5,1133.8 L1945.5,1133.8 L1946.5,1134.0 L1946.7,1133.6 L1947.5,1133.5 L1948.5,1134.3 L1949.5,1134.4 L1950.5,1134.1 L1951.5,1134.2 L1952.5,1134.5 L1953.5,1135.0 L1954.5,1135.5 L1955.5,1135.7 L1956.5,1135.8 L1957.5,1136.2 L1958.5,1136.8 L1959.5,1137.4 L1960.5,1137.8 L1961.5,1137.8 L1962.5,1138.1 L1963.5,1138.3 L1964.5,1138.6 L1965.5,1139.1 L1966.5,1139.2 L1967.5,1139.1 L1968.5,1139.4 L1969.0,1139.7 L1969.5,1139.6 L1970.5,1140.0 L1971.5,1140.1 L1972.5,1140.0 L1973.5,1140.4 L1974.5,1140.6 L1975.5,1140.4 L1976.5,1140.4 L1977.5,1140.8 L1978.5,1140.7 L1979.5,1140.2 L1980.5,1140.1 L1981.5,1140.2 L1982.5,1140.1 L1983.5,1140.1 L1984.5,1140.5 L1985.5,1140.7 L1986.5,1140.8 L1987.5,1140.9 L1988.5,1140.7 L1989.5,1140.7 L1990.5,1140.8 L1991.5,1140.7 L1992.5,1140.8 L1993.5,1141.0 L1994.5,1141.1 L1995.5,1141.1 L1996.5,1140.9 L1997.5,1140.7 L1998.5,1140.6 L1999.0,1140.7 L1999.5,1141.0 L2000.5,1141.3 L2001.5,1141.3 L2002.5,1141.2 L2003.5,1141.4 L2004.5,1141.3 L2005.5,1140.8 L2006.5,1140.1 L2007.5,1139.8 L2008.5,1139.9 L2009.5,1139.9 L2010.5,1139.7 L2011.5,1139.4 L2012.5,1139.4 L2013.5,1139.6 L2014.5,1139.2 L2015.5,1139.0 L2016.5,1139.0 L2017.5,1138.8 L2018.5,1139.0 L2019.5,1139.1 L2020.5,1138.6 L2021.5,1138.2 L2022.5,1137.9 L2023.5,1138.0 L2024.5,1138.3 L2025.5,1138.2 L2026.5,1137.7 L2027.5,1137.7 L2028.5,1138.1 L2029.5,1138.1 L2030.5,1137.5 L2031.0,1137.2 L2031.5,1137.3 L2032.5,1137.8 L2033.5,1138.4 L2034.5,1138.7 L2035.5,1138.5 L2036.5,1138.3 L2037.5,1138.5 L2038.5,1138.8 L2039.5,1138.8 L2040.5,1139.2 L2041.5,1139.5 L2042.5,1139.4 L2043.5,1139.6 L2044.5,1140.2 L2045.5,1140.5 L2046.0,1140.2 L2046.5,1140.3 L2047.5,1140.3 L2048.5,1139.8 L2049.5,1139.3 L2050.5,1139.1 L2051.5,1139.1 L2052.5,1139.0 L2053.5,1138.7 L2054.5,1138.3 L2055.5,1137.9 L2056.5,1137.7 L2057.5,1137.8 L2058.5,1137.9 L2059.5,1137.6 L2060.5,1137.4 L2061.5,1137.5 L2062.5,1137.3 L2063.5,1136.8 L2064.5,1136.7 L2064.7,1136.9 L2065.5,1136.8 L2066.5,1136.4 L2067.5,1136.4 L2068.5,1136.4 L2069.5,1136.3 L2070.5,1136.0 L2071.5,1136.0 L2072.5,1135.8 L2073.5,1135.5 L2074.5,1135.7 L2075.5,1135.5 L2076.5,1135.3 L2077.5,1135.3 L2078.5,1134.9 L2079.5,1134.6 L2079.7,1134.9 L2080.5,1135.4 L2081.5,1135.6 L2082.5,1135.9 L2083.5,1136.4 L2084.5,1136.9 L2085.5,1137.6 L2086.5,1138.2 L2087.5,1137.7 L2088.5,1137.3 L2089.5,1137.7 L2090.5,1138.2 L2091.0,1138.5 L2091.5,1138.5 L2092.5,1138.1 L2093.5,1138.0 L2094.5,1138.1 L2095.5,1137.9 L2096.5,1137.6 L2097.5,1138.0 L2098.5,1138.1 L2099.5,1137.9 L2100.5,1137.7 L2101.5,1137.4 L2102.5,1137.5 L2103.5,1137.8 L2104.5,1137.8 L2105.5,1137.5 L2106.5,1137.0 L2107.5,1137.0 L2108.5,1137.3 L2109.5,1137.2 L2110.5,1136.5 L2111.5,1136.1 L2112.5,1136.1 L2113.5,1136.5 L2114.5,1137.1 L2115.5,1137.3 L2116.5,1137.1 L2117.5,1137.6 L2118.5,1138.3 L2119.5,1138.1 L2120.5,1137.5 L2121.0,1137.3 L2121.5,1137.1 L2122.5,1136.9 L2123.5,1137.4 L2124.5,1137.9 L2125.5,1137.5 L2126.5,1136.7 L2127.5,1136.2 L2128.5,1136.1 L2129.5,1135.7 L2130.5,1134.8 L2131.5,1134.6 L2132.5,1135.0 L2133.5,1134.9 L2134.5,1134.7 L2135.5,1134.4 L2136.5,1134.1 L2137.5,1133.7 L2137.7,1133.9 L2138.5,1134.2 L2139.5,1134.1 L2140.5,1133.9 L2141.5,1133.9 L2142.5,1133.7 L2143.5,1133.6 L2144.5,1134.2 L2145.5,1134.7 L2146.5,1134.5 L2147.5,1134.3 L2148.5,1134.7 L2149.5,1134.8 L2150.5,1134.4 L2151.5,1134.3 L2152.5,1135.0 L2152.7,1135.4 L2153.5,1135.2 L2154.5,1134.9 L2155.5,1135.3 L2156.5,1136.3 L2157.5,1136.9 L2158.5,1137.1 L2159.5,1137.3 L2160.5,1137.6 L2161.5,1137.8 L2162.5,1138.0 L2163.5,1138.3 L2164.5,1138.7 L2165.5,1139.0 L2165.8,1139.3 L2166.5,1139.2 L2167.5,1139.1 L2168.5,1139.2 L2169.5,1139.0 L2170.5,1139.1 L2171.5,1139.5 L2172.5,1139.1 L2173.5,1138.7 L2174.5,1139.1 L2175.5,1139.6 L2176.5,1139.1 L2177.5,1138.4 L2178.5,1138.4 L2179.5,1138.7 L2180.5,1138.9 L2181.5,1139.0 L2182.5,1139.0 L2183.5,1139.1 L2184.5,1138.9 L2185.5,1138.3 L2186.5,1138.2 L2187.5,1138.4 L2188.5,1138.7 L2189.5,1138.9 L2190.0,1138.6" stroke="#008000"/>
<circle cx="319.5" cy="1144.0" r="3.35" fill="#008000" stroke="none"/>
<path d="M319.5,1321.8 L320.5,1321.1 L321.5,1320.7 L322.5,1321.3 L323.5,1321.7 L324.5,1321.5 L325.5,1321.4 L326.5,1321.8 L327.5,1322.1 L328.5,1321.6 L329.5,1321.2 L330.5,1321.4 L331.5,1321.8 L332.5,1321.7 L333.5,1321.6 L334.5,1321.8 L335.5,1321.6 L336.5,1321.2 L337.5,1321.4 L338.5,1321.5 L339.5,1321.4 L340.5,1321.3 L341.5,1321.0 L342.5,1320.8 L343.5,1320.8 L344.5,1320.9 L345.5,1320.7 L346.5,1320.6 L347.5,1320.4 L348.5,1320.4 L349.5,1320.4 L350.0,1320.4 L350.5,1320.4 L351.5,1320.2 L352.5,1319.8 L353.5,1319.5 L354.5,1319.6 L355.5,1319.4 L356.5,1319.0 L357.5,1318.9 L358.5,1318.7 L359.5,1318.4 L360.5,1318.3 L361.5,1318.4 L362.5,1318.2 L363.5,1317.3 L364.5,1316.0 L365.5,1314.8 L366.5,1314.2 L367.5,1313.3 L368.5,1312.1 L369.5,1310.8 L370.0,1310.1 L370.5,1309.4 L371.5,1308.5 L372.5,1307.2 L373.5,1305.7 L374.0,1305.1 L374.5,1304.5 L375.5,1302.9 L376.5,1301.4 L377.5,1300.4 L378.5,1303.8 L379.5,1308.2 L380.5,1314.6 L381.0,1317.5 L381.5,1318.3 L382.5,1319.6 L383.5,1320.7 L384.5,1321.6 L385.0,1322.3 L385.5,1322.5 L386.5,1322.2 L387.5,1322.2 L388.5,1322.3 L389.5,1322.0 L390.5,1321.8 L391.5,1322.0 L392.5,1322.2 L393.5,1322.2 L394.5,1322.2 L395.5,1322.3 L396.5,1322.2 L397.5,1322.3 L398.5,1322.4 L399.5,1322.3 L400.5,1322.2 L401.5,1322.2 L402.5,1322.0 L403.5,1321.9 L404.5,1322.2 L405.5,1322.3 L406.5,1322.1 L407.5,1322.1 L408.5,1321.9 L409.5,1321.7 L410.5,1322.0 L411.5,1322.1 L412.5,1321.7 L413.5,1321.4 L414.5,1321.6 L415.5,1321.9 L416.5,1322.2 L417.5,1322.0 L418.5,1321.7 L419.5,1321.6 L420.5,1321.7 L421.5,1321.5 L422.5,1321.4 L423.5,1321.5 L424.5,1321.7 L425.5,1321.8 L426.5,1321.6 L427.5,1321.4 L428.5,1321.3 L429.5,1321.5 L430.5,1321.6 L431.5,1321.5 L432.5,1321.6 L433.5,1321.5 L434.5,1321.8 L435.5,1321.9 L436.5,1321.2 L437.5,1321.2 L438.5,1321.8 L439.5,1321.7 L440.5,1321.5 L441.5,1321.4 L442.5,1321.3 L443.5,1321.7 L444.5,1321.9 L445.5,1321.6 L446.5,1321.7 L447.5,1322.1 L448.5,1322.1 L449.5,1321.7 L450.0,1321.5 L450.5,1321.3 L451.5,1321.2 L452.5,1321.3 L453.5,1321.1 L454.5,1320.8 L455.5,1320.7 L456.5,1321.1 L457.5,1321.6 L458.5,1321.7 L459.5,1321.5 L460.5,1321.5 L461.5,1321.7 L462.5,1321.7 L463.5,1321.5 L464.5,1321.7 L465.5,1321.9 L466.5,1321.6 L467.5,1321.1 L468.5,1321.1 L469.5,1321.3 L470.5,1321.7 L471.5,1321.9 L472.5,1321.7 L473.5,1321.7 L474.5,1322.0 L475.5,1321.8 L476.5,1321.5 L477.5,1321.7 L478.5,1321.6 L479.5,1321.4 L480.5,1321.3 L481.5,1321.3 L482.5,1321.0 L483.5,1320.9 L484.5,1321.3 L485.5,1321.4 L486.5,1321.2 L487.5,1321.6 L488.5,1322.0 L489.5,1321.8 L490.5,1321.6 L491.5,1321.7 L492.5,1321.4 L493.5,1321.2 L494.5,1321.2 L495.5,1321.4 L496.5,1321.6 L497.5,1321.6 L498.5,1321.3 L499.5,1321.3 L500.5,1321.4 L501.5,1321.3 L502.5,1321.3 L503.5,1321.2 L504.5,1321.2 L505.5,1321.2 L506.5,1321.2 L507.5,1321.4 L508.5,1321.3 L509.5,1321.1 L510.5,1321.1 L511.5,1321.2 L512.5,1321.3 L513.5,1321.4 L514.5,1321.3 L515.5,1321.3 L516.5,1321.7 L517.5,1321.8 L518.5,1321.6 L519.5,1321.7 L520.5,1321.5 L521.5,1321.4 L522.5,1321.7 L523.5,1322.1 L524.5,1322.1 L525.5,1321.7 L526.5,1321.5 L527.5,1321.7 L528.5,1322.0 L529.5,1321.9 L530.5,1321.8 L531.5,1321.9 L532.5,1321.8 L533.5,1321.8 L534.5,1321.7 L535.5,1321.4 L536.5,1321.6 L537.5,1321.9 L538.5,1321.7 L539.5,1321.6 L540.5,1321.6 L541.5,1321.4 L542.5,1321.2 L543.5,1321.1 L544.5,1321.2 L545.5,1321.3 L546.5,1321.4 L547.5,1321.3 L548.5,1321.1 L549.5,1321.2 L550.5,1321.2 L551.5,1321.3 L552.5,1321.5 L553.5,1321.6 L554.5,1321.3 L555.5,1321.1 L556.5,1321.1 L557.5,1321.1 L558.5,1321.2 L559.5,1321.2 L560.5,1321.0 L561.5,1320.9 L562.5,1321.2 L563.5,1321.4 L564.5,1320.9 L565.5,1320.5 L566.5,1320.4 L567.5,1320.1 L568.5,1319.5 L569.5,1318.6 L570.5,1318.4 L571.5,1318.6 L572.5,1317.7 L573.5,1316.8 L574.5,1316.4 L575.0,1316.1 L575.5,1315.3 L576.5,1314.2 L577.5,1313.1 L578.5,1311.7 L579.5,1310.1 L580.5,1308.3 L581.5,1306.2 L582.5,1304.4 L583.5,1302.8 L584.5,1300.8 L585.0,1299.9 L585.5,1298.4 L586.5,1294.1 L587.5,1289.4 L588.5,1284.4 L589.5,1278.9 L590.5,1273.0 L591.0,1270.1 L591.5,1265.7 L592.5,1255.4 L593.5,1244.0 L594.5,1232.7 L595.5,1220.9 L596.0,1214.9 L596.5,1207.9 L597.5,1191.8 L598.5,1175.3 L599.5,1161.9 L600.0,1157.4 L600.5,1163.9 L601.5,1185.9 L602.5,1210.0 L603.5,1232.5 L604.5,1254.6 L605.0,1264.9 L605.5,1273.8 L606.5,1292.3 L607.5,1307.7 L608.0,1312.8 L608.5,1313.0 L609.5,1313.5 L610.5,1313.4 L611.5,1313.1 L612.5,1313.3 L613.5,1313.7 L614.0,1314.0 L614.5,1314.5 L615.5,1315.2 L616.5,1315.7 L617.5,1316.5 L618.5,1317.4 L619.5,1317.9 L620.5,1318.6 L621.5,1319.4 L622.5,1319.9 L623.5,1319.9 L624.5,1319.8 L625.5,1319.6 L626.5,1319.2 L627.5,1319.0 L628.5,1318.8 L629.5,1318.6 L630.5,1319.0 L631.5,1319.4 L632.5,1319.1 L633.5,1319.0 L634.5,1319.1 L635.5,1319.0 L636.5,1319.2 L637.5,1319.4 L638.5,1319.1 L639.5,1318.8 L640.5,1318.7 L641.5,1318.5 L642.5,1318.3 L643.5,1318.3 L644.5,1318.1 L645.5,1317.7 L646.5,1317.7 L647.5,1317.8 L648.5,1317.5 L649.5,1317.4 L650.0,1317.4 L650.5,1317.5 L651.5,1317.6 L652.5,1317.5 L653.5,1317.0 L654.5,1316.4 L655.5,1316.3 L656.5,1316.3 L657.5,1315.8 L658.5,1315.1 L659.5,1314.8 L660.0,1314.7 L660.5,1314.9 L661.5,1314.8 L662.5,1314.5 L663.5,1314.2 L664.5,1313.7 L665.5,1313.2 L666.5,1313.2 L667.0,1313.3 L667.5,1313.3 L668.5,1313.7 L669.5,1314.5 L670.0,1315.1 L670.5,1315.3 L671.5,1316.0 L672.5,1316.8 L673.5,1317.5 L674.0,1318.0 L674.5,1318.4 L675.5,1318.5 L676.5,1318.5 L677.5,1318.3 L678.5,1317.8 L679.5,1318.0 L680.5,1318.4 L681.5,1318.2 L682.5,1317.4 L683.5,1317.1 L684.5,1317.4 L685.5,1317.2 L686.5,1317.1 L687.5,1317.1 L688.5,1316.7 L689.5,1316.4 L690.5,1316.7 L691.5,1317.0 L692.5,1317.1 L693.5,1317.0 L694.5,1316.7 L695.5,1316.4 L696.5,1316.0 L697.5,1315.8 L698.5,1316.0 L699.5,1316.3 L700.0,1316.5 L700.5,1316.4 L701.5,1315.5 L702.5,1314.7 L703.5,1314.7 L704.5,1314.4 L705.5,1313.3 L706.5,1312.6 L707.5,1312.5 L708.5,1312.0 L709.5,1311.2 L710.5,1310.4 L711.5,1309.7 L712.5,1308.8 L713.5,1308.2 L714.5,1307.7 L715.0,1307.4 L715.5,1306.2 L716.5,1304.5 L717.5,1303.1 L718.5,1301.0 L719.5,1298.5 L720.5,1296.2 L721.5,1293.8 L722.5,1291.2 L723.5,1288.8 L724.5,1286.4 L725.0,1285.1 L725.5,1282.9 L726.5,1278.6 L727.5,1274.3 L728.5,1269.6 L729.5,1264.7 L730.5,1260.5 L731.5,1257.5 L732.0,1256.6 L732.5,1258.6 L733.5,1264.5 L734.5,1271.6 L735.0,1275.0 L735.5,1278.8 L736.5,1287.0 L737.5,1294.6 L738.5,1300.1 L739.5,1305.4 L740.5,1309.6 L741.0,1311.2 L741.5,1310.9 L742.5,1310.3 L743.5,1309.1 L744.5,1307.6 L745.5,1306.6 L746.5,1305.5 L747.5,1303.8 L748.5,1302.2 L749.5,1301.0 L750.0,1300.5 L750.5,1298.5 L751.5,1293.8 L752.5,1288.6 L753.5,1283.3 L754.5,1278.1 L755.0,1275.5 L755.5,1272.9 L756.5,1268.0 L757.5,1263.3 L758.5,1259.2 L759.5,1256.5 L760.5,1261.2 L761.5,1267.9 L762.5,1274.8 L763.5,1281.8 L764.5,1288.8 L765.5,1294.6 L766.5,1298.0 L767.5,1301.6 L768.5,1304.6 L769.5,1307.2 L770.5,1309.9 L771.0,1311.0 L771.5,1312.0 L772.5,1314.2 L773.5,1315.9 L774.5,1317.4 L775.0,1318.0 L775.5,1317.6 L776.5,1317.3 L777.5,1317.3 L778.5,1317.4 L779.5,1317.1 L780.5,1316.9 L781.5,1317.3 L782.5,1317.1 L783.5,1316.8 L784.5,1316.8 L785.5,1317.0 L786.5,1317.2 L787.5,1316.9 L788.5,1316.2 L789.5,1315.8 L790.5,1315.7 L791.5,1315.7 L792.5,1315.7 L793.5,1315.7 L794.5,1315.4 L795.5,1314.9 L796.5,1315.0 L797.5,1315.5 L798.5,1315.5 L799.5,1315.1 L800.0,1314.9 L800.5,1314.9 L801.5,1314.8 L802.5,1314.7 L803.5,1314.9 L804.5,1315.0 L805.5,1314.7 L806.5,1314.5 L807.5,1314.9 L808.5,1315.1 L809.5,1314.8 L810.5,1315.1 L811.5,1315.2 L812.5,1314.7 L813.5,1314.7 L814.5,1315.1 L815.0,1315.3 L815.5,1314.9 L816.5,1314.0 L817.5,1313.2 L818.5,1312.4 L819.5,1311.3 L820.5,1310.1 L821.5,1308.7 L822.5,1307.3 L823.5,1306.4 L824.5,1305.5 L825.0,1304.6 L825.5,1303.9 L826.5,1302.9 L827.5,1301.6 L828.5,1300.3 L829.5,1298.7 L830.5,1297.0 L831.5,1295.4 L832.5,1294.1 L833.5,1296.0 L834.5,1299.3 L835.5,1302.4 L836.0,1303.5 L836.5,1304.6 L837.5,1307.3 L838.5,1309.9 L839.5,1311.6 L840.0,1311.9 L840.5,1311.6 L841.5,1310.5 L842.5,1309.1 L843.5,1307.4 L844.5,1305.7 L845.5,1304.4 L846.5,1303.1 L847.0,1302.3 L847.5,1301.4 L848.5,1299.8 L849.5,1298.1 L850.5,1295.9 L851.5,1293.7 L852.5,1292.6 L853.0,1292.7 L853.5,1293.6 L854.5,1295.7 L855.5,1298.3 L856.5,1301.0 L857.5,1303.4 L858.5,1305.6 L859.0,1306.4 L859.5,1306.8 L860.5,1307.2 L861.5,1307.8 L862.5,1308.0 L863.5,1308.1 L864.5,1308.8 L865.0,1309.1 L865.5,1309.1 L866.5,1309.8 L867.5,1310.7 L868.5,1311.4 L869.5,1312.2 L870.5,1313.1 L871.5,1313.9 L872.5,1314.4 L873.5,1314.9 L874.5,1315.6 L875.5,1316.1 L876.0,1316.1 L876.5,1315.8 L877.5,1315.6 L878.5,1315.6 L879.5,1315.7 L880.5,1315.7 L881.5,1315.7 L882.5,1315.6 L883.5,1315.5 L884.5,1315.6 L885.5,1315.8 L886.5,1315.5 L887.5,1315.0 L888.5,1314.3 L889.5,1313.3 L890.5,1312.3 L891.5,1311.1 L892.5,1309.6 L893.5,1307.9 L894.5,1306.5 L895.5,1305.6 L896.5,1304.3 L897.5,1302.5 L898.5,1299.5 L899.5,1296.1 L900.5,1292.4 L901.5,1288.3 L902.5,1284.1 L903.5,1279.5 L904.0,1276.9 L904.5,1273.8 L905.5,1265.9 L906.5,1257.3 L907.5,1249.8 L908.5,1243.0 L909.5,1236.0 L910.5,1230.4 L911.0,1228.3 L911.5,1231.0 L912.5,1240.1 L913.5,1252.1 L914.5,1264.6 L915.5,1274.5 L916.0,1277.5 L916.5,1278.5 L917.5,1280.5 L918.5,1282.0 L919.5,1283.1 L920.5,1284.9 L921.0,1286.5 L921.5,1288.1 L922.5,1291.7 L923.5,1296.3 L924.5,1301.4 L925.5,1305.9 L926.0,1307.6 L926.5,1308.0 L927.5,1309.1 L928.5,1310.6 L929.5,1311.9 L930.5,1312.7 L931.5,1313.4 L932.5,1314.1 L933.5,1313.7 L934.5,1313.4 L935.5,1313.1 L936.5,1312.9 L937.5,1313.0 L938.5,1312.6 L939.5,1312.0 L940.5,1311.9 L941.5,1311.5 L942.5,1310.7 L943.5,1310.6 L944.5,1310.4 L945.5,1309.6 L946.5,1309.0 L947.5,1308.6 L948.5,1307.8 L949.5,1306.8 L950.5,1306.0 L951.5,1305.6 L952.5,1305.0 L953.5,1304.2 L954.5,1303.4 L955.5,1302.5 L956.5,1301.4 L957.5,1300.1 L958.5,1298.3 L959.5,1297.1 L960.5,1296.2 L961.5,1294.5 L962.5,1292.1 L963.5,1289.9 L964.5,1287.5 L965.0,1286.2 L965.5,1283.8 L966.5,1277.4 L967.5,1270.4 L968.5,1263.0 L969.5,1255.5 L970.0,1252.1 L970.5,1249.3 L971.5,1243.5 L972.5,1237.9 L973.5,1232.8 L974.5,1228.8 L975.0,1227.3 L975.5,1228.5 L976.5,1232.1 L977.5,1236.9 L978.5,1242.4 L979.5,1247.9 L980.5,1252.8 L981.0,1254.9 L981.5,1256.3 L982.5,1258.7 L983.5,1261.1 L984.5,1263.1 L985.5,1265.6 L986.5,1272.7 L987.5,1281.5 L988.5,1291.0 L989.5,1299.2 L990.0,1302.1 L990.5,1303.6 L991.5,1306.3 L992.5,1308.6 L993.5,1310.4 L994.5,1312.0 L995.0,1312.5 L995.5,1312.0 L996.5,1312.1 L997.5,1312.6 L998.5,1312.6 L999.5,1312.6 L1000.5,1312.5 L1001.5,1312.4 L1002.5,1312.5 L1003.5,1312.4 L1004.5,1312.4 L1005.0,1312.9 L1005.5,1313.6 L1006.5,1313.6 L1007.5,1313.2 L1008.5,1313.1 L1009.5,1313.3 L1010.5,1313.4 L1011.5,1313.2 L1012.5,1312.9 L1013.5,1313.0 L1014.5,1313.5 L1015.5,1313.7 L1016.5,1312.9 L1017.5,1312.5 L1018.5,1312.9 L1019.5,1313.1 L1020.5,1313.2 L1021.5,1313.3 L1022.5,1313.0 L1023.5,1312.4 L1024.5,1312.3 L1025.5,1312.6 L1026.5,1312.7 L1027.5,1312.8 L1028.5,1312.7 L1029.5,1312.6 L1030.5,1312.5 L1031.5,1312.7 L1032.5,1312.9 L1033.5,1313.2 L1034.5,1313.4 L1035.0,1313.0 L1035.5,1312.9 L1036.5,1313.2 L1037.5,1313.0 L1038.5,1312.6 L1039.5,1312.5 L1040.5,1312.4 L1041.5,1312.0 L1042.5,1311.6 L1043.5,1311.1 L1044.5,1310.4 L1045.0,1310.2 L1045.5,1310.2 L1046.5,1309.8 L1047.5,1309.4 L1048.5,1308.9 L1049.5,1308.2 L1050.5,1307.3 L1051.5,1306.7 L1052.5,1306.6 L1053.5,1306.1 L1054.5,1305.4 L1055.5,1305.2 L1056.5,1304.9 L1057.5,1304.3 L1058.5,1304.2 L1059.5,1304.6 L1060.5,1305.7 L1061.5,1306.6 L1062.5,1306.9 L1063.5,1307.3 L1064.5,1307.8 L1065.5,1308.5 L1066.5,1309.0 L1067.5,1308.7 L1068.5,1308.0 L1069.5,1307.9 L1070.5,1307.2 L1071.5,1306.0 L1072.5,1305.2 L1073.5,1303.7 L1074.5,1301.8 L1075.5,1300.5 L1076.5,1299.3 L1077.5,1297.4 L1078.5,1293.6 L1079.5,1289.2 L1080.5,1283.8 L1081.5,1278.0 L1082.5,1272.4 L1083.5,1267.2 L1084.0,1264.8 L1084.5,1262.2 L1085.5,1256.8 L1086.5,1251.0 L1087.5,1245.2 L1088.5,1240.0 L1089.5,1235.7 L1090.5,1232.6 L1091.0,1231.5 L1091.5,1233.5 L1092.5,1239.8 L1093.5,1247.9 L1094.5,1256.4 L1095.0,1260.1 L1095.5,1263.5 L1096.5,1271.0 L1097.5,1278.6 L1098.5,1285.6 L1099.5,1291.3 L1100.5,1295.1 L1101.5,1293.6 L1102.5,1291.7 L1103.5,1289.6 L1104.5,1287.4 L1105.5,1285.1 L1106.5,1282.4 L1107.5,1279.8 L1108.5,1277.3 L1109.5,1274.4 L1110.0,1272.9 L1110.5,1270.8 L1111.5,1266.2 L1112.5,1262.4 L1113.5,1258.3 L1114.5,1253.6 L1115.5,1249.4 L1116.0,1247.3 L1116.5,1245.1 L1117.5,1240.4 L1118.5,1235.4 L1119.5,1231.2 L1120.5,1227.9 L1121.0,1226.8 L1121.5,1229.7 L1122.5,1236.7 L1123.5,1244.8 L1124.5,1253.4 L1125.5,1261.5 L1126.0,1264.8 L1126.5,1267.5 L1127.5,1272.5 L1128.5,1276.6 L1129.5,1279.2 L1130.5,1277.8 L1131.5,1275.6 L1132.5,1272.5 L1133.5,1269.8 L1134.5,1267.7 L1135.5,1266.0 L1136.5,1269.4 L1137.5,1275.1 L1138.5,1281.8 L1139.5,1287.6 L1140.0,1289.6 L1140.5,1290.8 L1141.5,1293.3 L1142.5,1295.3 L1143.5,1296.7 L1144.5,1298.0 L1145.0,1299.0 L1145.5,1300.0 L1146.5,1300.6 L1147.5,1301.1 L1148.5,1302.2 L1149.5,1303.1 L1150.5,1303.3 L1151.5,1303.3 L1152.5,1303.8 L1153.5,1304.3 L1154.5,1304.6 L1155.0,1304.6 L1155.5,1304.2 L1156.5,1303.0 L1157.5,1301.5 L1158.5,1299.6 L1159.5,1297.3 L1160.0,1296.3 L1160.5,1295.7 L1161.5,1293.9 L1162.5,1291.6 L1163.5,1289.0 L1164.5,1287.1 L1165.5,1288.9 L1166.5,1291.4 L1167.5,1293.7 L1168.0,1294.6 L1168.5,1295.4 L1169.5,1297.3 L1170.5,1299.2 L1171.5,1300.1 L1172.0,1300.0 L1172.5,1299.7 L1173.5,1299.1 L1174.5,1298.2 L1175.5,1297.2 L1176.5,1296.6 L1177.5,1296.3 L1178.5,1297.4 L1179.5,1298.9 L1180.5,1300.8 L1181.5,1302.4 L1182.5,1303.7 L1183.0,1304.3 L1183.5,1305.3 L1184.5,1307.3 L1185.5,1309.2 L1186.5,1310.7 L1187.5,1311.5 L1188.0,1311.8 L1188.5,1312.0 L1189.5,1311.5 L1190.5,1310.5 L1191.5,1309.8 L1192.5,1309.2 L1193.5,1308.0 L1194.5,1306.4 L1195.5,1305.2 L1196.5,1304.5 L1197.5,1303.5 L1198.5,1301.9 L1199.5,1300.4 L1200.0,1299.6 L1200.5,1298.8 L1201.5,1296.9 L1202.5,1294.4 L1203.5,1291.8 L1204.5,1289.4 L1205.0,1288.3 L1205.5,1286.8 L1206.5,1283.5 L1207.5,1280.7 L1208.5,1278.6 L1209.0,1277.5 L1209.5,1278.0 L1210.5,1281.0 L1211.5,1284.7 L1212.5,1288.3 L1213.5,1292.2 L1214.5,1295.9 L1215.0,1297.4 L1215.5,1298.2 L1216.5,1299.3 L1217.5,1300.4 L1218.5,1301.9 L1219.0,1302.6 L1219.5,1302.3 L1220.5,1301.8 L1221.5,1301.3 L1222.5,1300.9 L1223.5,1301.5 L1224.5,1302.2 L1225.5,1302.6 L1226.5,1302.9 L1227.5,1303.2 L1228.5,1303.9 L1229.5,1304.9 L1230.0,1305.5 L1230.5,1305.4 L1231.5,1304.6 L1232.5,1303.1 L1233.5,1301.7 L1234.5,1300.5 L1235.5,1298.9 L1236.5,1296.9 L1237.5,1295.0 L1238.5,1293.0 L1239.5,1291.0 L1240.0,1290.0 L1240.5,1288.0 L1241.5,1283.7 L1242.5,1279.3 L1243.5,1274.4 L1244.5,1269.6 L1245.0,1267.5 L1245.5,1265.6 L1246.5,1261.6 L1247.5,1257.8 L1248.5,1254.6 L1249.5,1252.5 L1250.5,1253.9 L1251.5,1255.8 L1252.5,1257.9 L1253.5,1260.1 L1254.5,1262.1 L1255.0,1263.1 L1255.5,1262.6 L1256.5,1261.9 L1257.5,1261.0 L1258.5,1259.7 L1259.5,1259.1 L1260.5,1262.8 L1261.5,1267.9 L1262.5,1274.2 L1263.5,1281.1 L1264.5,1287.7 L1265.0,1290.3 L1265.5,1292.3 L1266.5,1296.6 L1267.5,1300.7 L1268.5,1304.4 L1269.0,1305.5 L1269.5,1305.1 L1270.5,1304.5 L1271.5,1303.7 L1272.5,1302.6 L1273.5,1301.4 L1274.5,1300.3 L1275.5,1299.4 L1276.5,1298.7 L1277.5,1298.0 L1278.5,1297.3 L1279.0,1296.9 L1279.5,1297.4 L1280.5,1298.4 L1281.5,1299.3 L1282.5,1300.8 L1283.5,1302.3 L1284.5,1303.4 L1285.0,1303.8 L1285.5,1304.3 L1286.5,1305.4 L1287.5,1306.8 L1288.5,1308.2 L1289.5,1309.5 L1290.5,1310.8 L1291.0,1310.9 L1291.5,1309.7 L1292.5,1308.9 L1293.5,1308.3 L1294.5,1307.1 L1295.5,1305.5 L1296.5,1303.9 L1297.5,1302.3 L1298.5,1300.7 L1299.5,1298.9 L1300.0,1297.8 L1300.5,1296.4 L1301.5,1293.5 L1302.5,1290.7 L1303.5,1288.2 L1304.5,1286.2 L1305.5,1284.3 L1306.0,1282.7 L1306.5,1281.7 L1307.5,1281.0 L1308.5,1280.5 L1309.5,1280.0 L1310.5,1279.5 L1311.5,1278.4 L1312.5,1277.1 L1313.5,1275.3 L1314.5,1272.6 L1315.5,1269.5 L1316.5,1266.6 L1317.5,1263.3 L1318.5,1260.2 L1319.5,1258.2 L1320.0,1258.0 L1320.5,1259.9 L1321.5,1264.1 L1322.5,1269.3 L1323.5,1275.5 L1324.5,1282.0 L1325.5,1287.7 L1326.0,1290.3 L1326.5,1292.2 L1327.5,1296.2 L1328.5,1300.0 L1329.5,1303.0 L1330.0,1303.8 L1330.5,1303.7 L1331.5,1303.5 L1332.5,1303.3 L1333.5,1303.1 L1334.5,1302.8 L1335.5,1302.3 L1336.5,1302.1 L1337.5,1302.1 L1338.5,1302.9 L1339.5,1303.3 L1340.5,1303.8 L1341.5,1304.9 L1342.5,1306.1 L1343.5,1307.0 L1344.5,1307.9 L1345.5,1308.8 L1346.5,1309.6 L1347.5,1310.2 L1348.5,1309.1 L1349.5,1307.6 L1350.5,1305.9 L1351.5,1304.4 L1352.5,1303.5 L1353.5,1302.5 L1354.5,1301.1 L1355.0,1300.3 L1355.5,1299.9 L1356.5,1298.8 L1357.5,1297.6 L1358.5,1296.5 L1359.5,1295.6 L1360.5,1295.1 L1361.5,1294.8 L1362.5,1294.2 L1363.5,1293.2 L1364.5,1292.5 L1365.5,1291.9 L1366.5,1291.0 L1367.5,1290.4 L1368.5,1291.5 L1369.5,1293.1 L1370.5,1295.2 L1371.5,1297.4 L1372.5,1299.5 L1373.5,1301.6 L1374.0,1302.5 L1374.5,1303.3 L1375.5,1305.1 L1376.5,1306.8 L1377.5,1308.6 L1378.5,1310.1 L1379.0,1310.1 L1379.5,1310.0 L1380.5,1310.0 L1381.5,1309.8 L1382.5,1309.5 L1383.5,1309.2 L1384.5,1308.5 L1385.5,1308.2 L1386.5,1308.0 L1387.5,1307.6 L1388.5,1307.4 L1389.5,1307.6 L1390.5,1307.9 L1391.5,1308.0 L1392.5,1308.1 L1393.5,1308.2 L1394.5,1308.2 L1395.5,1308.1 L1396.5,1308.3 L1397.5,1308.8 L1398.5,1308.9 L1399.5,1308.7 L1400.0,1308.7 L1400.5,1308.1 L1401.5,1306.9 L1402.5,1305.1 L1403.5,1302.1 L1404.5,1299.1 L1405.5,1296.7 L1406.0,1295.1 L1406.5,1292.1 L1407.5,1286.3 L1408.5,1279.7 L1409.5,1272.9 L1410.0,1269.9 L1410.5,1267.1 L1411.5,1261.2 L1412.5,1255.7 L1413.5,1250.9 L1414.5,1247.9 L1415.5,1252.6 L1416.5,1258.7 L1417.5,1266.1 L1418.5,1274.3 L1419.5,1281.9 L1420.0,1285.3 L1420.5,1288.0 L1421.5,1294.0 L1422.5,1300.0 L1423.5,1305.4 L1424.5,1309.5 L1425.0,1311.1 L1425.5,1311.4 L1426.5,1311.1 L1427.5,1311.0 L1428.5,1311.3 L1429.5,1311.6 L1430.5,1311.8 L1431.5,1311.7 L1432.5,1311.4 L1433.5,1311.5 L1434.5,1311.7 L1435.5,1311.7 L1436.5,1311.7 L1437.5,1311.6 L1438.5,1312.1 L1439.5,1312.5 L1440.5,1312.6 L1441.5,1313.4 L1442.5,1314.1 L1443.5,1314.4 L1444.5,1314.7 L1445.5,1314.9 L1446.5,1314.9 L1447.5,1315.1 L1448.5,1314.3 L1449.5,1313.1 L1450.5,1311.1 L1451.5,1308.7 L1452.5,1306.5 L1453.5,1304.2 L1454.5,1302.1 L1455.5,1300.5 L1456.0,1299.6 L1456.5,1299.4 L1457.5,1299.3 L1458.5,1298.8 L1459.5,1298.3 L1460.5,1298.0 L1461.5,1297.8 L1462.5,1297.6 L1463.5,1297.1 L1464.5,1296.6 L1465.5,1296.8 L1466.0,1296.9 L1466.5,1297.1 L1467.5,1298.4 L1468.5,1300.0 L1469.5,1301.4 L1470.5,1302.9 L1471.5,1304.4 L1472.5,1306.0 L1473.5,1307.5 L1474.5,1308.9 L1475.5,1309.8 L1476.5,1310.6 L1477.5,1311.4 L1478.5,1311.8 L1479.0,1312.1 L1479.5,1311.8 L1480.5,1311.3 L1481.5,1311.0 L1482.5,1310.5 L1483.5,1309.5 L1484.5,1308.5 L1485.5,1307.7 L1486.5,1307.1 L1487.5,1306.2 L1488.5,1305.8 L1489.0,1306.0 L1489.5,1306.2 L1490.5,1306.2 L1491.5,1306.6 L1492.5,1307.6 L1493.5,1308.8 L1494.5,1309.4 L1495.5,1310.2 L1496.5,1311.1 L1497.5,1312.0 L1498.5,1312.9 L1499.5,1313.9 L1500.5,1314.7 L1501.5,1315.3 L1502.5,1315.6 L1503.5,1316.2 L1504.5,1316.8 L1505.0,1317.0 L1505.5,1316.8 L1506.5,1316.4 L1507.5,1316.2 L1508.5,1315.9 L1509.5,1315.2 L1510.5,1314.5 L1511.5,1314.4 L1512.5,1314.0 L1513.5,1313.2 L1514.5,1312.5 L1515.5,1311.8 L1516.5,1311.4 L1517.5,1311.2 L1518.5,1310.7 L1519.5,1310.1 L1520.5,1309.3 L1521.5,1308.9 L1522.5,1308.9 L1523.5,1309.6 L1524.5,1310.3 L1525.5,1311.0 L1526.5,1311.4 L1527.5,1311.8 L1528.5,1312.4 L1529.5,1313.4 L1530.5,1314.4 L1531.5,1315.1 L1532.5,1315.7 L1533.5,1316.4 L1534.5,1317.0 L1535.5,1317.3 L1536.5,1317.9 L1537.5,1318.2 L1538.5,1317.6 L1539.5,1317.3 L1540.5,1317.3 L1541.5,1317.1 L1542.5,1316.8 L1543.5,1316.3 L1544.5,1315.7 L1545.5,1315.5 L1546.5,1315.2 L1547.5,1314.5 L1548.5,1313.9 L1549.5,1313.5 L1550.5,1313.7 L1551.5,1313.5 L1552.5,1312.8 L1553.5,1312.7 L1554.0,1312.7 L1554.5,1312.6 L1555.5,1312.7 L1556.5,1313.0 L1557.5,1313.6 L1558.5,1314.4 L1559.5,1315.2 L1560.5,1315.8 L1561.5,1316.4 L1562.5,1316.7 L1563.5,1317.1 L1564.5,1317.9 L1565.5,1318.3 L1566.0,1318.2 L1566.5,1318.3 L1567.5,1317.9 L1568.5,1317.5 L1569.5,1316.9 L1570.5,1315.6 L1571.5,1315.0 L1572.5,1315.0 L1573.5,1314.3 L1574.5,1313.7 L1575.5,1313.4 L1576.5,1312.6 L1577.5,1311.4 L1578.5,1310.9 L1579.5,1310.8 L1580.5,1310.2 L1581.5,1309.1 L1582.5,1308.6 L1583.5,1308.1 L1584.5,1307.5 L1585.5,1307.2 L1586.0,1307.0 L1586.5,1307.6 L1587.5,1308.9 L1588.5,1309.8 L1589.5,1310.8 L1590.5,1311.9 L1591.5,1313.2 L1592.5,1314.3 L1593.5,1315.2 L1594.5,1316.4 L1595.5,1317.6 L1596.5,1318.3 L1597.5,1319.0 L1598.5,1319.5 L1599.5,1319.6 L1600.5,1319.1 L1601.5,1319.1 L1602.5,1319.4 L1603.5,1319.4 L1604.5,1319.4 L1605.5,1319.6 L1606.5,1319.7 L1607.5,1320.0 L1608.5,1320.5 L1609.5,1320.4 L1610.5,1320.2 L1611.5,1320.4 L1612.5,1320.7 L1613.5,1320.3 L1614.5,1319.8 L1615.5,1319.9 L1616.5,1319.9 L1617.5,1319.8 L1618.5,1320.0 L1619.5,1320.1 L1620.5,1319.9 L1621.5,1320.0 L1622.0,1320.0 L1622.5,1319.7 L1623.5,1319.7 L1624.5,1319.5 L1625.5,1318.8 L1626.5,1318.2 L1627.5,1318.0 L1628.5,1317.3 L1629.5,1316.8 L1630.5,1316.7 L1631.5,1316.1 L1632.5,1315.4 L1633.5,1314.8 L1634.5,1314.8 L1635.0,1315.1 L1635.5,1315.1 L1636.5,1314.9 L1637.5,1314.9 L1638.5,1314.8 L1639.5,1314.5 L1640.5,1314.6 L1641.5,1314.9 L1642.5,1314.7 L1643.5,1314.7 L1644.5,1314.8 L1645.5,1314.6 L1646.5,1314.4 L1647.5,1314.3 L1648.5,1314.3 L1649.5,1314.1 L1650.0,1314.0 L1650.5,1313.7 L1651.5,1313.4 L1652.5,1313.2 L1653.5,1312.9 L1654.5,1312.2 L1655.5,1311.4 L1656.5,1311.0 L1657.5,1310.6 L1658.5,1310.3 L1659.5,1310.2 L1660.5,1309.9 L1661.5,1309.4 L1662.5,1308.9 L1663.5,1309.5 L1664.5,1310.3 L1665.5,1310.9 L1666.5,1312.0 L1667.5,1313.2 L1668.5,1314.2 L1669.5,1315.2 L1670.5,1316.2 L1671.5,1317.2 L1672.5,1317.8 L1673.5,1318.5 L1674.0,1319.1 L1674.5,1318.7 L1675.5,1318.5 L1676.5,1318.7 L1677.5,1318.3 L1678.5,1317.7 L1679.5,1318.2 L1680.5,1318.7 L1681.5,1318.7 L1682.5,1318.6 L1683.5,1318.3 L1684.5,1317.9 L1685.5,1317.6 L1686.5,1317.7 L1687.5,1317.9 L1688.5,1317.6 L1689.5,1317.0 L1690.5,1316.5 L1691.5,1316.4 L1692.5,1316.5 L1693.5,1316.6 L1694.5,1316.5 L1695.5,1316.3 L1696.5,1316.3 L1697.5,1316.4 L1698.5,1316.1 L1699.5,1316.3 L1700.0,1316.7 L1700.5,1316.4 L1701.5,1316.2 L1702.5,1316.7 L1703.5,1317.2 L1704.5,1317.3 L1705.5,1317.2 L1706.5,1317.4 L1707.5,1318.0 L1708.5,1318.8 L1709.5,1319.1 L1710.5,1319.1 L1711.5,1319.5 L1712.5,1319.6 L1713.5,1319.4 L1714.5,1319.5 L1715.5,1319.0 L1716.5,1318.6 L1717.5,1319.0 L1718.5,1319.2 L1719.5,1318.8 L1720.5,1318.2 L1721.5,1317.7 L1722.5,1317.8 L1723.5,1317.8 L1724.5,1317.5 L1725.5,1317.0 L1726.5,1316.4 L1727.5,1316.3 L1728.5,1315.8 L1729.5,1314.6 L1730.5,1313.9 L1731.5,1313.6 L1732.5,1313.3 L1733.5,1312.9 L1734.5,1312.2 L1735.5,1311.6 L1736.5,1311.1 L1737.5,1310.7 L1738.5,1310.5 L1739.5,1310.2 L1740.5,1310.4 L1741.5,1310.6 L1742.5,1311.0 L1743.5,1311.5 L1744.5,1312.1 L1745.5,1312.8 L1746.5,1313.2 L1747.5,1313.5 L1748.5,1313.9 L1749.5,1314.5 L1750.5,1315.2 L1751.5,1315.6 L1752.5,1315.7 L1753.5,1316.0 L1754.5,1316.5 L1755.5,1317.0 L1756.5,1317.4 L1757.5,1317.7 L1758.5,1317.5 L1759.5,1317.4 L1760.5,1317.7 L1761.5,1317.8 L1762.5,1318.3 L1763.5,1319.1 L1764.5,1319.3 L1765.5,1319.2 L1766.5,1319.3 L1767.5,1319.4 L1768.5,1319.5 L1769.5,1319.8 L1770.0,1320.2 L1770.5,1320.3 L1771.5,1320.1 L1772.5,1320.0 L1773.5,1320.0 L1774.5,1319.9 L1775.5,1319.7 L1776.5,1319.7 L1777.5,1319.5 L1778.5,1319.3 L1779.5,1319.4 L1780.5,1319.6 L1781.5,1319.7 L1782.5,1319.8 L1783.5,1319.3 L1784.5,1318.6 L1785.5,1318.4 L1786.5,1318.4 L1787.5,1318.6 L1788.5,1318.7 L1789.5,1318.3 L1790.5,1318.2 L1791.5,1318.4 L1792.5,1318.6 L1793.5,1318.7 L1794.5,1318.6 L1795.5,1318.5 L1796.5,1318.5 L1797.5,1318.1 L1798.5,1317.7 L1799.5,1317.6 L1800.5,1317.8 L1801.5,1318.1 L1802.5,1318.0 L1803.5,1317.5 L1804.5,1317.0 L1805.5,1316.7 L1806.5,1316.6 L1807.5,1316.9 L1808.5,1316.8 L1809.5,1315.9 L1810.5,1315.8 L1811.5,1316.2 L1812.5,1316.0 L1813.5,1315.7 L1814.5,1315.7 L1815.5,1315.8 L1816.5,1315.9 L1817.5,1315.6 L1818.5,1315.5 L1819.5,1315.3 L1820.5,1315.4 L1821.5,1315.6 L1822.5,1315.2 L1823.5,1314.6 L1824.5,1314.3 L1825.5,1314.4 L1826.0,1314.5 L1826.5,1314.6 L1827.5,1314.9 L1828.5,1315.5 L1829.5,1316.1 L1830.5,1316.6 L1831.5,1317.3 L1832.5,1317.7 L1833.5,1318.3 L1834.5,1319.2 L1835.5,1319.7 L1836.5,1320.0 L1837.5,1320.4 L1838.5,1320.4 L1839.5,1320.3 L1840.5,1320.1 L1841.5,1319.8 L1842.5,1319.6 L1843.5,1319.7 L1844.5,1319.8 L1845.5,1320.1 L1846.5,1320.2 L1847.5,1319.7 L1848.5,1319.7 L1849.5,1320.2 L1850.5,1320.3 L1851.5,1320.0 L1852.5,1319.4 L1853.5,1319.3 L1854.5,1319.6 L1855.5,1319.8 L1856.5,1320.0 L1857.5,1319.9 L1858.5,1319.7 L1858.7,1319.6 L1859.5,1319.5 L1860.5,1319.4 L1861.5,1319.3 L1862.5,1319.3 L1863.5,1319.4 L1864.5,1319.3 L1865.5,1319.0 L1866.5,1319.0 L1867.5,1319.4 L1868.5,1319.4 L1869.5,1319.2 L1870.5,1319.1 L1871.5,1319.4 L1872.5,1319.6 L1873.5,1319.5 L1874.5,1319.5 L1875.5,1319.4 L1876.5,1319.3 L1877.5,1319.3 L1878.5,1319.3 L1879.5,1319.6 L1880.5,1319.6 L1881.5,1319.2 L1882.5,1319.3 L1883.5,1319.9 L1884.5,1319.9 L1885.5,1319.4 L1886.5,1319.2 L1887.5,1319.3 L1888.5,1319.5 L1889.5,1319.4 L1890.5,1319.1 L1891.5,1319.0 L1892.5,1319.2 L1893.5,1319.6 L1894.5,1319.8 L1895.5,1319.4 L1896.5,1319.5 L1897.5,1319.5 L1898.5,1319.1 L1899.5,1319.0 L1900.5,1319.3 L1901.5,1319.3 L1902.5,1319.3 L1903.5,1319.4 L1904.5,1319.1 L1905.5,1318.7 L1906.5,1318.9 L1907.5,1319.2 L1908.5,1319.4 L1909.5,1319.1 L1910.5,1318.8 L1911.5,1318.9 L1912.5,1318.7 L1913.5,1318.4 L1914.5,1318.5 L1915.5,1318.7 L1916.5,1319.1 L1917.5,1319.1 L1918.5,1318.3 L1919.5,1317.9 L1920.5,1317.9 L1921.5,1317.9 L1922.5,1317.9 L1923.5,1318.1 L1924.0,1318.2 L1924.5,1317.6 L1925.5,1317.0 L1926.5,1317.1 L1927.5,1317.6 L1928.5,1317.5 L1929.5,1316.5 L1930.5,1316.1 L1931.5,1316.4 L1932.5,1316.6 L1933.5,1316.3 L1934.5,1315.9 L1935.5,1315.7 L1936.5,1315.3 L1937.5,1315.1 L1938.5,1315.1 L1939.5,1314.6 L1940.5,1314.0 L1941.5,1313.8 L1942.5,1313.7 L1943.0,1314.0 L1943.5,1314.2 L1944.5,1314.3 L1945.5,1314.9 L1946.5,1315.5 L1947.5,1315.3 L1948.5,1315.1 L1949.5,1315.4 L1950.5,1315.9 L1951.5,1316.1 L1952.5,1316.5 L1953.5,1317.1 L1954.5,1317.8 L1955.5,1318.1 L1956.5,1318.5 L1957.5,1319.3 L1958.5,1319.8 L1959.5,1319.8 L1960.5,1319.9 L1961.5,1320.3 L1961.7,1320.4 L1962.5,1320.6 L1963.5,1320.5 L1964.5,1320.1 L1965.5,1320.3 L1966.5,1320.9 L1967.5,1320.9 L1968.5,1320.6 L1969.5,1320.6 L1970.5,1320.6 L1971.5,1320.5 L1972.5,1320.5 L1973.5,1320.6 L1974.5,1320.7 L1975.5,1320.8 L1976.5,1320.9 L1977.5,1321.1 L1978.5,1321.3 L1979.5,1321.4 L1980.5,1321.6 L1981.5,1321.7 L1982.5,1321.6 L1983.5,1321.5 L1984.5,1321.4 L1985.5,1321.3 L1986.5,1321.2 L1987.5,1321.3 L1988.5,1321.6 L1989.5,1321.6 L1990.0,1321.4 L1990.5,1321.4 L1991.5,1321.5 L1992.5,1321.4 L1993.5,1321.3 L1994.5,1321.4 L1995.5,1321.3 L1996.5,1321.0 L1997.5,1320.5 L1998.5,1320.3 L1999.5,1320.4 L2000.5,1320.5 L2001.5,1320.8 L2002.5,1320.7 L2003.5,1320.0 L2004.5,1319.9 L2005.5,1320.4 L2006.5,1320.6 L2007.5,1320.4 L2008.5,1320.2 L2009.5,1320.2 L2010.5,1320.2 L2011.5,1320.2 L2012.5,1319.7 L2013.5,1319.1 L2014.5,1318.9 L2015.5,1318.9 L2016.5,1318.7 L2017.5,1318.5 L2018.5,1318.3 L2019.5,1318.3 L2020.5,1318.4 L2021.5,1318.1 L2022.5,1317.7 L2023.5,1317.7 L2024.5,1318.3 L2025.5,1318.9 L2026.5,1319.0 L2027.5,1319.1 L2028.5,1318.9 L2029.5,1318.7 L2030.5,1319.1 L2031.5,1319.2 L2032.5,1319.2 L2033.5,1319.7 L2034.5,1320.1 L2034.8,1319.8 L2035.5,1319.8 L2036.5,1320.2 L2037.5,1320.0 L2038.5,1319.4 L2039.5,1319.4 L2040.5,1319.4 L2041.5,1319.5 L2042.5,1319.4 L2043.5,1319.1 L2044.5,1319.1 L2045.5,1319.1 L2046.5,1318.5 L2047.5,1318.4 L2048.5,1318.5 L2049.5,1318.1 L2050.5,1317.8 L2051.5,1317.8 L2052.5,1317.8 L2053.5,1317.8 L2054.5,1318.0 L2055.0,1318.0 L2055.5,1317.6 L2056.5,1317.3 L2057.5,1317.2 L2058.5,1316.8 L2059.5,1316.5 L2060.5,1316.6 L2061.5,1316.5 L2062.5,1316.0 L2063.5,1315.5 L2064.5,1315.7 L2065.5,1315.9 L2066.5,1315.2 L2067.5,1314.5 L2068.5,1314.4 L2069.5,1314.4 L2070.5,1314.2 L2071.5,1314.1 L2072.0,1314.1 L2072.5,1314.1 L2073.5,1314.3 L2074.5,1314.6 L2075.5,1315.2 L2076.5,1315.8 L2077.5,1316.1 L2078.5,1316.5 L2079.5,1316.9 L2080.5,1317.3 L2081.5,1318.1 L2082.5,1318.7 L2083.5,1319.1 L2084.5,1319.4 L2085.5,1319.5 L2086.5,1319.8 L2087.0,1320.3 L2087.5,1320.2 L2088.5,1319.7 L2089.5,1319.6 L2090.5,1319.7 L2091.5,1319.6 L2092.5,1319.6 L2093.5,1319.5 L2094.5,1319.7 L2095.5,1320.2 L2096.5,1320.1 L2097.5,1319.4 L2098.5,1318.9 L2099.5,1318.9 L2100.5,1318.9 L2101.5,1318.9 L2102.5,1318.7 L2103.5,1318.3 L2104.5,1318.3 L2105.5,1318.3 L2106.5,1318.2 L2107.5,1318.2 L2107.8,1317.9 L2108.5,1317.8 L2109.5,1317.6 L2110.5,1317.0 L2111.5,1316.8 L2112.5,1317.1 L2113.5,1317.4 L2114.5,1317.5 L2115.5,1317.2 L2116.5,1316.6 L2117.5,1316.1 L2118.5,1316.2 L2119.5,1316.3 L2120.5,1316.5 L2121.5,1316.7 L2122.5,1316.6 L2123.5,1316.2 L2124.5,1315.7 L2125.5,1315.3 L2126.5,1315.1 L2127.5,1315.0 L2128.5,1315.1 L2129.5,1314.9 L2130.0,1314.7 L2130.5,1314.8 L2131.5,1314.9 L2132.5,1315.0 L2133.5,1315.0 L2134.5,1314.9 L2135.5,1315.0 L2136.5,1315.2 L2137.5,1315.2 L2138.5,1315.5 L2139.5,1315.4 L2140.5,1314.6 L2141.5,1314.5 L2142.5,1315.0 L2143.5,1315.2 L2144.5,1315.1 L2145.0,1315.0 L2145.5,1315.1 L2146.5,1315.3 L2147.5,1315.6 L2148.5,1315.8 L2149.5,1315.7 L2150.5,1316.4 L2151.5,1317.8 L2152.5,1318.2 L2153.5,1318.6 L2154.5,1319.5 L2155.5,1320.0 L2156.5,1320.0 L2157.5,1320.0 L2158.0,1320.2 L2158.5,1320.0 L2159.5,1319.7 L2160.5,1319.9 L2161.5,1320.2 L2162.5,1320.5 L2163.5,1320.4 L2164.5,1319.9 L2165.5,1319.8 L2166.5,1320.0 L2167.5,1320.1 L2168.5,1319.9 L2169.5,1319.9 L2170.5,1320.1 L2171.5,1320.2 L2172.5,1320.3 L2173.5,1320.0 L2174.5,1319.5 L2175.5,1319.4 L2176.5,1319.8 L2177.5,1319.8 L2178.5,1319.7 L2179.5,1319.5 L2180.5,1319.3 L2181.5,1319.1 L2182.5,1319.0 L2183.5,1319.2 L2184.5,1319.6 L2185.5,1320.1 L2186.5,1320.0 L2187.5,1319.6 L2188.5,1319.7 L2189.5,1319.7 L2190.0,1319.5" stroke="#000080"/>
<circle cx="319.5" cy="1321.8" r="3.35" fill="#000080" stroke="none"/>
<path d="M319.5,1491.8 L320.5,1492.0 L321.5,1492.3 L322.5,1491.9 L323.5,1491.4 L324.5,1492.0 L325.5,1492.4 L326.5,1492.3 L327.5,1492.5 L328.5,1492.3 L329.5,1491.9 L330.5,1491.7 L331.5,1491.5 L332.5,1491.3 L333.5,1491.1 L334.5,1491.2 L335.5,1491.6 L336.5,1491.6 L337.5,1491.7 L338.5,1491.7 L339.5,1491.6 L340.5,1491.6 L341.5,1491.6 L342.5,1491.5 L343.5,1491.6 L344.5,1491.6 L345.5,1491.3 L346.5,1491.1 L347.5,1491.3 L348.5,1491.7 L349.5,1492.2 L350.5,1492.2 L351.5,1492.0 L352.5,1491.9 L353.5,1491.9 L354.5,1491.9 L355.5,1491.8 L356.5,1491.6 L357.5,1491.5 L358.5,1491.7 L359.5,1491.9 L360.0,1491.5 L360.5,1491.3 L361.5,1491.4 L362.5,1491.8 L363.5,1491.8 L364.5,1491.0 L365.5,1490.5 L366.5,1490.9 L367.5,1491.0 L368.5,1490.5 L369.5,1490.4 L370.5,1490.3 L371.5,1490.0 L372.5,1490.3 L373.5,1490.4 L374.5,1490.1 L375.0,1489.7 L375.5,1489.5 L376.5,1489.4 L377.5,1489.2 L378.5,1488.9 L379.5,1488.8 L380.5,1488.1 L381.5,1487.4 L382.5,1487.4 L383.5,1486.9 L384.5,1486.2 L385.0,1485.8 L385.5,1485.2 L386.5,1484.2 L387.5,1483.0 L388.5,1482.2 L389.5,1481.9 L390.0,1481.5 L390.5,1480.4 L391.5,1478.8 L392.5,1477.7 L393.5,1476.5 L394.5,1475.6 L395.5,1478.4 L396.5,1482.2 L397.0,1483.8 L397.5,1485.1 L398.5,1488.0 L399.5,1490.0 L400.0,1490.6 L400.5,1490.9 L401.5,1491.4 L402.5,1491.6 L403.5,1491.6 L404.5,1491.7 L405.5,1491.7 L406.5,1491.4 L407.5,1490.9 L408.5,1490.6 L409.5,1490.9 L410.0,1491.4 L410.5,1491.7 L411.5,1491.7 L412.5,1491.8 L413.5,1491.6 L414.5,1491.3 L415.5,1491.0 L416.5,1491.2 L417.5,1491.9 L418.5,1492.0 L419.5,1491.5 L420.5,1491.6 L421.5,1492.0 L422.5,1492.1 L423.5,1491.8 L424.5,1491.9 L425.5,1491.8 L426.5,1491.4 L427.5,1491.3 L428.5,1491.5 L429.5,1491.8 L430.5,1492.3 L431.5,1492.2 L432.5,1491.8 L433.5,1491.6 L434.5,1491.9 L435.5,1491.9 L436.5,1491.6 L437.5,1491.4 L438.5,1491.3 L439.5,1491.6 L440.5,1492.0 L441.5,1492.1 L442.5,1492.1 L443.5,1491.9 L444.5,1491.6 L445.5,1491.6 L446.5,1492.0 L447.5,1491.8 L448.5,1491.6 L449.5,1491.8 L450.5,1492.0 L451.5,1492.0 L452.5,1491.7 L453.5,1491.6 L454.5,1491.9 L455.5,1492.1 L456.5,1491.8 L457.5,1491.5 L458.5,1491.5 L459.5,1491.4 L460.5,1491.5 L461.5,1491.7 L462.5,1491.8 L463.5,1491.9 L464.5,1492.2 L465.5,1492.3 L466.5,1491.7 L467.5,1491.4 L468.5,1491.6 L469.5,1491.6 L470.5,1491.5 L471.5,1491.5 L472.5,1491.6 L473.5,1491.4 L474.5,1491.0 L475.5,1491.3 L476.5,1491.7 L477.5,1491.8 L478.5,1491.4 L479.5,1491.4 L480.0,1491.6 L480.5,1491.5 L481.5,1491.4 L482.5,1491.5 L483.5,1491.4 L484.5,1490.9 L485.5,1490.7 L486.5,1490.7 L487.5,1490.4 L488.5,1490.3 L489.5,1490.6 L490.0,1490.3 L490.5,1489.7 L491.5,1489.3 L492.5,1489.1 L493.5,1488.5 L494.5,1488.2 L495.5,1488.5 L496.5,1488.5 L497.5,1488.1 L498.5,1488.3 L499.5,1489.0 L500.5,1489.7 L501.5,1490.0 L502.5,1490.5 L503.0,1490.9 L503.5,1491.2 L504.5,1491.2 L505.5,1491.0 L506.5,1491.4 L507.5,1491.8 L508.5,1491.7 L509.5,1491.6 L510.0,1491.8 L510.5,1492.0 L511.5,1491.8 L512.5,1491.5 L513.5,1491.4 L514.5,1491.6 L515.5,1492.0 L516.5,1491.9 L517.5,1491.7 L518.5,1491.9 L519.5,1491.7 L520.5,1491.5 L521.5,1491.6 L522.5,1491.5 L523.5,1491.4 L524.5,1491.5 L525.5,1491.6 L526.5,1491.4 L527.5,1491.3 L528.5,1491.6 L529.5,1491.8 L530.5,1492.0 L531.5,1492.1 L532.5,1492.0 L533.5,1492.0 L534.5,1492.0 L535.5,1491.7 L536.5,1491.5 L537.5,1491.3 L538.5,1491.0 L539.5,1491.3 L540.5,1491.7 L541.5,1491.8 L542.5,1492.0 L543.5,1492.0 L544.5,1491.7 L545.5,1491.7 L546.5,1491.8 L547.5,1491.6 L548.5,1491.6 L549.5,1491.9 L550.5,1492.2 L551.5,1492.2 L552.5,1491.6 L553.5,1491.2 L554.5,1491.7 L555.5,1492.0 L556.5,1492.0 L557.5,1492.2 L558.5,1492.2 L559.5,1491.6 L560.5,1491.3 L561.5,1491.3 L562.5,1491.7 L563.5,1491.9 L564.5,1491.7 L565.5,1491.3 L566.5,1491.1 L567.5,1491.0 L568.5,1490.9 L569.5,1490.9 L570.5,1491.0 L571.5,1491.4 L572.5,1491.7 L573.5,1491.8 L574.5,1491.6 L575.5,1491.4 L576.5,1491.5 L577.5,1491.6 L578.5,1491.5 L579.5,1491.5 L580.5,1491.4 L581.5,1491.4 L582.5,1491.3 L583.5,1491.4 L584.5,1491.4 L585.0,1491.3 L585.5,1491.2 L586.5,1491.3 L587.5,1491.6 L588.5,1491.4 L589.5,1490.8 L590.5,1490.4 L591.5,1490.3 L592.5,1490.3 L593.5,1490.7 L594.5,1490.6 L595.0,1490.1 L595.5,1489.9 L596.5,1489.6 L597.5,1489.4 L598.5,1489.3 L599.5,1489.0 L600.5,1488.5 L601.5,1488.2 L602.5,1488.0 L603.5,1488.6 L604.5,1489.1 L605.5,1489.3 L606.5,1489.8 L607.5,1490.3 L608.0,1490.5 L608.5,1490.9 L609.5,1491.7 L610.5,1492.2 L611.5,1491.9 L612.5,1491.5 L613.5,1491.4 L614.5,1491.5 L615.0,1491.9 L615.5,1492.2 L616.5,1492.2 L617.5,1492.0 L618.5,1491.6 L619.5,1491.0 L620.5,1491.0 L621.5,1491.5 L622.5,1492.0 L623.5,1492.1 L624.5,1491.8 L625.5,1491.7 L626.5,1491.9 L627.5,1492.0 L628.5,1491.7 L629.5,1491.6 L630.5,1491.9 L631.5,1492.0 L632.5,1491.7 L633.5,1491.5 L634.5,1491.3 L635.5,1491.0 L636.5,1491.0 L637.5,1491.4 L638.5,1491.6 L639.5,1492.0 L640.5,1492.1 L641.5,1492.1 L642.5,1492.1 L643.5,1491.9 L644.5,1491.7 L645.5,1491.5 L646.5,1491.5 L647.5,1491.6 L648.5,1491.7 L649.5,1491.6 L650.5,1491.3 L651.5,1491.4 L652.5,1491.5 L653.5,1491.6 L654.5,1491.7 L655.5,1491.6 L656.5,1491.4 L657.5,1491.4 L658.5,1491.6 L659.5,1491.6 L660.5,1491.5 L661.5,1491.5 L662.5,1491.7 L663.5,1491.7 L664.5,1491.7 L665.5,1491.7 L666.5,1491.7 L667.5,1491.7 L668.5,1491.8 L669.5,1491.8 L670.5,1492.0 L671.5,1492.0 L672.5,1492.0 L673.5,1492.0 L674.5,1491.8 L675.5,1491.8 L676.5,1491.6 L677.5,1491.3 L678.5,1491.5 L679.5,1491.8 L680.5,1491.9 L681.5,1491.6 L682.5,1491.5 L683.5,1491.4 L684.5,1491.2 L685.5,1491.3 L686.5,1491.5 L687.5,1491.9 L688.5,1492.1 L689.5,1491.5 L690.0,1491.1 L690.5,1491.3 L691.5,1491.5 L692.5,1491.4 L693.5,1491.0 L694.5,1490.6 L695.5,1490.5 L696.5,1490.6 L697.5,1490.7 L698.5,1490.2 L699.5,1489.8 L700.0,1489.8 L700.5,1489.6 L701.5,1489.5 L702.5,1489.4 L703.5,1489.2 L704.5,1489.2 L705.5,1489.4 L706.0,1489.1 L706.5,1488.8 L707.5,1489.2 L708.5,1489.8 L709.5,1490.1 L710.5,1490.5 L711.5,1490.9 L712.0,1491.1 L712.5,1491.0 L713.5,1491.0 L714.5,1491.0 L715.5,1491.1 L716.5,1491.4 L717.5,1491.7 L718.5,1491.6 L719.5,1491.5 L720.0,1491.7 L720.5,1491.6 L721.5,1491.5 L722.5,1491.4 L723.5,1491.2 L724.5,1491.1 L725.5,1491.3 L726.5,1491.5 L727.5,1491.3 L728.5,1491.2 L729.5,1491.3 L730.5,1491.7 L731.5,1491.8 L732.5,1491.4 L733.5,1491.3 L734.5,1491.3 L735.5,1491.3 L736.5,1491.2 L737.5,1491.1 L738.5,1491.3 L739.5,1491.2 L740.5,1491.1 L741.5,1491.5 L742.5,1491.6 L743.5,1491.3 L744.5,1490.8 L745.0,1490.7 L745.5,1490.8 L746.5,1491.0 L747.5,1490.7 L748.5,1489.9 L749.5,1489.8 L750.0,1490.1 L750.5,1490.3 L751.5,1490.3 L752.5,1490.3 L753.5,1490.6 L754.5,1490.8 L755.5,1491.1 L756.0,1491.4 L756.5,1491.4 L757.5,1491.3 L758.5,1491.4 L759.5,1492.0 L760.5,1492.2 L761.5,1491.6 L762.5,1491.0 L763.5,1490.7 L764.5,1491.0 L765.5,1491.6 L766.5,1492.1 L767.5,1492.0 L768.5,1491.6 L769.5,1491.8 L770.5,1491.9 L771.5,1491.7 L772.5,1491.7 L773.5,1491.5 L774.5,1491.1 L775.5,1491.0 L776.5,1491.3 L777.5,1491.4 L778.5,1490.9 L779.5,1490.9 L780.5,1490.9 L781.5,1491.0 L782.5,1491.4 L783.5,1491.5 L784.5,1491.6 L785.5,1491.6 L786.5,1491.0 L787.5,1491.1 L788.5,1491.6 L789.5,1491.4 L790.5,1491.2 L791.5,1491.4 L792.5,1491.6 L793.5,1491.7 L794.5,1491.3 L795.5,1491.1 L796.5,1491.1 L797.5,1491.4 L798.5,1491.5 L799.5,1491.5 L800.5,1491.4 L801.5,1491.1 L802.5,1491.3 L803.5,1491.7 L804.5,1491.6 L805.0,1491.1 L805.5,1490.7 L806.5,1490.5 L807.5,1490.5 L808.5,1490.4 L809.5,1490.0 L810.5,1489.6 L811.0,1489.7 L811.5,1490.2 L812.5,1490.3 L813.5,1490.2 L814.5,1490.3 L815.5,1490.5 L816.5,1491.3 L817.5,1492.2 L818.0,1491.9 L818.5,1491.4 L819.5,1491.2 L820.5,1490.9 L821.5,1490.9 L822.5,1491.2 L823.5,1491.6 L824.5,1491.6 L825.5,1491.3 L826.5,1491.5 L827.5,1491.6 L828.5,1491.2 L829.5,1491.2 L830.5,1491.2 L831.5,1491.6 L832.5,1491.9 L833.5,1491.7 L834.5,1491.4 L835.5,1491.3 L836.5,1491.6 L837.5,1491.7 L838.5,1491.5 L839.5,1491.4 L840.5,1491.6 L841.5,1491.5 L842.5,1491.1 L843.5,1491.1 L844.5,1491.3 L845.5,1491.6 L846.5,1491.8 L847.5,1491.8 L848.5,1491.6 L849.5,1491.3 L850.5,1491.0 L851.5,1491.1 L852.5,1491.3 L853.5,1491.4 L854.5,1491.2 L855.5,1491.0 L856.5,1491.1 L857.5,1491.3 L858.5,1491.4 L859.5,1491.5 L860.5,1491.6 L861.5,1491.3 L862.5,1490.9 L863.5,1490.9 L864.5,1491.1 L865.5,1491.5 L866.5,1491.8 L867.5,1491.5 L868.5,1491.2 L869.5,1490.7 L870.5,1490.5 L871.5,1490.8 L872.5,1490.9 L873.5,1490.9 L874.5,1491.1 L875.5,1491.4 L876.5,1491.6 L877.5,1491.8 L878.5,1491.5 L879.5,1491.2 L880.5,1491.2 L881.5,1491.2 L882.5,1491.2 L883.5,1491.5 L884.5,1491.5 L885.5,1491.1 L886.5,1491.4 L887.5,1492.1 L888.5,1491.9 L889.5,1491.7 L890.5,1491.8 L891.5,1491.6 L892.5,1491.3 L893.5,1491.2 L894.5,1491.0 L895.5,1490.9 L896.5,1490.8 L897.5,1491.0 L898.5,1491.0 L899.5,1490.9 L900.0,1491.1 L900.5,1491.0 L901.5,1490.9 L902.5,1490.8 L903.5,1490.5 L904.5,1490.6 L905.5,1490.9 L906.5,1490.9 L907.5,1490.6 L908.5,1490.3 L909.5,1489.9 L910.0,1489.6 L910.5,1489.4 L911.5,1489.3 L912.5,1489.1 L913.5,1488.5 L914.5,1488.1 L915.5,1488.1 L916.5,1488.2 L917.5,1488.0 L918.5,1488.3 L919.5,1488.5 L920.5,1488.7 L921.5,1489.1 L922.5,1489.7 L923.5,1490.2 L924.0,1490.5 L924.5,1490.7 L925.5,1490.3 L926.5,1490.2 L927.5,1490.7 L928.5,1490.9 L929.5,1491.2 L930.0,1491.8 L930.5,1491.8 L931.5,1491.4 L932.5,1491.3 L933.5,1491.2 L934.5,1491.1 L935.5,1490.8 L936.5,1490.6 L937.5,1490.9 L938.5,1491.5 L939.5,1491.4 L940.5,1491.1 L941.5,1491.1 L942.5,1491.1 L943.5,1491.1 L944.5,1491.0 L945.5,1491.0 L946.5,1490.9 L947.5,1490.7 L948.5,1490.8 L949.5,1490.7 L950.5,1490.5 L951.5,1490.5 L952.5,1490.9 L953.5,1490.6 L954.5,1489.9 L955.5,1489.5 L956.5,1489.6 L957.5,1490.3 L958.5,1490.6 L959.5,1490.3 L960.0,1490.0 L960.5,1490.1 L961.5,1490.3 L962.5,1490.3 L963.5,1490.1 L964.5,1490.2 L965.0,1490.2 L965.5,1489.9 L966.5,1489.5 L967.5,1489.3 L968.5,1489.4 L969.5,1489.9 L970.5,1490.6 L971.5,1490.7 L972.0,1490.6 L972.5,1490.8 L973.5,1490.9 L974.5,1490.7 L975.5,1490.7 L976.5,1490.6 L977.5,1490.1 L978.5,1489.9 L979.5,1490.1 L980.5,1490.0 L981.5,1489.9 L982.5,1490.0 L983.5,1490.1 L984.5,1490.1 L985.5,1489.8 L986.5,1489.8 L987.5,1489.8 L988.5,1489.8 L989.5,1489.8 L990.5,1489.7 L991.5,1489.7 L992.5,1489.3 L993.5,1489.2 L994.5,1489.7 L995.5,1490.1 L996.5,1490.0 L997.5,1490.0 L998.5,1490.2 L999.5,1490.5 L1000.0,1490.5 L1000.5,1490.4 L1001.5,1490.3 L1002.5,1490.7 L1003.5,1490.7 L1004.5,1490.5 L1005.5,1490.7 L1006.5,1490.8 L1007.5,1490.6 L1008.5,1490.4 L1009.5,1490.6 L1010.5,1490.2 L1011.5,1489.8 L1012.5,1490.1 L1013.5,1490.1 L1014.5,1489.8 L1015.5,1489.7 L1016.5,1489.6 L1017.5,1489.9 L1018.5,1490.0 L1019.5,1490.0 L1020.5,1490.2 L1021.5,1490.0 L1022.5,1489.6 L1023.5,1489.5 L1024.5,1489.8 L1025.5,1489.9 L1026.5,1489.5 L1027.5,1489.4 L1028.5,1489.7 L1029.5,1489.7 L1030.0,1489.8 L1030.5,1489.8 L1031.5,1489.4 L1032.5,1489.0 L1033.5,1488.8 L1034.5,1488.9 L1035.5,1489.3 L1036.5,1489.2 L1037.5,1488.8 L1038.5,1488.9 L1039.5,1488.9 L1040.5,1488.9 L1041.5,1489.0 L1042.5,1488.5 L1043.5,1488.0 L1044.5,1487.8 L1045.0,1487.8 L1045.5,1488.2 L1046.5,1488.1 L1047.5,1487.6 L1048.5,1487.5 L1049.5,1487.6 L1050.5,1487.4 L1051.5,1486.6 L1052.5,1485.8 L1053.5,1485.5 L1054.5,1485.4 L1055.5,1485.2 L1056.5,1485.2 L1057.5,1485.0 L1058.5,1483.9 L1059.5,1482.9 L1060.5,1482.0 L1061.5,1480.7 L1062.5,1479.3 L1063.5,1477.7 L1064.5,1475.6 L1065.0,1474.9 L1065.5,1473.7 L1066.5,1469.2 L1067.5,1463.9 L1068.5,1458.6 L1069.5,1452.8 L1070.0,1449.6 L1070.5,1444.7 L1071.5,1433.1 L1072.5,1420.4 L1073.5,1407.8 L1073.8,1404.5 L1074.5,1396.6 L1075.5,1385.8 L1076.5,1374.9 L1077.5,1365.0 L1078.5,1356.7 L1079.2,1352.3 L1079.5,1353.5 L1080.5,1359.7 L1081.5,1368.4 L1082.5,1378.9 L1083.5,1389.7 L1084.5,1400.2 L1085.0,1405.2 L1085.5,1411.5 L1086.5,1424.8 L1087.5,1438.3 L1088.5,1451.6 L1088.8,1455.1 L1089.5,1462.7 L1090.5,1471.9 L1091.0,1475.3 L1091.5,1475.9 L1092.5,1476.4 L1093.5,1476.7 L1094.0,1476.9 L1094.5,1477.1 L1095.5,1477.2 L1096.5,1476.9 L1097.5,1476.2 L1098.5,1475.7 L1098.8,1475.8 L1099.5,1476.8 L1100.5,1477.9 L1101.5,1479.3 L1102.5,1480.6 L1103.0,1481.2 L1103.5,1481.4 L1104.5,1482.2 L1105.5,1483.3 L1106.5,1484.5 L1107.5,1485.4 L1108.5,1485.8 L1108.8,1486.0 L1109.5,1486.0 L1110.5,1485.5 L1111.5,1484.9 L1112.5,1484.2 L1113.5,1483.3 L1114.5,1482.7 L1115.0,1482.6 L1115.5,1482.7 L1116.5,1482.3 L1117.5,1481.7 L1118.5,1481.4 L1119.5,1481.2 L1120.5,1481.0 L1121.0,1481.0 L1121.5,1481.0 L1122.5,1480.9 L1123.5,1481.2 L1124.5,1482.0 L1125.5,1482.9 L1126.5,1483.4 L1127.5,1484.1 L1128.0,1484.5 L1128.5,1484.4 L1129.5,1484.8 L1130.5,1485.4 L1131.5,1486.0 L1132.5,1486.8 L1133.5,1487.5 L1134.5,1487.9 L1135.5,1488.1 L1136.5,1488.3 L1137.5,1488.6 L1138.5,1488.6 L1139.5,1488.6 L1140.5,1489.2 L1141.5,1489.5 L1142.5,1489.4 L1143.5,1489.4 L1144.5,1489.6 L1145.5,1489.8 L1146.5,1490.1 L1147.5,1490.2 L1148.5,1490.0 L1149.5,1490.1 L1150.0,1490.2 L1150.5,1490.1 L1151.5,1489.8 L1152.5,1489.7 L1153.5,1489.8 L1154.5,1490.3 L1155.5,1490.4 L1156.5,1490.1 L1157.5,1490.1 L1158.5,1490.3 L1159.5,1490.4 L1160.5,1490.3 L1161.5,1490.3 L1162.5,1490.1 L1163.5,1489.9 L1164.5,1489.7 L1165.5,1489.4 L1166.5,1489.2 L1167.5,1489.4 L1168.5,1489.6 L1169.5,1490.1 L1170.5,1490.3 L1171.5,1490.0 L1172.5,1489.9 L1173.5,1489.9 L1174.5,1489.9 L1175.5,1490.1 L1176.5,1490.1 L1177.5,1489.9 L1178.5,1489.7 L1179.5,1489.9 L1180.5,1490.1 L1181.5,1490.2 L1182.0,1490.3 L1182.5,1490.2 L1183.5,1489.9 L1184.5,1489.2 L1185.5,1488.9 L1186.5,1488.8 L1187.5,1488.5 L1188.5,1488.2 L1189.5,1488.0 L1190.5,1487.3 L1191.5,1486.5 L1192.5,1486.1 L1193.5,1485.4 L1194.5,1484.3 L1195.5,1482.5 L1196.5,1480.8 L1197.5,1479.4 L1198.5,1477.9 L1199.5,1476.2 L1200.0,1475.2 L1200.5,1472.6 L1201.5,1467.0 L1202.5,1460.4 L1203.5,1453.1 L1204.5,1445.7 L1205.0,1442.1 L1205.5,1438.6 L1206.5,1431.3 L1207.5,1423.8 L1208.5,1416.0 L1209.5,1408.9 L1210.5,1403.3 L1211.2,1400.1 L1211.5,1400.8 L1212.5,1406.2 L1213.5,1412.5 L1214.5,1419.2 L1215.5,1427.0 L1216.5,1435.1 L1217.5,1442.3 L1218.5,1450.0 L1219.5,1458.5 L1220.5,1466.9 L1221.5,1474.3 L1222.5,1480.0 L1223.5,1481.5 L1224.5,1482.9 L1225.5,1484.0 L1226.5,1485.1 L1227.5,1486.0 L1228.5,1485.7 L1229.5,1485.7 L1230.5,1485.9 L1231.5,1485.9 L1232.5,1485.8 L1233.5,1485.7 L1234.5,1485.2 L1235.5,1485.1 L1236.5,1485.1 L1237.5,1484.9 L1238.5,1485.0 L1238.8,1485.2 L1239.5,1485.2 L1240.5,1485.6 L1241.5,1486.3 L1242.5,1487.1 L1243.5,1487.7 L1244.0,1488.0 L1244.5,1488.3 L1245.5,1488.7 L1246.5,1489.3 L1247.5,1489.6 L1248.5,1489.8 L1249.5,1490.1 L1250.0,1490.2 L1250.5,1490.2 L1251.5,1490.2 L1252.5,1489.9 L1253.5,1489.9 L1254.5,1490.3 L1255.5,1490.2 L1256.5,1490.2 L1257.5,1490.6 L1258.5,1490.8 L1259.5,1491.1 L1260.5,1491.2 L1261.5,1490.9 L1262.5,1490.8 L1263.5,1490.7 L1264.5,1490.4 L1265.5,1490.6 L1266.5,1490.7 L1267.5,1490.6 L1268.5,1490.6 L1269.5,1490.5 L1270.0,1491.0 L1270.5,1491.0 L1271.5,1490.6 L1272.5,1490.8 L1273.5,1491.2 L1274.5,1490.9 L1275.5,1490.4 L1276.5,1490.5 L1277.5,1491.1 L1278.5,1491.2 L1279.5,1490.7 L1280.5,1490.5 L1281.5,1490.5 L1282.5,1490.6 L1283.5,1490.8 L1284.5,1490.7 L1285.5,1490.8 L1286.5,1491.2 L1287.5,1491.0 L1288.5,1490.8 L1289.5,1491.0 L1290.5,1490.9 L1291.5,1490.8 L1292.5,1490.8 L1293.5,1490.7 L1294.5,1490.9 L1295.5,1491.2 L1296.5,1491.0 L1297.5,1490.8 L1298.5,1490.5 L1299.5,1490.3 L1300.5,1490.6 L1301.5,1490.9 L1302.5,1491.0 L1303.5,1490.8 L1304.5,1490.6 L1305.5,1490.5 L1306.5,1490.7 L1307.5,1490.9 L1308.5,1491.1 L1309.5,1490.8 L1310.5,1490.6 L1311.5,1490.6 L1312.5,1490.6 L1313.5,1490.4 L1314.5,1490.0 L1315.5,1490.0 L1316.5,1490.3 L1317.5,1490.7 L1318.5,1490.8 L1319.5,1490.9 L1320.5,1490.9 L1321.5,1490.8 L1322.5,1491.0 L1323.5,1490.9 L1324.5,1490.8 L1325.5,1490.9 L1326.5,1490.5 L1327.5,1490.3 L1328.5,1490.6 L1329.5,1490.8 L1330.5,1490.5 L1331.5,1490.2 L1332.5,1490.4 L1333.5,1491.0 L1334.5,1491.5 L1335.5,1491.4 L1336.5,1490.8 L1337.5,1490.6 L1338.5,1490.6 L1339.5,1490.5 L1340.5,1490.7 L1341.5,1490.8 L1342.5,1490.7 L1343.5,1490.7 L1344.5,1490.6 L1345.5,1490.8 L1346.5,1491.1 L1347.5,1491.0 L1348.5,1490.7 L1349.5,1490.6 L1350.5,1490.8 L1351.5,1491.0 L1352.5,1491.2 L1353.5,1491.3 L1354.5,1490.9 L1355.5,1490.8 L1356.5,1491.2 L1357.5,1491.4 L1358.5,1491.2 L1359.5,1491.0 L1360.5,1490.5 L1361.5,1490.4 L1362.5,1490.7 L1363.5,1490.8 L1364.5,1490.6 L1365.5,1490.7 L1366.5,1491.2 L1367.5,1491.0 L1368.5,1491.0 L1369.5,1491.0 L1370.5,1490.7 L1371.5,1490.7 L1372.5,1490.8 L1373.5,1490.8 L1374.5,1490.7 L1375.5,1490.6 L1376.5,1490.6 L1377.5,1490.5 L1378.5,1490.7 L1379.5,1490.9 L1380.5,1490.9 L1381.5,1490.7 L1382.5,1490.6 L1383.5,1490.9 L1384.5,1490.8 L1385.5,1490.4 L1386.5,1490.6 L1387.5,1490.7 L1388.5,1490.4 L1389.5,1490.5 L1390.5,1490.7 L1391.5,1490.6 L1392.5,1490.7 L1393.5,1491.0 L1394.5,1490.6 L1395.5,1490.2 L1396.5,1490.0 L1397.5,1490.1 L1398.5,1490.5 L1399.5,1491.2 L1400.5,1491.1 L1401.5,1490.8 L1402.5,1491.2 L1403.5,1491.1 L1404.5,1490.9 L1405.5,1491.0 L1406.5,1490.8 L1407.5,1490.4 L1408.5,1490.1 L1409.5,1490.3 L1410.5,1490.6 L1411.5,1490.6 L1412.5,1490.7 L1413.5,1490.8 L1414.5,1490.7 L1415.5,1490.8 L1416.5,1490.8 L1417.5,1490.6 L1418.5,1490.5 L1419.5,1490.5 L1420.5,1490.4 L1421.5,1490.2 L1422.5,1490.5 L1423.5,1490.8 L1424.5,1491.0 L1425.5,1490.8 L1426.5,1490.5 L1427.5,1490.2 L1428.5,1490.0 L1429.5,1490.3 L1430.5,1491.1 L1431.5,1491.4 L1432.5,1491.1 L1433.5,1491.0 L1434.5,1491.0 L1435.5,1490.7 L1436.5,1490.3 L1437.5,1490.5 L1438.5,1491.1 L1439.5,1491.2 L1440.5,1490.9 L1441.5,1490.7 L1442.5,1490.6 L1443.5,1490.5 L1444.5,1490.2 L1445.5,1490.2 L1446.5,1490.5 L1447.5,1490.6 L1448.5,1490.9 L1449.5,1491.2 L1450.5,1491.0 L1451.5,1490.7 L1452.5,1490.6 L1453.5,1490.6 L1454.5,1490.9 L1455.5,1490.9 L1456.5,1490.8 L1457.5,1491.0 L1458.5,1491.1 L1459.5,1490.7 L1460.5,1490.7 L1461.5,1491.1 L1462.5,1491.2 L1463.5,1491.0 L1464.5,1490.8 L1465.5,1490.7 L1466.5,1490.7 L1467.5,1490.8 L1468.5,1490.7 L1469.5,1490.7 L1470.0,1491.1 L1470.5,1490.8 L1471.5,1490.2 L1472.5,1490.2 L1473.5,1490.1 L1474.5,1489.9 L1475.5,1489.9 L1476.5,1490.0 L1477.5,1489.9 L1478.0,1489.6 L1478.5,1489.3 L1479.5,1489.5 L1480.5,1489.5 L1481.5,1489.2 L1482.5,1489.2 L1483.5,1489.1 L1484.5,1488.8 L1485.0,1488.7 L1485.5,1488.6 L1486.5,1488.7 L1487.5,1489.1 L1488.5,1489.8 L1489.5,1490.2 L1490.5,1490.3 L1491.5,1490.4 L1492.0,1490.0 L1492.5,1489.9 L1493.5,1490.4 L1494.5,1490.8 L1495.5,1490.8 L1496.5,1490.5 L1497.5,1490.3 L1498.5,1490.6 L1499.5,1490.9 L1500.0,1490.5 L1500.5,1490.1 L1501.5,1490.6 L1502.5,1491.1 L1503.5,1491.2 L1504.5,1490.8 L1505.5,1490.4 L1506.5,1490.6 L1507.5,1490.8 L1508.5,1490.7 L1509.5,1490.7 L1510.5,1490.7 L1511.5,1490.8 L1512.5,1490.9 L1513.5,1491.0 L1514.5,1491.4 L1515.5,1491.2 L1516.5,1490.8 L1517.5,1490.6 L1518.5,1490.6 L1519.5,1490.5 L1520.5,1490.2 L1521.5,1490.2 L1522.5,1490.6 L1523.5,1490.4 L1524.5,1489.9 L1525.5,1489.9 L1526.5,1490.4 L1527.5,1490.8 L1528.5,1490.7 L1529.5,1490.6 L1530.5,1490.7 L1531.5,1490.7 L1532.5,1490.6 L1533.5,1490.8 L1534.5,1491.0 L1535.5,1491.1 L1536.5,1490.9 L1537.5,1490.7 L1538.5,1490.5 L1539.5,1490.4 L1540.5,1490.4 L1541.5,1490.5 L1542.5,1490.7 L1543.5,1490.9 L1544.5,1491.0 L1545.5,1491.0 L1546.5,1491.0 L1547.5,1491.0 L1548.5,1491.0 L1549.5,1491.1 L1550.5,1491.1 L1551.5,1491.0 L1552.5,1490.7 L1553.5,1490.3 L1554.5,1490.5 L1555.5,1491.1 L1556.5,1491.1 L1557.5,1490.9 L1558.5,1490.7 L1559.5,1491.0 L1560.5,1491.2 L1561.5,1490.8 L1562.5,1490.6 L1563.5,1490.6 L1564.5,1490.3 L1565.5,1490.2 L1566.5,1490.4 L1567.5,1490.5 L1568.5,1490.7 L1569.5,1490.7 L1570.5,1490.6 L1571.5,1490.9 L1572.5,1491.3 L1573.5,1491.0 L1574.5,1490.2 L1575.5,1490.0 L1576.5,1490.7 L1577.5,1490.9 L1578.5,1490.8 L1579.5,1490.9 L1580.5,1490.8 L1581.5,1490.6 L1582.5,1490.6 L1583.5,1490.7 L1584.5,1490.6 L1585.5,1490.7 L1586.5,1491.0 L1587.5,1490.8 L1588.5,1490.5 L1589.5,1490.8 L1590.5,1490.9 L1591.5,1490.6 L1592.5,1490.6 L1593.5,1490.7 L1594.5,1490.7 L1595.5,1490.8 L1596.5,1490.9 L1597.5,1491.0 L1598.5,1491.1 L1599.5,1490.8 L1600.5,1490.8 L1601.5,1491.4 L1602.5,1491.6 L1603.5,1491.0 L1604.5,1490.6 L1605.5,1490.6 L1606.5,1490.9 L1607.5,1490.8 L1608.5,1490.6 L1609.5,1490.9 L1610.5,1491.2 L1611.5,1491.3 L1612.5,1491.5 L1613.5,1491.3 L1614.5,1491.0 L1615.5,1490.9 L1616.5,1491.0 L1617.5,1491.2 L1618.5,1491.2 L1619.5,1491.1 L1620.5,1491.0 L1621.5,1491.1 L1622.5,1491.1 L1623.5,1490.7 L1624.5,1490.6 L1625.5,1491.1 L1626.5,1491.0 L1627.5,1490.7 L1628.5,1490.7 L1629.5,1490.5 L1630.5,1490.3 L1631.5,1490.3 L1632.5,1490.4 L1633.5,1490.6 L1634.5,1490.9 L1635.5,1491.0 L1636.5,1490.9 L1637.5,1490.8 L1638.5,1490.7 L1639.5,1490.5 L1640.5,1490.5 L1641.5,1490.8 L1642.5,1490.8 L1643.5,1490.7 L1644.5,1490.7 L1645.5,1490.6 L1646.5,1490.6 L1647.5,1490.9 L1648.5,1491.0 L1649.5,1490.7 L1650.5,1490.3 L1651.5,1490.6 L1652.5,1491.0 L1653.5,1490.9 L1654.5,1490.9 L1655.5,1490.9 L1656.5,1490.9 L1657.5,1490.6 L1658.5,1490.3 L1659.5,1490.7 L1660.5,1491.2 L1661.5,1491.0 L1662.5,1490.8 L1663.5,1490.7 L1664.5,1490.7 L1665.5,1490.9 L1666.5,1491.2 L1667.5,1491.3 L1668.5,1491.0 L1669.5,1490.6 L1670.5,1490.4 L1671.5,1490.2 L1672.5,1490.3 L1673.5,1490.5 L1674.5,1490.6 L1675.5,1491.0 L1676.5,1491.1 L1677.5,1490.6 L1678.5,1490.4 L1679.5,1490.6 L1680.5,1490.9 L1681.5,1490.9 L1682.5,1490.7 L1683.5,1490.6 L1684.5,1490.7 L1685.5,1490.6 L1686.5,1490.4 L1687.5,1490.1 L1688.5,1490.1 L1689.5,1490.4 L1690.5,1490.7 L1691.5,1491.2 L1692.5,1491.6 L1693.5,1491.5 L1694.5,1491.3 L1695.5,1491.2 L1696.5,1490.9 L1697.5,1490.9 L1698.5,1491.1 L1699.5,1490.7 L1700.5,1490.5 L1701.5,1490.8 L1702.5,1491.0 L1703.5,1490.9 L1704.5,1490.8 L1705.5,1490.6 L1706.5,1490.4 L1707.5,1490.7 L1708.5,1490.7 L1709.5,1490.4 L1710.5,1490.3 L1711.5,1490.6 L1712.5,1490.9 L1713.5,1491.0 L1714.5,1490.9 L1715.5,1490.8 L1716.5,1490.8 L1717.5,1490.7 L1718.5,1490.5 L1719.5,1490.3 L1720.0,1490.5 L1720.5,1490.7 L1721.5,1490.9 L1722.5,1490.7 L1723.5,1490.2 L1724.5,1490.3 L1725.5,1490.3 L1726.5,1490.1 L1727.5,1490.1 L1728.5,1489.9 L1729.0,1489.8 L1729.5,1489.9 L1730.5,1489.5 L1731.5,1489.3 L1732.5,1488.8 L1733.5,1488.2 L1734.5,1487.9 L1735.5,1487.7 L1736.0,1487.7 L1736.5,1487.8 L1737.5,1488.1 L1738.5,1488.9 L1739.5,1489.7 L1740.5,1489.9 L1741.5,1489.7 L1742.5,1489.6 L1743.0,1490.1 L1743.5,1490.5 L1744.5,1490.6 L1745.5,1490.6 L1746.5,1490.7 L1747.5,1490.7 L1748.5,1490.8 L1749.5,1491.1 L1750.0,1491.0 L1750.5,1491.1 L1751.5,1491.2 L1752.5,1490.9 L1753.5,1491.1 L1754.5,1491.4 L1755.5,1491.3 L1756.5,1491.3 L1757.5,1491.2 L1758.5,1491.2 L1759.5,1491.2 L1760.5,1491.0 L1761.5,1491.0 L1762.5,1491.2 L1763.5,1491.2 L1764.5,1491.0 L1765.5,1490.8 L1766.5,1491.0 L1767.5,1491.4 L1768.5,1491.4 L1769.5,1491.1 L1770.5,1490.9 L1771.5,1490.9 L1772.5,1491.2 L1773.5,1491.4 L1774.5,1491.3 L1775.5,1491.3 L1776.5,1491.2 L1777.5,1491.1 L1778.5,1490.9 L1779.5,1490.8 L1780.5,1490.9 L1781.5,1491.1 L1782.5,1491.1 L1783.5,1490.8 L1784.5,1490.7 L1785.5,1490.6 L1786.5,1490.5 L1787.5,1490.5 L1788.5,1490.8 L1789.5,1491.3 L1790.5,1491.4 L1791.5,1491.0 L1792.5,1490.9 L1793.5,1491.0 L1794.5,1490.9 L1795.5,1491.0 L1796.5,1491.2 L1797.5,1491.2 L1798.5,1490.9 L1799.5,1491.0 L1800.5,1491.2 L1801.5,1491.1 L1802.5,1490.8 L1803.5,1490.7 L1804.5,1490.8 L1805.5,1490.9 L1806.5,1491.0 L1807.5,1491.1 L1808.5,1490.9 L1809.5,1490.4 L1810.5,1490.4 L1811.5,1490.9 L1812.5,1491.2 L1813.5,1491.3 L1814.5,1491.1 L1815.5,1490.9 L1816.5,1491.0 L1817.5,1491.0 L1818.5,1490.9 L1819.5,1490.9 L1820.5,1491.2 L1821.5,1491.3 L1822.5,1491.2 L1823.5,1491.3 L1824.5,1491.1 L1825.5,1490.8 L1826.5,1490.4 L1827.5,1490.6 L1828.5,1491.4 L1829.5,1491.7 L1830.5,1491.2 L1831.5,1490.8 L1832.5,1490.9 L1833.5,1491.1 L1834.5,1491.1 L1835.5,1491.0 L1836.5,1490.8 L1837.5,1490.7 L1838.5,1490.7 L1839.5,1490.8 L1840.5,1491.0 L1841.5,1490.8 L1842.5,1490.8 L1843.5,1490.9 L1844.5,1491.1 L1845.5,1491.3 L1846.5,1491.2 L1847.5,1491.0 L1848.5,1490.7 L1849.5,1490.8 L1850.5,1491.1 L1851.5,1490.8 L1852.5,1490.7 L1853.5,1490.9 L1854.5,1491.2 L1855.5,1491.0 L1856.5,1490.9 L1857.5,1491.2 L1858.5,1491.4 L1859.5,1491.4 L1860.5,1491.3 L1861.5,1491.2 L1862.5,1490.9 L1863.5,1490.8 L1864.5,1490.8 L1865.5,1490.8 L1866.5,1491.0 L1867.5,1491.0 L1868.5,1491.1 L1869.5,1491.2 L1870.0,1490.9 L1870.5,1490.5 L1871.5,1490.4 L1872.5,1490.2 L1873.5,1490.0 L1874.5,1490.1 L1875.5,1489.8 L1876.5,1489.5 L1877.5,1489.6 L1878.5,1489.8 L1879.5,1489.7 L1880.5,1489.6 L1881.5,1489.2 L1882.5,1489.0 L1883.5,1489.1 L1884.5,1489.1 L1885.0,1488.8 L1885.5,1488.6 L1886.5,1488.6 L1887.5,1488.7 L1888.5,1489.0 L1889.5,1489.5 L1890.5,1490.1 L1891.5,1490.3 L1892.5,1490.3 L1893.5,1490.4 L1894.5,1490.8 L1895.5,1491.3 L1896.5,1491.6 L1897.5,1491.6 L1898.5,1491.3 L1899.5,1491.2 L1900.0,1491.3 L1900.5,1491.2 L1901.5,1491.0 L1902.5,1490.9 L1903.5,1491.1 L1904.5,1491.2 L1905.5,1491.2 L1906.5,1490.8 L1907.5,1490.6 L1908.5,1491.0 L1909.5,1491.2 L1910.5,1490.7 L1911.5,1490.6 L1912.5,1490.8 L1913.5,1490.7 L1914.5,1490.8 L1915.5,1491.3 L1916.5,1491.4 L1917.5,1490.8 L1918.5,1490.5 L1919.5,1491.1 L1920.5,1491.6 L1921.5,1491.6 L1922.5,1491.3 L1923.5,1490.9 L1924.5,1490.8 L1925.5,1490.9 L1926.5,1491.4 L1927.5,1491.1 L1928.5,1490.3 L1929.5,1490.4 L1930.5,1490.9 L1931.5,1491.1 L1932.5,1491.0 L1933.5,1491.3 L1934.5,1491.6 L1935.5,1491.1 L1936.5,1490.6 L1937.5,1490.6 L1938.5,1490.6 L1939.5,1490.7 L1940.5,1491.0 L1941.5,1490.9 L1942.5,1490.7 L1943.5,1490.8 L1944.5,1490.9 L1945.5,1491.0 L1946.5,1491.0 L1947.5,1491.0 L1948.5,1491.1 L1949.5,1491.1 L1950.5,1491.1 L1951.5,1490.9 L1952.5,1490.9 L1953.5,1490.8 L1954.5,1490.9 L1955.5,1491.3 L1956.5,1491.2 L1957.5,1490.9 L1958.5,1490.8 L1959.5,1490.9 L1960.5,1491.0 L1961.5,1490.9 L1962.5,1490.7 L1963.5,1490.5 L1964.5,1490.5 L1965.5,1490.8 L1966.5,1491.1 L1967.5,1490.8 L1968.5,1490.6 L1969.5,1491.1 L1970.5,1491.2 L1971.5,1490.6 L1972.5,1490.4 L1973.5,1490.9 L1974.5,1490.9 L1975.5,1490.5 L1976.5,1490.3 L1977.5,1490.6 L1978.5,1491.1 L1979.5,1491.2 L1980.0,1491.2 L1980.5,1491.0 L1981.5,1490.8 L1982.5,1490.7 L1983.5,1490.4 L1984.5,1490.0 L1985.5,1489.5 L1986.5,1489.2 L1987.5,1489.1 L1988.0,1488.9 L1988.5,1488.7 L1989.5,1488.5 L1990.5,1488.0 L1991.5,1487.3 L1992.5,1486.8 L1993.5,1486.9 L1994.3,1486.9 L1994.5,1486.3 L1995.5,1486.1 L1996.5,1486.6 L1997.5,1487.2 L1998.5,1487.7 L1999.5,1488.5 L2000.5,1489.4 L2001.0,1490.0 L2001.5,1490.2 L2002.5,1490.2 L2003.5,1490.2 L2004.5,1490.5 L2005.5,1490.5 L2006.5,1490.5 L2007.5,1490.8 L2008.0,1491.3 L2008.5,1491.3 L2009.5,1491.0 L2010.5,1490.9 L2011.5,1491.0 L2012.5,1491.1 L2013.5,1491.2 L2014.5,1491.2 L2015.5,1490.9 L2016.5,1490.6 L2017.5,1490.5 L2018.5,1490.7 L2019.5,1491.4 L2020.5,1491.6 L2021.5,1491.5 L2022.5,1491.6 L2023.5,1491.7 L2024.5,1491.3 L2025.5,1490.7 L2026.5,1490.5 L2027.5,1490.3 L2028.5,1490.4 L2029.5,1490.6 L2030.5,1490.9 L2031.5,1491.0 L2032.5,1490.8 L2033.5,1490.8 L2034.5,1491.0 L2035.5,1491.0 L2036.5,1490.6 L2037.5,1490.3 L2038.5,1490.7 L2039.5,1491.2 L2040.5,1491.0 L2041.5,1490.6 L2042.5,1490.8 L2043.5,1490.9 L2044.5,1490.9 L2045.5,1490.9 L2046.5,1490.8 L2047.5,1490.8 L2048.5,1491.2 L2049.5,1491.5 L2050.5,1491.1 L2051.5,1490.9 L2052.5,1491.0 L2053.5,1491.0 L2054.5,1490.7 L2055.5,1490.5 L2056.5,1490.8 L2057.5,1490.9 L2058.5,1490.8 L2059.5,1491.1 L2060.5,1491.1 L2061.5,1490.8 L2062.5,1490.5 L2063.5,1490.4 L2064.5,1490.5 L2065.5,1490.6 L2066.5,1491.0 L2067.5,1491.2 L2068.5,1490.7 L2069.5,1490.5 L2070.5,1490.6 L2071.5,1490.7 L2072.5,1490.9 L2073.5,1491.0 L2074.5,1490.9 L2075.0,1491.1 L2075.5,1491.4 L2076.5,1491.3 L2077.5,1490.9 L2078.5,1490.6 L2079.5,1490.3 L2080.5,1490.0 L2081.5,1490.2 L2082.5,1490.0 L2083.5,1489.7 L2084.5,1489.5 L2085.5,1489.1 L2086.5,1489.0 L2087.5,1489.4 L2087.8,1489.4 L2088.5,1489.3 L2089.5,1489.6 L2090.5,1489.7 L2091.5,1489.7 L2092.5,1489.8 L2093.5,1490.0 L2094.5,1490.2 L2095.5,1490.6 L2096.5,1491.0 L2097.5,1490.9 L2098.5,1491.0 L2099.5,1491.1 L2100.0,1491.1 L2100.5,1491.2 L2101.5,1491.0 L2102.5,1490.9 L2103.5,1490.8 L2104.5,1490.9 L2105.5,1491.3 L2106.5,1491.4 L2107.5,1491.1 L2108.5,1490.8 L2109.5,1490.8 L2110.5,1490.8 L2111.5,1491.1 L2112.5,1491.3 L2113.5,1491.2 L2114.5,1491.1 L2115.5,1491.3 L2116.5,1491.6 L2117.5,1491.3 L2118.5,1490.8 L2119.5,1490.8 L2120.5,1490.8 L2121.5,1490.7 L2122.0,1490.8 L2122.5,1490.4 L2123.5,1490.1 L2124.5,1490.2 L2125.5,1490.6 L2126.5,1490.7 L2127.5,1490.1 L2128.5,1489.4 L2129.5,1489.1 L2130.5,1489.2 L2131.5,1489.3 L2132.5,1489.1 L2133.5,1488.7 L2134.5,1488.4 L2135.0,1488.4 L2135.5,1488.6 L2136.5,1488.4 L2137.5,1488.6 L2138.5,1489.4 L2139.5,1489.9 L2140.5,1490.0 L2141.5,1490.0 L2142.5,1490.1 L2143.5,1490.4 L2144.5,1490.6 L2145.5,1491.1 L2146.5,1490.9 L2147.5,1490.6 L2148.0,1491.2 L2148.5,1491.5 L2149.5,1491.3 L2150.5,1491.2 L2151.5,1491.0 L2152.5,1490.5 L2153.5,1490.4 L2154.5,1490.9 L2155.5,1491.1 L2156.5,1490.9 L2157.5,1490.6 L2158.5,1490.8 L2159.5,1491.1 L2160.5,1491.0 L2161.5,1490.7 L2162.5,1490.7 L2163.5,1491.0 L2164.5,1491.1 L2165.5,1490.9 L2166.5,1490.7 L2167.5,1490.8 L2168.5,1491.1 L2169.5,1491.0 L2170.5,1491.1 L2171.5,1491.3 L2172.5,1490.9 L2173.5,1490.5 L2174.5,1490.5 L2175.5,1491.0 L2176.5,1491.4 L2177.5,1491.2 L2178.5,1491.1 L2179.5,1491.3 L2180.5,1491.3 L2181.5,1491.1 L2182.5,1491.3 L2183.5,1491.4 L2184.5,1490.9 L2185.5,1490.5 L2186.5,1490.9 L2187.5,1491.3 L2188.5,1491.4 L2189.5,1491.5 L2190.2,1491.0" stroke="#ff0000"/>
<circle cx="319.5" cy="1491.8" r="3.35" fill="#ff0000" stroke="none"/>
</g>
<g stroke="#000" stroke-width="3.6" fill="none" stroke-linecap="butt">
<path d="M298.25,345.5 V1554.8"/>
<path d="M296.45,1553.0 H2192"/>
<path d="M298.25,1477.50 H325.5"/>
<path d="M298.25,1326.88 H312.5"/>
<path d="M298.25,1176.25 H325.5"/>
<path d="M298.25,1025.62 H312.5"/>
<path d="M298.25,875.00 H325.5"/>
<path d="M298.25,724.38 H312.5"/>
<path d="M298.25,573.75 H325.5"/>
<path d="M298.25,423.12 H312.5"/>
<path d="M367.54,1553.0 V1538.8"/>
<path d="M461.02,1553.0 V1538.8"/>
<path d="M554.50,1553.0 V1526.0"/>
<path d="M647.98,1553.0 V1538.8"/>
<path d="M741.46,1553.0 V1538.8"/>
<path d="M834.94,1553.0 V1538.8"/>
<path d="M928.42,1553.0 V1538.8"/>
<path d="M1021.90,1553.0 V1526.0"/>
<path d="M1115.38,1553.0 V1538.8"/>
<path d="M1208.86,1553.0 V1538.8"/>
<path d="M1302.34,1553.0 V1538.8"/>
<path d="M1395.82,1553.0 V1538.8"/>
<path d="M1489.30,1553.0 V1526.0"/>
<path d="M1582.78,1553.0 V1538.8"/>
<path d="M1676.26,1553.0 V1538.8"/>
<path d="M1769.74,1553.0 V1538.8"/>
<path d="M1863.22,1553.0 V1538.8"/>
<path d="M1956.70,1553.0 V1526.0"/>
<path d="M2050.18,1553.0 V1538.8"/>
<path d="M2143.66,1553.0 V1538.8"/>
</g>
<g font-family='"Liberation Sans", Arial, Helvetica, sans-serif' font-size="55.4" fill="#000">
<text x="268.6" y="1494.1" text-anchor="end">0</text>
<text x="268.6" y="1192.8" text-anchor="end">20,000</text>
<text x="268.6" y="891.6" text-anchor="end">40,000</text>
<text x="268.6" y="590.4" text-anchor="end">60,000</text>
<text x="554.0" y="1624.3" text-anchor="middle">10</text>
<text x="1021.4" y="1624.3" text-anchor="middle">20</text>
<text x="1488.8" y="1624.3" text-anchor="middle">30</text>
<text x="1956.2" y="1624.3" text-anchor="middle">40</text>
<text x="1598.8" y="528.8">AZO</text>
<text x="1596.4" y="747.5">T1t-13-NPs</text>
<text x="1589.6" y="919.5">T2t-13-NPs</text>
<text x="1585.9" y="1118.8">T3t-13-NPs</text>
<text x="1583.9" y="1295.0">T3t-c12-NPs</text>
<text x="1589.9" y="1485.0">TDA</text>
<text x="319.8" y="641.5">5.2<tspan font-size="34.5" dx="0" dy="-27.3">o</tspan></text>
<text x="513.2" y="608.5">7.9<tspan font-size="34.5" dx="0" dy="-27.3">o</tspan></text>
<text x="657.4" y="402.5">10.8<tspan font-size="34.5" dx="0" dy="-27.3">o</tspan></text>
<text x="691.1" y="1007.0">11.1<tspan font-size="34.5" dx="0" dy="-27.3">o</tspan></text>
<text x="678.6" y="1222.5">11.0<tspan font-size="34.5" dx="0" dy="-27.3">o</tspan></text>
<text x="805.3" y="1406.2">21.2<tspan font-size="34.5" dx="0" dy="-27.3">o</tspan></text>
<text x="1326.0" y="1390.8">24.0<tspan font-size="34.5" dx="0" dy="-27.3">o</tspan></text>
</g>
<path d="M335.0,642.0 L335.0,660.5" stroke="#000" stroke-width="1.6" fill="none"/><path d="M335.0,693.5 L326.6,660.5 L343.4,660.5 Z" fill="#000"/>
<path d="M511.2,591.8 L494.1,584.4" stroke="#000" stroke-width="1.6" fill="none"/><path d="M463.8,571.5 L497.4,576.7 L490.8,592.2 Z" fill="#000"/>
<path d="M658.8,389.0 L628.8,400.7" stroke="#000" stroke-width="1.6" fill="none"/><path d="M598.1,412.8 L625.8,392.9 L631.9,408.5 Z" fill="#000"/>
<path d="M692.5,992.0 L642.9,989.0" stroke="#000" stroke-width="1.6" fill="none"/><path d="M610.0,987.0 L643.4,980.6 L642.4,997.4 Z" fill="#000"/>
<path d="M674.2,1194.5 L637.5,1179.5" stroke="#000" stroke-width="1.6" fill="none"/><path d="M607.0,1167.0 L640.7,1171.7 L634.4,1187.3 Z" fill="#000"/>
<path d="M940.6,1376.9 L1029.8,1364.5" stroke="#000" stroke-width="1.6" fill="none"/><path d="M1062.5,1360.0 L1031.0,1372.9 L1028.7,1356.2 Z" fill="#000"/>
<path d="M1313.8,1373.0 L1254.4,1388.6" stroke="#000" stroke-width="1.6" fill="none"/><path d="M1222.5,1397.0 L1252.3,1380.5 L1256.6,1396.7 Z" fill="#000"/>
<text x="1244.2" y="1718.8" font-family='"Liberation Sans", Arial, Helvetica, sans-serif' font-size="68.85" text-anchor="middle" fill="#000">Two-Theta (deg)</text>
<text transform="translate(66.2,904.4) rotate(-90)" font-family='"Liberation Sans", Arial, Helvetica, sans-serif' font-size="68.4" text-anchor="middle" fill="#000">Intensity (counts)</text>
<rect x="805.7" y="24.4" width="1418.8" height="461" fill="#fff" stroke="#4a4a4a" stroke-width="1.9"/>
<g font-family='"Liberation Sans", Arial, Helvetica, sans-serif' font-size="61.55" fill="#000">
<path d="M858.5,71 H994.2" stroke="#000" stroke-width="7" stroke-linecap="round" fill="none"/>
<text x="1012.1" y="92.3">AZO: Azoxystrobin</text>
<path d="M858.5,147 H994.2" stroke="#ff0000" stroke-width="7" stroke-linecap="round" fill="none"/>
<text x="1012.1" y="168.3">TDA: 1-Tetradecanol</text>
<path d="M858.5,223 H994.2" stroke="#0000ff" stroke-width="7" stroke-linecap="round" fill="none"/>
<text x="1012.1" y="244.3">T1t-NPs: AZO/DEP/TDA/T80=5/10/10/6</text>
<path d="M858.5,299 H994.2" stroke="#ff00ff" stroke-width="7" stroke-linecap="round" fill="none"/>
<text x="1012.1" y="320.3">T2t-NPs: AZO/DEP/TDA/T80=5/10/5/6</text>
<path d="M858.5,375 H994.2" stroke="#008000" stroke-width="7" stroke-linecap="round" fill="none"/>
<text x="1012.1" y="396.3">T3t-13-NPs: AZO/DEP/TDA/T80=5/10/2.5/6</text>
<path d="M858.5,451 H994.2" stroke="#000080" stroke-width="7" stroke-linecap="round" fill="none"/>
<text x="1012.1" y="472.3">T3t-c12-NPs: T3t-13/CTAB/10%AZO</text>
</g>
</svg>
</body></html>
